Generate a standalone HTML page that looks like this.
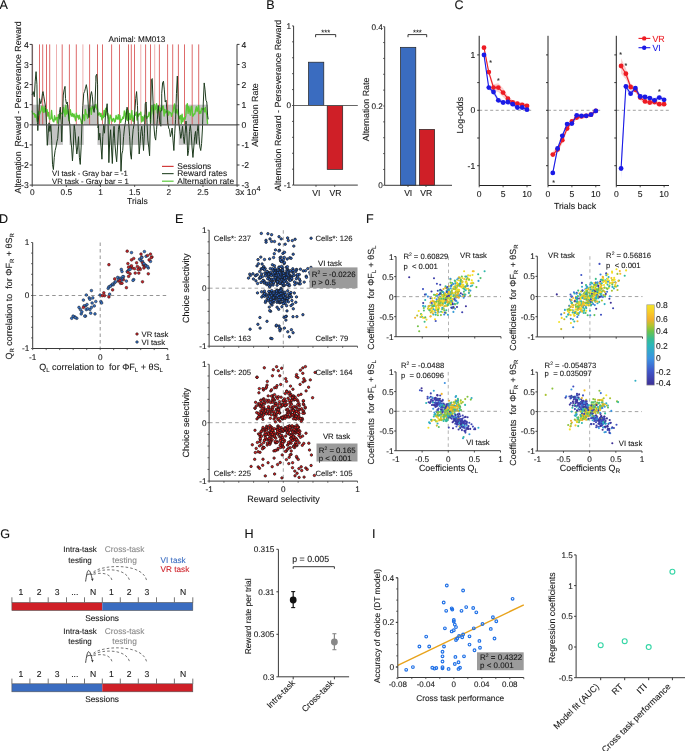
<!DOCTYPE html>
<html><head><meta charset="utf-8"><style>
html,body{margin:0;padding:0;background:#fff;}
svg{display:block;font-family:"Liberation Sans", sans-serif;will-change:transform;}
text{text-rendering:geometricPrecision;stroke:#000;stroke-width:0.2px;stroke-opacity:0.45;}
</style></head><body>
<svg width="685" height="751" viewBox="0 0 685 751">
<rect width="685" height="751" fill="#fff"/>
<text x="-0.6" y="9.0" font-size="12.6" fill="#111">A</text>
<text x="266.2" y="9.1" font-size="12.6" fill="#111">B</text>
<text x="454.4" y="9.2" font-size="12.6" fill="#111">C</text>
<text x="-1" y="223.4" font-size="12.6" fill="#111">D</text>
<text x="175.1" y="223.1" font-size="12.6" fill="#111">E</text>
<text x="366" y="222.9" font-size="12.6" fill="#111">F</text>
<text x="0.2" y="537.8" font-size="12.6" fill="#111">G</text>
<text x="244.5" y="537.8" font-size="12.6" fill="#111">H</text>
<text x="371.9" y="537.8" font-size="12.6" fill="#111">I</text>
<rect x="32.20" y="104.70" width="14.34" height="20.10" fill="#c4c4c4" stroke="none" stroke-width="0"/>
<rect x="62.94" y="104.70" width="6.49" height="20.10" fill="#c4c4c4" stroke="none" stroke-width="0"/>
<rect x="83.77" y="104.70" width="13.66" height="20.10" fill="#c4c4c4" stroke="none" stroke-width="0"/>
<rect x="151.04" y="104.70" width="27.73" height="20.10" fill="#c4c4c4" stroke="none" stroke-width="0"/>
<rect x="184.99" y="104.70" width="23.02" height="20.10" fill="#c4c4c4" stroke="none" stroke-width="0"/>
<rect x="46.54" y="124.80" width="16.39" height="20.10" fill="#c4c4c4" stroke="none" stroke-width="0"/>
<rect x="69.42" y="124.80" width="14.34" height="20.10" fill="#c4c4c4" stroke="none" stroke-width="0"/>
<rect x="97.43" y="124.80" width="52.25" height="20.10" fill="#c4c4c4" stroke="none" stroke-width="0"/>
<rect x="178.77" y="124.80" width="21.45" height="20.10" fill="#c4c4c4" stroke="none" stroke-width="0"/>
<line x1="32.60" y1="44.40" x2="32.60" y2="124.80" stroke="#d23c3c" stroke-width="0.9" stroke-opacity="0.45"/>
<line x1="39.50" y1="44.40" x2="39.50" y2="124.80" stroke="#d23c3c" stroke-width="0.9" stroke-opacity="0.85"/>
<line x1="42.70" y1="44.40" x2="42.70" y2="124.80" stroke="#d23c3c" stroke-width="0.9" stroke-opacity="0.85"/>
<line x1="46.50" y1="44.40" x2="46.50" y2="124.80" stroke="#d23c3c" stroke-width="0.9" stroke-opacity="0.85"/>
<line x1="49.70" y1="44.40" x2="49.70" y2="124.80" stroke="#d23c3c" stroke-width="0.9" stroke-opacity="0.85"/>
<line x1="56.50" y1="44.40" x2="56.50" y2="124.80" stroke="#d23c3c" stroke-width="0.9" stroke-opacity="0.45"/>
<line x1="62.20" y1="44.40" x2="62.20" y2="124.80" stroke="#d23c3c" stroke-width="0.9" stroke-opacity="0.85"/>
<line x1="69.40" y1="44.40" x2="69.40" y2="124.80" stroke="#d23c3c" stroke-width="0.9" stroke-opacity="0.85"/>
<line x1="76.30" y1="44.40" x2="76.30" y2="124.80" stroke="#d23c3c" stroke-width="0.9" stroke-opacity="0.85"/>
<line x1="82.90" y1="44.40" x2="82.90" y2="124.80" stroke="#d23c3c" stroke-width="0.9" stroke-opacity="0.45"/>
<line x1="89.60" y1="44.40" x2="89.60" y2="124.80" stroke="#d23c3c" stroke-width="0.9" stroke-opacity="0.85"/>
<line x1="97.50" y1="44.40" x2="97.50" y2="124.80" stroke="#d23c3c" stroke-width="0.9" stroke-opacity="0.85"/>
<line x1="102.50" y1="44.40" x2="102.50" y2="124.80" stroke="#d23c3c" stroke-width="0.9" stroke-opacity="0.85"/>
<line x1="111.60" y1="44.40" x2="111.60" y2="124.80" stroke="#d23c3c" stroke-width="0.9" stroke-opacity="0.85"/>
<line x1="119.50" y1="44.40" x2="119.50" y2="124.80" stroke="#d23c3c" stroke-width="0.9" stroke-opacity="0.85"/>
<line x1="128.50" y1="44.40" x2="128.50" y2="124.80" stroke="#d23c3c" stroke-width="0.9" stroke-opacity="0.85"/>
<line x1="131.30" y1="44.40" x2="131.30" y2="124.80" stroke="#d23c3c" stroke-width="0.9" stroke-opacity="0.85"/>
<line x1="134.50" y1="44.40" x2="134.50" y2="124.80" stroke="#d23c3c" stroke-width="0.9" stroke-opacity="0.85"/>
<line x1="140.80" y1="44.40" x2="140.80" y2="124.80" stroke="#d23c3c" stroke-width="0.9" stroke-opacity="0.45"/>
<line x1="145.60" y1="44.40" x2="145.60" y2="124.80" stroke="#d23c3c" stroke-width="0.9" stroke-opacity="0.85"/>
<line x1="150.50" y1="44.40" x2="150.50" y2="124.80" stroke="#d23c3c" stroke-width="0.9" stroke-opacity="0.85"/>
<line x1="154.70" y1="44.40" x2="154.70" y2="124.80" stroke="#d23c3c" stroke-width="0.9" stroke-opacity="0.45"/>
<line x1="159.40" y1="44.40" x2="159.40" y2="124.80" stroke="#d23c3c" stroke-width="0.9" stroke-opacity="0.85"/>
<line x1="167.60" y1="44.40" x2="167.60" y2="124.80" stroke="#d23c3c" stroke-width="0.9" stroke-opacity="0.85"/>
<line x1="172.70" y1="44.40" x2="172.70" y2="124.80" stroke="#d23c3c" stroke-width="0.9" stroke-opacity="0.85"/>
<line x1="178.40" y1="44.40" x2="178.40" y2="124.80" stroke="#d23c3c" stroke-width="0.9" stroke-opacity="0.85"/>
<line x1="184.50" y1="44.40" x2="184.50" y2="124.80" stroke="#d23c3c" stroke-width="0.9" stroke-opacity="0.85"/>
<line x1="192.20" y1="44.40" x2="192.20" y2="124.80" stroke="#d23c3c" stroke-width="0.9" stroke-opacity="0.85"/>
<line x1="198.70" y1="44.40" x2="198.70" y2="124.80" stroke="#d23c3c" stroke-width="0.9" stroke-opacity="0.85"/>
<path d="M32.08,110.66 L32.83,113.88 L33.58,113.78 L34.33,113.52 L35.08,117.26 L35.83,114.72 L36.58,117.71 L37.33,121.58 L38.08,113.43 L38.83,111.44 L39.58,114.16 L40.33,112.15 L41.08,110.61 L41.83,106.17 L42.58,109.09 L43.33,112.45 L44.08,106.70 L44.83,112.07 L45.58,108.58 L46.33,111.32 L47.08,109.60 L47.83,116.08 L48.58,112.53 L49.33,118.89 L50.08,119.20 L50.83,118.65 L51.58,110.54 L52.33,118.81 L53.08,121.01 L53.83,121.81 L54.58,115.76 L55.33,119.94 L56.08,118.06 L56.83,117.39 L57.58,123.18 L58.33,114.77 L59.08,116.40 L59.83,118.85 L60.58,112.52 L61.33,113.57 L62.08,113.66 L62.83,112.73 L63.58,107.41 L64.33,111.98 L65.08,116.48 L65.83,105.06 L66.58,114.11 L67.33,112.05 L68.08,109.91 L68.83,120.69 L69.58,116.74 L70.33,109.57 L71.08,114.41 L71.83,116.32 L72.58,113.41 L73.33,116.72 L74.08,114.25 L74.83,117.41 L75.58,120.72 L76.33,113.06 L77.08,117.06 L77.83,115.65 L78.58,119.02 L79.33,115.15 L80.08,118.59 L80.83,120.03 L81.58,123.81 L82.33,124.00 L83.08,114.62 L83.83,116.15 L84.58,120.50 L85.33,109.35 L86.08,114.03 L86.83,114.30 L87.58,118.32 L88.33,115.04 L89.08,110.05 L89.83,108.77 L90.58,108.09 L91.33,114.38 L92.08,106.59 L92.83,106.69 L93.58,108.80 L94.33,106.89 L95.08,107.16 L95.83,104.24 L96.58,108.99 L97.33,107.91 L98.08,115.19 L98.83,114.46 L99.58,112.83 L100.33,116.39 L101.08,113.50 L101.83,119.73 L102.58,115.68 L103.33,117.73 L104.08,110.42 L104.83,116.45 L105.58,108.71 L106.33,107.96 L107.08,115.10 L107.83,113.39 L108.58,118.00 L109.33,124.00 L110.08,115.04 L110.83,116.20 L111.58,119.73 L112.33,121.20 L113.08,118.65 L113.83,118.54 L114.58,121.99 L115.33,121.30 L116.08,115.33 L116.83,118.77 L117.58,119.01 L118.33,114.68 L119.08,119.49 L119.83,115.34 L120.58,122.48 L121.33,119.71 L122.08,119.50 L122.83,117.03 L123.58,118.45 L124.33,110.93 L125.08,113.85 L125.83,119.15 L126.58,109.41 L127.33,120.52 L128.08,110.48 L128.83,119.81 L129.58,113.53 L130.33,119.52 L131.08,116.87 L131.83,110.34 L132.58,120.74 L133.33,121.34 L134.08,115.61 L134.83,114.82 L135.58,115.25 L136.33,112.15 L137.08,120.15 L137.83,114.10 L138.58,116.16 L139.33,113.53 L140.08,114.35 L140.83,112.06 L141.58,121.88 L142.33,116.71 L143.08,121.15 L143.83,117.72 L144.58,115.22 L145.33,116.80 L146.08,116.10 L146.83,118.45 L147.58,116.74 L148.33,116.65 L149.08,112.18 L149.83,113.97 L150.58,122.47 L151.33,110.26 L152.08,105.43 L152.83,110.53 L153.58,114.97 L154.33,104.47 L155.08,109.58 L155.83,108.21 L156.58,103.74 L157.33,113.03 L158.08,109.96 L158.83,110.14 L159.58,107.05 L160.33,111.82 L161.08,108.23 L161.83,109.93 L162.58,106.44 L163.33,106.04 L164.08,116.04 L164.83,109.41 L165.58,112.82 L166.33,111.96 L167.08,110.75 L167.83,110.69 L168.58,115.20 L169.33,111.84 L170.08,112.60 L170.83,112.80 L171.58,116.25 L172.33,113.43 L173.08,111.36 L173.83,106.83 L174.58,103.85 L175.33,112.90 L176.08,113.15 L176.83,109.13 L177.58,112.41 L178.33,115.01 L179.08,116.89 L179.83,118.92 L180.58,115.37 L181.33,123.88 L182.08,114.14 L182.83,121.78 L183.58,118.32 L184.33,117.70 L185.08,119.45 L185.83,115.89 L186.58,105.59 L187.33,103.71 L188.08,113.42 L188.83,106.64 L189.58,110.79 L190.33,115.15 L191.08,106.84 L191.83,106.19 L192.58,116.32 L193.33,115.63 L194.08,113.77 L194.83,114.10 L195.58,109.94 L196.33,106.71 L197.08,111.59 L197.83,108.34 L198.58,105.60 L199.33,113.58 L200.08,111.35 L200.83,113.31 L201.58,108.20 L202.33,109.64 L203.08,108.53 L203.83,108.52 L204.58,111.88 L205.33,107.41 L206.08,111.83 L206.83,115.14 L207.58,124.00" fill="none" stroke="#5ac836" stroke-width="1.35" stroke-linejoin="round"/>
<path d="M32.08,95.06 L33.12,91.59 L34.33,96.79 L35.20,81.20 L36.07,71.66 L36.93,84.66 L37.45,122.79 L37.80,130.59 L38.67,115.86 L39.53,98.53 L40.75,103.73 L41.61,100.26 L42.48,93.33 L43.00,91.59 L43.86,96.79 L44.73,101.99 L45.60,107.19 L46.46,122.79 L47.33,145.32 L48.20,133.19 L49.06,122.79 L49.93,131.46 L50.80,124.52 L51.66,140.12 L52.53,164.38 L53.40,169.58 L54.26,157.45 L55.13,150.52 L56.00,147.05 L56.86,141.85 L57.73,138.39 L58.60,126.26 L59.46,112.39 L60.33,107.19 L61.20,124.52 L61.72,141.85 L62.58,115.86 L63.28,95.06 L64.14,89.86 L65.01,86.40 L65.53,98.53 L66.40,103.73 L67.26,101.99 L68.13,110.66 L68.99,119.32 L69.86,124.52 L70.73,140.12 L71.59,147.05 L72.46,160.92 L73.33,147.05 L74.19,124.52 L75.06,131.46 L75.93,143.59 L76.79,153.99 L77.66,147.05 L78.53,136.66 L79.39,157.45 L80.26,164.38 L81.13,147.05 L81.99,122.79 L82.86,105.46 L83.73,93.33 L84.59,91.59 L85.46,88.13 L86.33,84.66 L87.19,89.86 L88.06,101.99 L88.93,117.59 L89.79,107.19 L90.66,95.06 L91.53,91.59 L92.39,96.79 L93.26,108.93 L94.12,112.39 L94.99,103.73 L95.86,81.20 L95.87,76.00 L96.72,74.26 L96.73,74.26 L97.59,84.66 L97.60,101.99 L98.12,127.99 L98.46,124.52 L98.81,140.12 L99.85,133.19 L101.07,147.05 L101.93,159.19 L102.80,136.66 L103.67,124.52 L104.53,133.19 L105.40,115.86 L106.27,110.66 L107.13,103.73 L108.00,119.32 L108.86,162.65 L109.73,140.12 L110.60,129.72 L111.46,147.05 L112.33,163.52 L113.20,138.39 L114.06,126.26 L114.93,143.59 L115.80,153.99 L116.66,161.79 L117.53,147.05 L118.40,129.72 L119.26,124.52 L120.13,133.19 L121.00,171.32 L121.86,153.99 L122.73,150.52 L123.60,136.66 L124.46,127.99 L125.33,122.79 L126.20,115.86 L127.06,107.19 L127.93,110.66 L128.80,124.52 L129.66,136.66 L130.53,153.99 L131.40,159.19 L132.26,140.12 L133.13,129.72 L133.99,124.52 L134.86,110.66 L135.73,98.53 L136.59,91.59 L137.46,105.46 L138.33,131.46 L139.19,153.99 L140.06,143.59 L140.93,131.46 L141.79,126.26 L142.66,136.66 L143.53,150.52 L144.39,133.19 L145.26,103.73 L146.13,101.99 L146.99,122.79 L147.86,140.12 L148.73,147.05 L149.59,155.72 L150.46,119.32 L151.33,79.46 L152.19,78.60 L153.06,101.99 L153.93,126.26 L154.79,136.66 L155.66,140.12 L156.53,129.72 L157.39,119.32 L158.26,105.46 L159.12,115.86 L159.99,122.79 L160.00,122.79 L160.86,126.26 L160.87,110.66 L161.72,110.66 L161.73,93.33 L162.60,82.93 L163.47,81.20 L164.33,89.86 L165.20,101.99 L166.07,100.26 L166.93,110.66 L167.80,122.79 L168.67,127.99 L169.53,129.72 L170.40,136.66 L171.27,133.19 L172.13,127.99 L173.00,140.12 L173.86,150.52 L174.73,133.19 L175.60,119.32 L176.46,93.33 L177.33,76.00 L178.20,101.99 L179.06,124.52 L179.93,131.46 L180.80,138.39 L181.66,133.19 L182.53,126.26 L183.40,136.66 L184.26,143.59 L185.13,133.19 L186.00,121.06 L186.86,133.19 L187.73,155.72 L188.60,150.52 L189.46,131.46 L190.33,124.52 L191.20,133.19 L192.06,147.05 L192.93,157.45 L193.80,147.05 L194.66,136.66 L195.53,131.46 L196.40,143.59 L197.26,131.46 L198.13,124.52 L198.99,136.66 L199.86,147.05 L200.73,150.52 L201.59,143.59 L202.46,127.99 L203.33,101.99 L204.19,82.93 L205.06,89.86 L205.93,100.26 L206.79,101.99 L207.66,115.86 L208.18,119.32" fill="none" stroke="#1e3b1e" stroke-width="1.0" stroke-linejoin="round"/>
<line x1="32.20" y1="124.80" x2="237.00" y2="124.80" stroke="#555" stroke-width="1.2"/>
<line x1="32.20" y1="44.40" x2="32.20" y2="185.10" stroke="#3a3a3a" stroke-width="1"/>
<line x1="237.00" y1="44.40" x2="237.00" y2="185.10" stroke="#3a3a3a" stroke-width="1"/>
<line x1="32.20" y1="185.10" x2="237.00" y2="185.10" stroke="#3a3a3a" stroke-width="1"/>
<line x1="29.70" y1="185.10" x2="32.20" y2="185.10" stroke="#3a3a3a" stroke-width="1"/>
<line x1="237.00" y1="185.10" x2="239.50" y2="185.10" stroke="#3a3a3a" stroke-width="1"/>
<text x="28.70" y="188.20" font-size="8.6" text-anchor="end" fill="#1a1a1a">-3</text>
<text x="241.50" y="188.20" font-size="8.6" text-anchor="start" fill="#1a1a1a">-3</text>
<line x1="29.70" y1="165.00" x2="32.20" y2="165.00" stroke="#3a3a3a" stroke-width="1"/>
<line x1="237.00" y1="165.00" x2="239.50" y2="165.00" stroke="#3a3a3a" stroke-width="1"/>
<text x="28.70" y="168.10" font-size="8.6" text-anchor="end" fill="#1a1a1a">-2</text>
<text x="241.50" y="168.10" font-size="8.6" text-anchor="start" fill="#1a1a1a">-2</text>
<line x1="29.70" y1="144.90" x2="32.20" y2="144.90" stroke="#3a3a3a" stroke-width="1"/>
<line x1="237.00" y1="144.90" x2="239.50" y2="144.90" stroke="#3a3a3a" stroke-width="1"/>
<text x="28.70" y="148.00" font-size="8.6" text-anchor="end" fill="#1a1a1a">-1</text>
<text x="241.50" y="148.00" font-size="8.6" text-anchor="start" fill="#1a1a1a">-1</text>
<line x1="29.70" y1="124.80" x2="32.20" y2="124.80" stroke="#3a3a3a" stroke-width="1"/>
<line x1="237.00" y1="124.80" x2="239.50" y2="124.80" stroke="#3a3a3a" stroke-width="1"/>
<text x="28.70" y="127.90" font-size="8.6" text-anchor="end" fill="#1a1a1a">0</text>
<text x="241.50" y="127.90" font-size="8.6" text-anchor="start" fill="#1a1a1a">0</text>
<line x1="29.70" y1="104.70" x2="32.20" y2="104.70" stroke="#3a3a3a" stroke-width="1"/>
<line x1="237.00" y1="104.70" x2="239.50" y2="104.70" stroke="#3a3a3a" stroke-width="1"/>
<text x="28.70" y="107.80" font-size="8.6" text-anchor="end" fill="#1a1a1a">1</text>
<text x="241.50" y="107.80" font-size="8.6" text-anchor="start" fill="#1a1a1a">1</text>
<line x1="29.70" y1="84.60" x2="32.20" y2="84.60" stroke="#3a3a3a" stroke-width="1"/>
<line x1="237.00" y1="84.60" x2="239.50" y2="84.60" stroke="#3a3a3a" stroke-width="1"/>
<text x="28.70" y="87.70" font-size="8.6" text-anchor="end" fill="#1a1a1a">2</text>
<text x="241.50" y="87.70" font-size="8.6" text-anchor="start" fill="#1a1a1a">2</text>
<line x1="29.70" y1="64.50" x2="32.20" y2="64.50" stroke="#3a3a3a" stroke-width="1"/>
<line x1="237.00" y1="64.50" x2="239.50" y2="64.50" stroke="#3a3a3a" stroke-width="1"/>
<text x="28.70" y="67.60" font-size="8.6" text-anchor="end" fill="#1a1a1a">3</text>
<text x="241.50" y="67.60" font-size="8.6" text-anchor="start" fill="#1a1a1a">3</text>
<line x1="29.70" y1="44.40" x2="32.20" y2="44.40" stroke="#3a3a3a" stroke-width="1"/>
<line x1="237.00" y1="44.40" x2="239.50" y2="44.40" stroke="#3a3a3a" stroke-width="1"/>
<text x="28.70" y="47.50" font-size="8.6" text-anchor="end" fill="#1a1a1a">4</text>
<text x="241.50" y="47.50" font-size="8.6" text-anchor="start" fill="#1a1a1a">4</text>
<line x1="32.20" y1="185.10" x2="32.20" y2="186.80" stroke="#3a3a3a" stroke-width="1"/>
<text x="32.20" y="194.89" font-size="8.3" text-anchor="middle" fill="#1a1a1a">0</text>
<line x1="66.35" y1="185.10" x2="66.35" y2="186.80" stroke="#3a3a3a" stroke-width="1"/>
<text x="66.35" y="194.89" font-size="8.3" text-anchor="middle" fill="#1a1a1a">0.5</text>
<line x1="100.50" y1="185.10" x2="100.50" y2="186.80" stroke="#3a3a3a" stroke-width="1"/>
<text x="100.50" y="194.89" font-size="8.3" text-anchor="middle" fill="#1a1a1a">1</text>
<line x1="134.65" y1="185.10" x2="134.65" y2="186.80" stroke="#3a3a3a" stroke-width="1"/>
<text x="134.65" y="194.89" font-size="8.3" text-anchor="middle" fill="#1a1a1a">1.5</text>
<line x1="168.80" y1="185.10" x2="168.80" y2="186.80" stroke="#3a3a3a" stroke-width="1"/>
<text x="168.80" y="194.89" font-size="8.3" text-anchor="middle" fill="#1a1a1a">2</text>
<line x1="202.95" y1="185.10" x2="202.95" y2="186.80" stroke="#3a3a3a" stroke-width="1"/>
<text x="202.95" y="194.89" font-size="8.3" text-anchor="middle" fill="#1a1a1a">2.5</text>
<line x1="237.10" y1="185.10" x2="237.10" y2="186.80" stroke="#3a3a3a" stroke-width="1"/>
<text x="235.20" y="195.00" font-size="8.6" text-anchor="start" fill="#1a1a1a">3x 10</text>
<text x="256.60" y="191.09" font-size="7.2" text-anchor="start" fill="#1a1a1a">4</text>
<text x="137.40" y="203.80" font-size="8.6" text-anchor="middle" fill="#1a1a1a">Trials</text>
<text x="137.00" y="42.25" font-size="8.2" text-anchor="middle" fill="#1a1a1a">Animal: MM013</text>
<text x="17.60" y="110.57" font-size="8.8" text-anchor="middle" fill="#1a1a1a" transform="rotate(-90 17.60 107.40)">Alternation&#160; Reward - Perseverance Reward</text>
<text x="255.20" y="118.20" font-size="8.9" text-anchor="middle" fill="#1a1a1a" transform="rotate(-90 255.20 115.00)">Alternation Rate</text>
<text x="52.00" y="176.37" font-size="7.7" text-anchor="start" fill="#1a1a1a">VI task - Gray bar = -1</text>
<text x="52.00" y="184.47" font-size="7.7" text-anchor="start" fill="#1a1a1a">VR task - Gray bar = 1</text>
<line x1="162.00" y1="166.40" x2="173.60" y2="166.40" stroke="#d23c3c" stroke-width="1.2"/>
<text x="177.30" y="169.12" font-size="8.4" text-anchor="start" fill="#1a1a1a">Sessions</text>
<line x1="162.00" y1="173.60" x2="173.60" y2="173.60" stroke="#3a563a" stroke-width="1.2"/>
<text x="177.30" y="176.32" font-size="8.4" text-anchor="start" fill="#1a1a1a">Reward rates</text>
<line x1="162.00" y1="181.20" x2="173.60" y2="181.20" stroke="#5cc83c" stroke-width="1.2"/>
<text x="177.30" y="183.92" font-size="8.4" text-anchor="start" fill="#1a1a1a">Alternation rate</text>
<rect x="308.50" y="62.20" width="15.30" height="43.30" fill="#3a6cc0" stroke="#222" stroke-width="0.7"/>
<rect x="327.20" y="105.50" width="15.50" height="63.90" fill="#cf1f27" stroke="#222" stroke-width="0.7"/>
<line x1="293.60" y1="105.50" x2="357.80" y2="105.50" stroke="#555" stroke-width="0.9"/>
<line x1="293.60" y1="25.90" x2="293.60" y2="185.10" stroke="#3a3a3a" stroke-width="1"/>
<line x1="293.60" y1="185.10" x2="357.80" y2="185.10" stroke="#3a3a3a" stroke-width="1"/>
<line x1="292.00" y1="185.10" x2="293.60" y2="185.10" stroke="#3a3a3a" stroke-width="0.8"/>
<line x1="292.00" y1="169.18" x2="293.60" y2="169.18" stroke="#3a3a3a" stroke-width="0.8"/>
<line x1="292.00" y1="153.26" x2="293.60" y2="153.26" stroke="#3a3a3a" stroke-width="0.8"/>
<line x1="292.00" y1="137.34" x2="293.60" y2="137.34" stroke="#3a3a3a" stroke-width="0.8"/>
<line x1="292.00" y1="121.42" x2="293.60" y2="121.42" stroke="#3a3a3a" stroke-width="0.8"/>
<line x1="292.00" y1="105.50" x2="293.60" y2="105.50" stroke="#3a3a3a" stroke-width="0.8"/>
<line x1="292.00" y1="89.58" x2="293.60" y2="89.58" stroke="#3a3a3a" stroke-width="0.8"/>
<line x1="292.00" y1="73.66" x2="293.60" y2="73.66" stroke="#3a3a3a" stroke-width="0.8"/>
<line x1="292.00" y1="57.74" x2="293.60" y2="57.74" stroke="#3a3a3a" stroke-width="0.8"/>
<line x1="292.00" y1="41.82" x2="293.60" y2="41.82" stroke="#3a3a3a" stroke-width="0.8"/>
<line x1="292.00" y1="25.90" x2="293.60" y2="25.90" stroke="#3a3a3a" stroke-width="0.8"/>
<text x="291.00" y="28.85" font-size="8.2" text-anchor="end" fill="#1a1a1a">1</text>
<text x="291.00" y="108.45" font-size="8.2" text-anchor="end" fill="#1a1a1a">0</text>
<text x="291.00" y="188.05" font-size="8.2" text-anchor="end" fill="#1a1a1a">-1</text>
<line x1="315.60" y1="37.20" x2="315.60" y2="34.60" stroke="#222" stroke-width="0.9"/>
<line x1="315.60" y1="34.60" x2="335.70" y2="34.60" stroke="#222" stroke-width="0.9"/>
<line x1="335.70" y1="34.60" x2="335.70" y2="37.20" stroke="#222" stroke-width="0.9"/>
<text x="325.70" y="35.34" font-size="7.6" text-anchor="middle" fill="#1a1a1a">***</text>
<line x1="316.00" y1="185.10" x2="316.00" y2="186.70" stroke="#3a3a3a" stroke-width="1"/>
<line x1="334.70" y1="185.10" x2="334.70" y2="186.70" stroke="#3a3a3a" stroke-width="1"/>
<text x="316.40" y="195.80" font-size="8.6" text-anchor="middle" fill="#1a1a1a">VI</text>
<text x="335.50" y="195.80" font-size="8.6" text-anchor="middle" fill="#1a1a1a">VR</text>
<text x="277.60" y="108.50" font-size="8.9" text-anchor="middle" fill="#1a1a1a" transform="rotate(-90 277.60 105.30)">Alternation Reward - Perseverance Reward</text>
<rect x="400.50" y="47.32" width="15.30" height="137.98" fill="#3a6cc0" stroke="#222" stroke-width="0.7"/>
<rect x="419.40" y="129.39" width="15.20" height="55.91" fill="#cf1f27" stroke="#222" stroke-width="0.7"/>
<line x1="384.70" y1="26.70" x2="384.70" y2="185.30" stroke="#3a3a3a" stroke-width="1"/>
<line x1="384.70" y1="185.30" x2="452.00" y2="185.30" stroke="#3a3a3a" stroke-width="1"/>
<line x1="383.10" y1="185.30" x2="384.70" y2="185.30" stroke="#3a3a3a" stroke-width="0.8"/>
<line x1="383.10" y1="169.44" x2="384.70" y2="169.44" stroke="#3a3a3a" stroke-width="0.8"/>
<line x1="383.10" y1="153.58" x2="384.70" y2="153.58" stroke="#3a3a3a" stroke-width="0.8"/>
<line x1="383.10" y1="137.72" x2="384.70" y2="137.72" stroke="#3a3a3a" stroke-width="0.8"/>
<line x1="383.10" y1="121.86" x2="384.70" y2="121.86" stroke="#3a3a3a" stroke-width="0.8"/>
<line x1="383.10" y1="106.00" x2="384.70" y2="106.00" stroke="#3a3a3a" stroke-width="0.8"/>
<line x1="383.10" y1="90.14" x2="384.70" y2="90.14" stroke="#3a3a3a" stroke-width="0.8"/>
<line x1="383.10" y1="74.28" x2="384.70" y2="74.28" stroke="#3a3a3a" stroke-width="0.8"/>
<line x1="383.10" y1="58.42" x2="384.70" y2="58.42" stroke="#3a3a3a" stroke-width="0.8"/>
<line x1="383.10" y1="42.56" x2="384.70" y2="42.56" stroke="#3a3a3a" stroke-width="0.8"/>
<line x1="383.10" y1="26.70" x2="384.70" y2="26.70" stroke="#3a3a3a" stroke-width="0.8"/>
<text x="382.80" y="29.65" font-size="8.2" text-anchor="end" fill="#1a1a1a">0.4</text>
<text x="382.80" y="108.95" font-size="8.2" text-anchor="end" fill="#1a1a1a">0.2</text>
<text x="382.80" y="188.25" font-size="8.2" text-anchor="end" fill="#1a1a1a">0</text>
<line x1="408.00" y1="37.20" x2="408.00" y2="34.60" stroke="#222" stroke-width="0.9"/>
<line x1="408.00" y1="34.60" x2="426.70" y2="34.60" stroke="#222" stroke-width="0.9"/>
<line x1="426.70" y1="34.60" x2="426.70" y2="37.20" stroke="#222" stroke-width="0.9"/>
<text x="417.40" y="35.34" font-size="7.6" text-anchor="middle" fill="#1a1a1a">***</text>
<line x1="408.00" y1="185.30" x2="408.00" y2="186.90" stroke="#3a3a3a" stroke-width="1"/>
<line x1="426.00" y1="185.30" x2="426.00" y2="186.90" stroke="#3a3a3a" stroke-width="1"/>
<text x="408.20" y="195.80" font-size="8.6" text-anchor="middle" fill="#1a1a1a">VI</text>
<text x="426.30" y="195.80" font-size="8.6" text-anchor="middle" fill="#1a1a1a">VR</text>
<text x="366.20" y="112.60" font-size="8.9" text-anchor="middle" fill="#1a1a1a" transform="rotate(-90 366.20 109.40)">Alternation Rate</text>
<line x1="479.20" y1="110.30" x2="531.20" y2="110.30" stroke="#999" stroke-width="0.9" stroke-dasharray="3,2.5"/>
<path d="M483.98,44.93 L488.76,69.30 L493.54,84.26 L498.32,83.15 L503.10,88.14 L507.88,95.90 L512.66,100.33 L517.44,101.44 L522.22,102.54 L527.00,103.65 L527.00,108.08 L522.22,106.98 L517.44,105.87 L512.66,104.76 L507.88,101.44 L503.10,97.00 L498.32,92.02 L493.54,90.91 L488.76,74.84 L483.98,50.47Z" fill="#f4a0a0" fill-opacity="0.5"/>
<path d="M483.98,52.68 L488.76,85.37 L493.54,89.80 L498.32,98.11 L503.10,100.33 L507.88,99.77 L512.66,101.99 L517.44,105.31 L522.22,105.31 L527.00,107.53 L527.00,111.96 L522.22,109.75 L517.44,109.75 L512.66,106.42 L507.88,104.21 L503.10,104.76 L498.32,102.54 L493.54,94.23 L488.76,89.80 L483.98,57.12Z" fill="#a8a8f4" fill-opacity="0.5"/>
<path d="M483.98,47.70 L488.76,72.07 L493.54,87.59 L498.32,87.59 L503.10,92.57 L507.88,98.67 L512.66,102.54 L517.44,103.65 L522.22,104.76 L527.00,105.87" fill="none" stroke="#ee1c24" stroke-width="1.1" stroke-linejoin="round"/>
<circle cx="484.0" cy="47.7" r="2.4" fill="#ee1c24" stroke="none" stroke-width="0"/>
<circle cx="488.8" cy="72.1" r="2.4" fill="#ee1c24" stroke="none" stroke-width="0"/>
<circle cx="493.5" cy="87.6" r="2.4" fill="#ee1c24" stroke="none" stroke-width="0"/>
<circle cx="498.3" cy="87.6" r="2.4" fill="#ee1c24" stroke="none" stroke-width="0"/>
<circle cx="503.1" cy="92.6" r="2.4" fill="#ee1c24" stroke="none" stroke-width="0"/>
<circle cx="507.9" cy="98.7" r="2.4" fill="#ee1c24" stroke="none" stroke-width="0"/>
<circle cx="512.7" cy="102.5" r="2.4" fill="#ee1c24" stroke="none" stroke-width="0"/>
<circle cx="517.4" cy="103.7" r="2.4" fill="#ee1c24" stroke="none" stroke-width="0"/>
<circle cx="522.2" cy="104.8" r="2.4" fill="#ee1c24" stroke="none" stroke-width="0"/>
<circle cx="527.0" cy="105.9" r="2.4" fill="#ee1c24" stroke="none" stroke-width="0"/>
<path d="M483.98,54.90 L488.76,87.59 L493.54,92.02 L498.32,100.33 L503.10,102.54 L507.88,101.99 L512.66,104.21 L517.44,107.53 L522.22,107.53 L527.00,109.75" fill="none" stroke="#1a1ae6" stroke-width="1.1" stroke-linejoin="round"/>
<circle cx="484.0" cy="54.9" r="2.4" fill="#1a1ae6" stroke="none" stroke-width="0"/>
<circle cx="488.8" cy="87.6" r="2.4" fill="#1a1ae6" stroke="none" stroke-width="0"/>
<circle cx="493.5" cy="92.0" r="2.4" fill="#1a1ae6" stroke="none" stroke-width="0"/>
<circle cx="498.3" cy="100.3" r="2.4" fill="#1a1ae6" stroke="none" stroke-width="0"/>
<circle cx="503.1" cy="102.5" r="2.4" fill="#1a1ae6" stroke="none" stroke-width="0"/>
<circle cx="507.9" cy="102.0" r="2.4" fill="#1a1ae6" stroke="none" stroke-width="0"/>
<circle cx="512.7" cy="104.2" r="2.4" fill="#1a1ae6" stroke="none" stroke-width="0"/>
<circle cx="517.4" cy="107.5" r="2.4" fill="#1a1ae6" stroke="none" stroke-width="0"/>
<circle cx="522.2" cy="107.5" r="2.4" fill="#1a1ae6" stroke="none" stroke-width="0"/>
<circle cx="527.0" cy="109.7" r="2.4" fill="#1a1ae6" stroke="none" stroke-width="0"/>
<text x="490.67" y="65.37" font-size="7" text-anchor="middle" fill="#222">*</text>
<text x="498.32" y="82.54" font-size="7" text-anchor="middle" fill="#222">*</text>
<line x1="479.20" y1="35.80" x2="479.20" y2="185.50" stroke="#222" stroke-width="1"/>
<line x1="479.20" y1="185.50" x2="531.20" y2="185.50" stroke="#222" stroke-width="1"/>
<line x1="477.20" y1="54.90" x2="479.20" y2="54.90" stroke="#222" stroke-width="0.9"/>
<line x1="477.20" y1="82.60" x2="479.20" y2="82.60" stroke="#222" stroke-width="0.9"/>
<line x1="477.20" y1="110.30" x2="479.20" y2="110.30" stroke="#222" stroke-width="0.9"/>
<line x1="477.20" y1="138.00" x2="479.20" y2="138.00" stroke="#222" stroke-width="0.9"/>
<line x1="477.20" y1="165.70" x2="479.20" y2="165.70" stroke="#222" stroke-width="0.9"/>
<line x1="479.20" y1="185.50" x2="479.20" y2="187.30" stroke="#222" stroke-width="0.8"/>
<text x="479.20" y="197.40" font-size="8.6" text-anchor="middle" fill="#1a1a1a">0</text>
<line x1="503.10" y1="185.50" x2="503.10" y2="187.30" stroke="#222" stroke-width="0.8"/>
<text x="503.10" y="197.40" font-size="8.6" text-anchor="middle" fill="#1a1a1a">5</text>
<line x1="527.00" y1="185.50" x2="527.00" y2="187.30" stroke="#222" stroke-width="0.8"/>
<text x="527.00" y="197.40" font-size="8.6" text-anchor="middle" fill="#1a1a1a">10</text>
<text x="475.20" y="58.00" font-size="8.6" text-anchor="end" fill="#1a1a1a">1</text>
<text x="475.20" y="113.40" font-size="8.6" text-anchor="end" fill="#1a1a1a">0</text>
<text x="475.20" y="168.80" font-size="8.6" text-anchor="end" fill="#1a1a1a">-1</text>
<line x1="548.00" y1="110.30" x2="600.20" y2="110.30" stroke="#999" stroke-width="0.9" stroke-dasharray="3,2.5"/>
<path d="M552.78,151.85 L557.56,146.31 L562.34,136.89 L567.12,125.81 L571.90,119.16 L576.68,115.29 L581.46,114.18 L586.24,113.62 L591.02,112.52 L595.80,108.64 L595.80,113.07 L591.02,116.95 L586.24,118.06 L581.46,118.61 L576.68,119.72 L571.90,123.60 L567.12,131.35 L562.34,143.54 L557.56,152.96 L552.78,157.39Z" fill="#f4a0a0" fill-opacity="0.5"/>
<path d="M552.78,170.13 L557.56,146.31 L562.34,133.57 L567.12,121.93 L571.90,121.38 L576.68,113.62 L581.46,114.18 L586.24,114.18 L591.02,113.07 L595.80,109.19 L595.80,112.52 L591.02,116.39 L586.24,117.50 L581.46,117.50 L576.68,116.95 L571.90,125.81 L567.12,126.37 L562.34,138.00 L557.56,150.74 L552.78,175.67Z" fill="#a8a8f4" fill-opacity="0.5"/>
<path d="M552.78,154.62 L557.56,149.63 L562.34,140.22 L567.12,128.58 L571.90,121.38 L576.68,117.50 L581.46,116.39 L586.24,115.84 L591.02,114.73 L595.80,110.85" fill="none" stroke="#ee1c24" stroke-width="1.1" stroke-linejoin="round"/>
<circle cx="552.8" cy="154.6" r="2.4" fill="#ee1c24" stroke="none" stroke-width="0"/>
<circle cx="557.6" cy="149.6" r="2.4" fill="#ee1c24" stroke="none" stroke-width="0"/>
<circle cx="562.3" cy="140.2" r="2.4" fill="#ee1c24" stroke="none" stroke-width="0"/>
<circle cx="567.1" cy="128.6" r="2.4" fill="#ee1c24" stroke="none" stroke-width="0"/>
<circle cx="571.9" cy="121.4" r="2.4" fill="#ee1c24" stroke="none" stroke-width="0"/>
<circle cx="576.7" cy="117.5" r="2.4" fill="#ee1c24" stroke="none" stroke-width="0"/>
<circle cx="581.5" cy="116.4" r="2.4" fill="#ee1c24" stroke="none" stroke-width="0"/>
<circle cx="586.2" cy="115.8" r="2.4" fill="#ee1c24" stroke="none" stroke-width="0"/>
<circle cx="591.0" cy="114.7" r="2.4" fill="#ee1c24" stroke="none" stroke-width="0"/>
<circle cx="595.8" cy="110.9" r="2.4" fill="#ee1c24" stroke="none" stroke-width="0"/>
<path d="M552.78,172.90 L557.56,148.53 L562.34,135.78 L567.12,124.15 L571.90,123.60 L576.68,115.29 L581.46,115.84 L586.24,115.84 L591.02,114.73 L595.80,110.85" fill="none" stroke="#1a1ae6" stroke-width="1.1" stroke-linejoin="round"/>
<circle cx="552.8" cy="172.9" r="2.4" fill="#1a1ae6" stroke="none" stroke-width="0"/>
<circle cx="557.6" cy="148.5" r="2.4" fill="#1a1ae6" stroke="none" stroke-width="0"/>
<circle cx="562.3" cy="135.8" r="2.4" fill="#1a1ae6" stroke="none" stroke-width="0"/>
<circle cx="567.1" cy="124.1" r="2.4" fill="#1a1ae6" stroke="none" stroke-width="0"/>
<circle cx="571.9" cy="123.6" r="2.4" fill="#1a1ae6" stroke="none" stroke-width="0"/>
<circle cx="576.7" cy="115.3" r="2.4" fill="#1a1ae6" stroke="none" stroke-width="0"/>
<circle cx="581.5" cy="115.8" r="2.4" fill="#1a1ae6" stroke="none" stroke-width="0"/>
<circle cx="586.2" cy="115.8" r="2.4" fill="#1a1ae6" stroke="none" stroke-width="0"/>
<circle cx="591.0" cy="114.7" r="2.4" fill="#1a1ae6" stroke="none" stroke-width="0"/>
<circle cx="595.8" cy="110.9" r="2.4" fill="#1a1ae6" stroke="none" stroke-width="0"/>
<text x="553.74" y="185.03" font-size="7" text-anchor="middle" fill="#222">*</text>
<line x1="548.00" y1="35.80" x2="548.00" y2="185.50" stroke="#222" stroke-width="1"/>
<line x1="548.00" y1="185.50" x2="600.20" y2="185.50" stroke="#222" stroke-width="1"/>
<line x1="546.00" y1="54.90" x2="548.00" y2="54.90" stroke="#222" stroke-width="0.9"/>
<line x1="546.00" y1="82.60" x2="548.00" y2="82.60" stroke="#222" stroke-width="0.9"/>
<line x1="546.00" y1="110.30" x2="548.00" y2="110.30" stroke="#222" stroke-width="0.9"/>
<line x1="546.00" y1="138.00" x2="548.00" y2="138.00" stroke="#222" stroke-width="0.9"/>
<line x1="546.00" y1="165.70" x2="548.00" y2="165.70" stroke="#222" stroke-width="0.9"/>
<line x1="548.00" y1="185.50" x2="548.00" y2="187.30" stroke="#222" stroke-width="0.8"/>
<text x="548.00" y="197.40" font-size="8.6" text-anchor="middle" fill="#1a1a1a">0</text>
<line x1="571.90" y1="185.50" x2="571.90" y2="187.30" stroke="#222" stroke-width="0.8"/>
<text x="571.90" y="197.40" font-size="8.6" text-anchor="middle" fill="#1a1a1a">5</text>
<line x1="595.80" y1="185.50" x2="595.80" y2="187.30" stroke="#222" stroke-width="0.8"/>
<text x="595.80" y="197.40" font-size="8.6" text-anchor="middle" fill="#1a1a1a">10</text>
<line x1="616.30" y1="110.30" x2="669.00" y2="110.30" stroke="#999" stroke-width="0.9" stroke-dasharray="3,2.5"/>
<path d="M621.08,58.22 L625.86,68.20 L630.64,83.71 L635.42,87.03 L640.20,94.79 L644.98,99.22 L649.76,100.33 L654.54,99.77 L659.32,101.99 L664.10,101.99 L664.10,106.42 L659.32,106.42 L654.54,104.21 L649.76,104.76 L644.98,103.65 L640.20,100.33 L635.42,92.57 L630.64,90.36 L625.86,79.28 L621.08,73.74Z" fill="#f4a0a0" fill-opacity="0.5"/>
<path d="M621.08,157.39 L625.86,83.71 L630.64,90.91 L635.42,85.92 L640.20,94.23 L644.98,94.79 L649.76,95.90 L654.54,98.11 L659.32,95.34 L664.10,97.56 L664.10,101.99 L659.32,99.77 L654.54,102.54 L649.76,100.33 L644.98,99.22 L640.20,98.67 L635.42,90.36 L630.64,96.45 L625.86,89.25 L621.08,179.55Z" fill="#a8a8f4" fill-opacity="0.5"/>
<path d="M621.08,65.98 L625.86,73.74 L630.64,87.03 L635.42,89.80 L640.20,97.56 L644.98,101.44 L649.76,102.54 L654.54,101.99 L659.32,104.21 L664.10,104.21" fill="none" stroke="#ee1c24" stroke-width="1.1" stroke-linejoin="round"/>
<circle cx="621.1" cy="66.0" r="2.4" fill="#ee1c24" stroke="none" stroke-width="0"/>
<circle cx="625.9" cy="73.7" r="2.4" fill="#ee1c24" stroke="none" stroke-width="0"/>
<circle cx="630.6" cy="87.0" r="2.4" fill="#ee1c24" stroke="none" stroke-width="0"/>
<circle cx="635.4" cy="89.8" r="2.4" fill="#ee1c24" stroke="none" stroke-width="0"/>
<circle cx="640.2" cy="97.6" r="2.4" fill="#ee1c24" stroke="none" stroke-width="0"/>
<circle cx="645.0" cy="101.4" r="2.4" fill="#ee1c24" stroke="none" stroke-width="0"/>
<circle cx="649.8" cy="102.5" r="2.4" fill="#ee1c24" stroke="none" stroke-width="0"/>
<circle cx="654.5" cy="102.0" r="2.4" fill="#ee1c24" stroke="none" stroke-width="0"/>
<circle cx="659.3" cy="104.2" r="2.4" fill="#ee1c24" stroke="none" stroke-width="0"/>
<circle cx="664.1" cy="104.2" r="2.4" fill="#ee1c24" stroke="none" stroke-width="0"/>
<path d="M621.08,168.47 L625.86,86.48 L630.64,93.68 L635.42,88.14 L640.20,96.45 L644.98,97.00 L649.76,98.11 L654.54,100.33 L659.32,97.56 L664.10,99.77" fill="none" stroke="#1a1ae6" stroke-width="1.1" stroke-linejoin="round"/>
<circle cx="621.1" cy="168.5" r="2.4" fill="#1a1ae6" stroke="none" stroke-width="0"/>
<circle cx="625.9" cy="86.5" r="2.4" fill="#1a1ae6" stroke="none" stroke-width="0"/>
<circle cx="630.6" cy="93.7" r="2.4" fill="#1a1ae6" stroke="none" stroke-width="0"/>
<circle cx="635.4" cy="88.1" r="2.4" fill="#1a1ae6" stroke="none" stroke-width="0"/>
<circle cx="640.2" cy="96.5" r="2.4" fill="#1a1ae6" stroke="none" stroke-width="0"/>
<circle cx="645.0" cy="97.0" r="2.4" fill="#1a1ae6" stroke="none" stroke-width="0"/>
<circle cx="649.8" cy="98.1" r="2.4" fill="#1a1ae6" stroke="none" stroke-width="0"/>
<circle cx="654.5" cy="100.3" r="2.4" fill="#1a1ae6" stroke="none" stroke-width="0"/>
<circle cx="659.3" cy="97.6" r="2.4" fill="#1a1ae6" stroke="none" stroke-width="0"/>
<circle cx="664.1" cy="99.8" r="2.4" fill="#1a1ae6" stroke="none" stroke-width="0"/>
<text x="620.60" y="56.50" font-size="7" text-anchor="middle" fill="#222">*</text>
<text x="625.86" y="68.14" font-size="7" text-anchor="middle" fill="#222">*</text>
<text x="659.32" y="93.62" font-size="7" text-anchor="middle" fill="#222">*</text>
<line x1="616.30" y1="35.80" x2="616.30" y2="185.50" stroke="#222" stroke-width="1"/>
<line x1="616.30" y1="185.50" x2="669.00" y2="185.50" stroke="#222" stroke-width="1"/>
<line x1="614.30" y1="54.90" x2="616.30" y2="54.90" stroke="#222" stroke-width="0.9"/>
<line x1="614.30" y1="82.60" x2="616.30" y2="82.60" stroke="#222" stroke-width="0.9"/>
<line x1="614.30" y1="110.30" x2="616.30" y2="110.30" stroke="#222" stroke-width="0.9"/>
<line x1="614.30" y1="138.00" x2="616.30" y2="138.00" stroke="#222" stroke-width="0.9"/>
<line x1="614.30" y1="165.70" x2="616.30" y2="165.70" stroke="#222" stroke-width="0.9"/>
<line x1="616.30" y1="185.50" x2="616.30" y2="187.30" stroke="#222" stroke-width="0.8"/>
<text x="616.30" y="197.40" font-size="8.6" text-anchor="middle" fill="#1a1a1a">0</text>
<line x1="640.20" y1="185.50" x2="640.20" y2="187.30" stroke="#222" stroke-width="0.8"/>
<text x="640.20" y="197.40" font-size="8.6" text-anchor="middle" fill="#1a1a1a">5</text>
<line x1="664.10" y1="185.50" x2="664.10" y2="187.30" stroke="#222" stroke-width="0.8"/>
<text x="664.10" y="197.40" font-size="8.6" text-anchor="middle" fill="#1a1a1a">10</text>
<text x="460.20" y="118.37" font-size="8.8" text-anchor="middle" fill="#1a1a1a" transform="rotate(-90 460.20 115.20)">Log-odds</text>
<text x="575.00" y="208.97" font-size="8.8" text-anchor="middle" fill="#1a1a1a">Trials back</text>
<line x1="638.50" y1="38.40" x2="650.30" y2="38.40" stroke="#ee1c24" stroke-width="1.1"/>
<circle cx="644.2" cy="38.4" r="2.2" fill="#ee1c24" stroke="none" stroke-width="0"/>
<text x="652.40" y="41.60" font-size="8.9" text-anchor="start" fill="#ee1c24" style="stroke:#ee1c24">VR</text>
<line x1="638.50" y1="47.70" x2="650.30" y2="47.70" stroke="#1a1ae6" stroke-width="1.1"/>
<circle cx="644.2" cy="47.7" r="2.2" fill="#1a1ae6" stroke="none" stroke-width="0"/>
<text x="652.40" y="50.90" font-size="8.9" text-anchor="start" fill="#1a1ae6" style="stroke:#1a1ae6">VI</text>
<line x1="32.70" y1="295.50" x2="167.70" y2="295.50" stroke="#888" stroke-width="0.9" stroke-dasharray="3.5,3"/>
<line x1="100.20" y1="242.50" x2="100.20" y2="348.50" stroke="#888" stroke-width="0.9" stroke-dasharray="3.5,3"/>
<g stroke="#1a1a1a" stroke-width="0.5">
<circle cx="92.1" cy="303.0" r="1.35" fill="#3572c8"/>
<circle cx="121.3" cy="269.4" r="1.35" fill="#3572c8"/>
<circle cx="141.8" cy="257.0" r="1.35" fill="#cc2026"/>
<circle cx="123.5" cy="276.7" r="1.35" fill="#3572c8"/>
<circle cx="132.3" cy="268.0" r="1.35" fill="#cc2026"/>
<circle cx="136.6" cy="262.8" r="1.35" fill="#cc2026"/>
<circle cx="130.8" cy="266.5" r="1.35" fill="#cc2026"/>
<circle cx="134.5" cy="268.7" r="1.35" fill="#cc2026"/>
<circle cx="148.3" cy="273.8" r="1.35" fill="#cc2026"/>
<circle cx="100.9" cy="301.5" r="1.35" fill="#3572c8"/>
<circle cx="146.1" cy="256.3" r="1.35" fill="#3572c8"/>
<circle cx="85.5" cy="316.1" r="1.35" fill="#3572c8"/>
<circle cx="108.9" cy="264.7" r="1.35" fill="#cc2026"/>
<circle cx="84.8" cy="316.1" r="1.35" fill="#3572c8"/>
<circle cx="142.5" cy="281.8" r="1.35" fill="#cc2026"/>
<circle cx="113.3" cy="284.7" r="1.35" fill="#3572c8"/>
<circle cx="80.4" cy="309.6" r="1.35" fill="#3572c8"/>
<circle cx="89.2" cy="297.9" r="1.35" fill="#3572c8"/>
<circle cx="103.8" cy="292.8" r="1.35" fill="#cc2026"/>
<circle cx="133.7" cy="279.6" r="1.35" fill="#3572c8"/>
<circle cx="148.3" cy="268.0" r="1.35" fill="#3572c8"/>
<circle cx="108.2" cy="288.4" r="1.35" fill="#3572c8"/>
<circle cx="139.6" cy="259.2" r="1.35" fill="#3572c8"/>
<circle cx="89.9" cy="309.6" r="1.35" fill="#3572c8"/>
<circle cx="91.4" cy="307.4" r="1.35" fill="#3572c8"/>
<circle cx="83.4" cy="300.1" r="1.35" fill="#3572c8"/>
<circle cx="91.4" cy="290.6" r="1.35" fill="#3572c8"/>
<circle cx="141.0" cy="254.1" r="1.35" fill="#cc2026"/>
<circle cx="141.0" cy="260.7" r="1.35" fill="#3572c8"/>
<circle cx="81.2" cy="313.9" r="1.35" fill="#3572c8"/>
<circle cx="112.6" cy="284.0" r="1.35" fill="#3572c8"/>
<circle cx="76.8" cy="318.3" r="1.35" fill="#3572c8"/>
<circle cx="85.5" cy="305.9" r="1.35" fill="#3572c8"/>
<circle cx="127.2" cy="271.6" r="1.35" fill="#3572c8"/>
<circle cx="137.4" cy="266.5" r="1.35" fill="#cc2026"/>
<circle cx="128.6" cy="270.1" r="1.35" fill="#3572c8"/>
<circle cx="123.5" cy="279.6" r="1.35" fill="#cc2026"/>
<circle cx="114.7" cy="282.6" r="1.35" fill="#3572c8"/>
<circle cx="71.7" cy="318.3" r="1.35" fill="#3572c8"/>
<circle cx="87.0" cy="304.5" r="1.35" fill="#3572c8"/>
<circle cx="120.6" cy="283.3" r="1.35" fill="#cc2026"/>
<circle cx="143.2" cy="265.0" r="1.35" fill="#cc2026"/>
<circle cx="74.6" cy="316.9" r="1.35" fill="#3572c8"/>
<circle cx="112.6" cy="289.9" r="1.35" fill="#cc2026"/>
<circle cx="140.3" cy="269.4" r="1.35" fill="#cc2026"/>
<circle cx="114.7" cy="278.9" r="1.35" fill="#cc2026"/>
<circle cx="142.5" cy="261.4" r="1.35" fill="#3572c8"/>
<circle cx="122.8" cy="276.7" r="1.35" fill="#3572c8"/>
<circle cx="139.6" cy="268.0" r="1.35" fill="#cc2026"/>
<circle cx="145.4" cy="265.0" r="1.35" fill="#3572c8"/>
<circle cx="122.0" cy="278.9" r="1.35" fill="#3572c8"/>
<circle cx="117.7" cy="277.4" r="1.35" fill="#3572c8"/>
<circle cx="95.8" cy="301.5" r="1.35" fill="#3572c8"/>
<circle cx="128.6" cy="267.2" r="1.35" fill="#cc2026"/>
<circle cx="150.5" cy="254.1" r="1.35" fill="#cc2026"/>
<circle cx="108.9" cy="286.9" r="1.35" fill="#3572c8"/>
<circle cx="144.7" cy="266.5" r="1.35" fill="#cc2026"/>
<circle cx="94.3" cy="305.9" r="1.35" fill="#3572c8"/>
<circle cx="90.7" cy="313.2" r="1.35" fill="#3572c8"/>
<circle cx="146.1" cy="265.8" r="1.35" fill="#3572c8"/>
<circle cx="147.6" cy="266.5" r="1.35" fill="#3572c8"/>
<circle cx="147.6" cy="255.5" r="1.35" fill="#cc2026"/>
<circle cx="138.8" cy="273.1" r="1.35" fill="#cc2026"/>
<circle cx="130.1" cy="273.8" r="1.35" fill="#cc2026"/>
<circle cx="130.1" cy="269.4" r="1.35" fill="#3572c8"/>
<circle cx="84.1" cy="305.9" r="1.35" fill="#3572c8"/>
<circle cx="75.3" cy="317.6" r="1.35" fill="#3572c8"/>
<circle cx="92.8" cy="297.9" r="1.35" fill="#3572c8"/>
<circle cx="79.0" cy="307.4" r="1.35" fill="#3572c8"/>
<circle cx="86.3" cy="295.0" r="1.35" fill="#3572c8"/>
<circle cx="127.2" cy="251.2" r="1.35" fill="#cc2026"/>
<circle cx="109.6" cy="294.2" r="1.35" fill="#3572c8"/>
<circle cx="89.9" cy="299.3" r="1.35" fill="#3572c8"/>
<circle cx="100.1" cy="295.0" r="1.35" fill="#3572c8"/>
<circle cx="122.0" cy="271.6" r="1.35" fill="#3572c8"/>
<circle cx="127.9" cy="272.3" r="1.35" fill="#cc2026"/>
<circle cx="143.9" cy="268.0" r="1.35" fill="#cc2026"/>
<circle cx="131.5" cy="259.9" r="1.35" fill="#cc2026"/>
<circle cx="142.5" cy="262.8" r="1.35" fill="#cc2026"/>
<circle cx="127.9" cy="263.6" r="1.35" fill="#cc2026"/>
<circle cx="138.1" cy="269.4" r="1.35" fill="#cc2026"/>
<circle cx="118.4" cy="281.1" r="1.35" fill="#cc2026"/>
<circle cx="144.4" cy="251.6" r="1.35" fill="#3572c8"/>
<circle cx="135.2" cy="273.1" r="1.35" fill="#cc2026"/>
<circle cx="101.6" cy="303.0" r="1.35" fill="#3572c8"/>
<circle cx="73.1" cy="316.1" r="1.35" fill="#3572c8"/>
<circle cx="143.9" cy="263.6" r="1.35" fill="#3572c8"/>
<circle cx="115.5" cy="281.8" r="1.35" fill="#3572c8"/>
<circle cx="126.4" cy="287.7" r="1.35" fill="#cc2026"/>
<circle cx="122.0" cy="283.3" r="1.35" fill="#cc2026"/>
<circle cx="86.3" cy="309.6" r="1.35" fill="#3572c8"/>
<circle cx="131.5" cy="265.8" r="1.35" fill="#cc2026"/>
<circle cx="108.9" cy="296.9" r="1.35" fill="#cc2026"/>
<circle cx="152.0" cy="257.0" r="1.35" fill="#cc2026"/>
<circle cx="111.1" cy="285.5" r="1.35" fill="#3572c8"/>
<circle cx="133.7" cy="258.5" r="1.35" fill="#cc2026"/>
<circle cx="126.4" cy="281.1" r="1.35" fill="#3572c8"/>
<circle cx="151.2" cy="257.7" r="1.35" fill="#cc2026"/>
<circle cx="104.5" cy="295.7" r="1.35" fill="#cc2026"/>
<circle cx="102.3" cy="295.7" r="1.35" fill="#cc2026"/>
<circle cx="119.9" cy="278.2" r="1.35" fill="#3572c8"/>
<circle cx="131.5" cy="252.6" r="1.35" fill="#3572c8"/>
<circle cx="118.4" cy="279.6" r="1.35" fill="#3572c8"/>
<circle cx="95.0" cy="313.9" r="1.35" fill="#3572c8"/>
<circle cx="110.4" cy="286.2" r="1.35" fill="#3572c8"/>
<circle cx="133.0" cy="280.4" r="1.35" fill="#3572c8"/>
<circle cx="128.6" cy="276.4" r="1.35" fill="#cc2026"/>
<circle cx="141.8" cy="257.7" r="1.35" fill="#3572c8"/>
<circle cx="87.7" cy="308.8" r="1.35" fill="#3572c8"/>
<circle cx="150.5" cy="261.4" r="1.35" fill="#3572c8"/>
<circle cx="149.1" cy="259.9" r="1.35" fill="#cc2026"/>
<circle cx="121.3" cy="280.4" r="1.35" fill="#3572c8"/>
<circle cx="81.9" cy="311.8" r="1.35" fill="#3572c8"/>
<circle cx="119.9" cy="280.4" r="1.35" fill="#cc2026"/>
<circle cx="83.4" cy="307.4" r="1.35" fill="#cc2026"/>
</g>
<line x1="32.70" y1="242.50" x2="32.70" y2="348.50" stroke="#3a3a3a" stroke-width="1"/>
<line x1="32.70" y1="348.50" x2="167.70" y2="348.50" stroke="#3a3a3a" stroke-width="1"/>
<line x1="32.70" y1="348.50" x2="32.70" y2="350.10" stroke="#3a3a3a" stroke-width="0.8"/>
<line x1="31.10" y1="348.50" x2="32.70" y2="348.50" stroke="#3a3a3a" stroke-width="0.8"/>
<line x1="46.20" y1="348.50" x2="46.20" y2="350.10" stroke="#3a3a3a" stroke-width="0.8"/>
<line x1="31.10" y1="337.90" x2="32.70" y2="337.90" stroke="#3a3a3a" stroke-width="0.8"/>
<line x1="59.70" y1="348.50" x2="59.70" y2="350.10" stroke="#3a3a3a" stroke-width="0.8"/>
<line x1="31.10" y1="327.30" x2="32.70" y2="327.30" stroke="#3a3a3a" stroke-width="0.8"/>
<line x1="73.20" y1="348.50" x2="73.20" y2="350.10" stroke="#3a3a3a" stroke-width="0.8"/>
<line x1="31.10" y1="316.70" x2="32.70" y2="316.70" stroke="#3a3a3a" stroke-width="0.8"/>
<line x1="86.70" y1="348.50" x2="86.70" y2="350.10" stroke="#3a3a3a" stroke-width="0.8"/>
<line x1="31.10" y1="306.10" x2="32.70" y2="306.10" stroke="#3a3a3a" stroke-width="0.8"/>
<line x1="100.20" y1="348.50" x2="100.20" y2="350.10" stroke="#3a3a3a" stroke-width="0.8"/>
<line x1="31.10" y1="295.50" x2="32.70" y2="295.50" stroke="#3a3a3a" stroke-width="0.8"/>
<line x1="113.70" y1="348.50" x2="113.70" y2="350.10" stroke="#3a3a3a" stroke-width="0.8"/>
<line x1="31.10" y1="284.90" x2="32.70" y2="284.90" stroke="#3a3a3a" stroke-width="0.8"/>
<line x1="127.20" y1="348.50" x2="127.20" y2="350.10" stroke="#3a3a3a" stroke-width="0.8"/>
<line x1="31.10" y1="274.30" x2="32.70" y2="274.30" stroke="#3a3a3a" stroke-width="0.8"/>
<line x1="140.70" y1="348.50" x2="140.70" y2="350.10" stroke="#3a3a3a" stroke-width="0.8"/>
<line x1="31.10" y1="263.70" x2="32.70" y2="263.70" stroke="#3a3a3a" stroke-width="0.8"/>
<line x1="154.20" y1="348.50" x2="154.20" y2="350.10" stroke="#3a3a3a" stroke-width="0.8"/>
<line x1="31.10" y1="253.10" x2="32.70" y2="253.10" stroke="#3a3a3a" stroke-width="0.8"/>
<line x1="167.70" y1="348.50" x2="167.70" y2="350.10" stroke="#3a3a3a" stroke-width="0.8"/>
<line x1="31.10" y1="242.50" x2="32.70" y2="242.50" stroke="#3a3a3a" stroke-width="0.8"/>
<text x="29.30" y="245.45" font-size="8.2" text-anchor="end" fill="#1a1a1a">1</text>
<text x="29.30" y="298.45" font-size="8.2" text-anchor="end" fill="#1a1a1a">0</text>
<text x="29.30" y="351.45" font-size="8.2" text-anchor="end" fill="#1a1a1a">-1</text>
<text x="32.70" y="360.25" font-size="8.2" text-anchor="middle" fill="#1a1a1a">-1</text>
<text x="100.20" y="360.25" font-size="8.2" text-anchor="middle" fill="#1a1a1a">0</text>
<text x="167.70" y="360.25" font-size="8.2" text-anchor="middle" fill="#1a1a1a">1</text>
<circle cx="137.0" cy="334.0" r="1.3" fill="#cc2026" stroke="#1a1a1a" stroke-width="0.5"/>
<text x="141.50" y="336.77" font-size="7.7" text-anchor="start" fill="#1a1a1a">VR task</text>
<circle cx="137.0" cy="342.0" r="1.3" fill="#3572c8" stroke="#1a1a1a" stroke-width="0.5"/>
<text x="141.50" y="344.77" font-size="7.7" text-anchor="start" fill="#1a1a1a">VI task</text>
<text x="101.00" y="369.54" font-size="9" text-anchor="middle" fill="#1a1a1a">Q<tspan font-size="6" dy="2">L</tspan><tspan dy="-2"> correlation to&#160; for ΦF</tspan><tspan font-size="6" dy="2">L</tspan><tspan dy="-2"> + θS</tspan><tspan font-size="6" dy="2">L</tspan><tspan dy="-2"></tspan></text>
<text x="8.40" y="299.54" font-size="9" text-anchor="middle" fill="#1a1a1a" transform="rotate(-90 8.40 296.30)">Q<tspan font-size="6" dy="2">R</tspan><tspan dy="-2"> correlation to&#160; for ΦF</tspan><tspan font-size="6" dy="2">R</tspan><tspan dy="-2"> + θS</tspan><tspan font-size="6" dy="2">R</tspan><tspan dy="-2"></tspan></text>
<line x1="209.10" y1="288.20" x2="357.50" y2="288.20" stroke="#999" stroke-width="0.9" stroke-dasharray="3.5,3"/>
<line x1="283.30" y1="230.20" x2="283.30" y2="346.20" stroke="#999" stroke-width="0.9" stroke-dasharray="3.5,3"/>
<g fill="#2d66c8" stroke="#141414" stroke-width="0.7"><circle cx="296.7" cy="269.5" r="1.22"/><circle cx="275.8" cy="279.7" r="1.22"/><circle cx="278.9" cy="272.3" r="1.22"/><circle cx="289.0" cy="295.3" r="1.22"/><circle cx="276.4" cy="294.0" r="1.22"/><circle cx="283.5" cy="294.8" r="1.22"/><circle cx="282.5" cy="291.7" r="1.22"/><circle cx="284.6" cy="280.5" r="1.22"/><circle cx="269.3" cy="279.3" r="1.22"/><circle cx="266.3" cy="295.9" r="1.22"/><circle cx="276.6" cy="280.9" r="1.22"/><circle cx="289.8" cy="257.8" r="1.22"/><circle cx="285.1" cy="294.8" r="1.22"/><circle cx="284.0" cy="275.2" r="1.22"/><circle cx="263.4" cy="280.4" r="1.22"/><circle cx="264.5" cy="296.3" r="1.22"/><circle cx="270.3" cy="268.6" r="1.22"/><circle cx="282.0" cy="297.6" r="1.22"/><circle cx="267.5" cy="298.6" r="1.22"/><circle cx="257.3" cy="274.6" r="1.22"/><circle cx="289.4" cy="279.1" r="1.22"/><circle cx="283.9" cy="281.7" r="1.22"/><circle cx="276.6" cy="298.0" r="1.22"/><circle cx="285.4" cy="298.5" r="1.22"/><circle cx="287.6" cy="269.3" r="1.22"/><circle cx="259.7" cy="271.5" r="1.22"/><circle cx="278.4" cy="282.4" r="1.22"/><circle cx="267.0" cy="321.3" r="1.22"/><circle cx="259.4" cy="278.4" r="1.22"/><circle cx="282.7" cy="267.8" r="1.22"/><circle cx="264.2" cy="293.1" r="1.22"/><circle cx="289.1" cy="297.7" r="1.22"/><circle cx="284.4" cy="328.1" r="1.22"/><circle cx="270.3" cy="274.4" r="1.22"/><circle cx="280.8" cy="261.1" r="1.22"/><circle cx="273.5" cy="269.6" r="1.22"/><circle cx="261.4" cy="268.9" r="1.22"/><circle cx="306.2" cy="276.2" r="1.22"/><circle cx="261.3" cy="268.9" r="1.22"/><circle cx="271.3" cy="292.7" r="1.22"/><circle cx="269.1" cy="278.2" r="1.22"/><circle cx="282.0" cy="270.3" r="1.22"/><circle cx="291.2" cy="279.0" r="1.22"/><circle cx="258.0" cy="259.6" r="1.22"/><circle cx="273.0" cy="298.4" r="1.22"/><circle cx="287.2" cy="299.5" r="1.22"/><circle cx="276.5" cy="292.5" r="1.22"/><circle cx="273.4" cy="283.2" r="1.22"/><circle cx="276.7" cy="296.9" r="1.22"/><circle cx="263.1" cy="295.4" r="1.22"/><circle cx="293.3" cy="273.2" r="1.22"/><circle cx="272.0" cy="305.1" r="1.22"/><circle cx="291.0" cy="305.6" r="1.22"/><circle cx="284.4" cy="273.9" r="1.22"/><circle cx="281.4" cy="296.7" r="1.22"/><circle cx="260.6" cy="277.6" r="1.22"/><circle cx="278.3" cy="293.6" r="1.22"/><circle cx="283.4" cy="297.2" r="1.22"/><circle cx="282.9" cy="253.4" r="1.22"/><circle cx="273.7" cy="297.5" r="1.22"/><circle cx="288.3" cy="240.5" r="1.22"/><circle cx="271.7" cy="292.3" r="1.22"/><circle cx="273.2" cy="297.1" r="1.22"/><circle cx="269.4" cy="291.8" r="1.22"/><circle cx="280.1" cy="283.4" r="1.22"/><circle cx="264.5" cy="259.5" r="1.22"/><circle cx="280.9" cy="298.3" r="1.22"/><circle cx="285.2" cy="244.2" r="1.22"/><circle cx="282.9" cy="271.1" r="1.22"/><circle cx="279.9" cy="295.2" r="1.22"/><circle cx="267.7" cy="272.0" r="1.22"/><circle cx="265.8" cy="274.5" r="1.22"/><circle cx="291.7" cy="279.6" r="1.22"/><circle cx="274.0" cy="295.2" r="1.22"/><circle cx="250.4" cy="275.5" r="1.22"/><circle cx="270.8" cy="285.2" r="1.22"/><circle cx="270.6" cy="311.3" r="1.22"/><circle cx="279.3" cy="270.3" r="1.22"/><circle cx="255.5" cy="275.7" r="1.22"/><circle cx="274.2" cy="297.1" r="1.22"/><circle cx="268.7" cy="285.2" r="1.22"/><circle cx="279.5" cy="250.3" r="1.22"/><circle cx="290.2" cy="293.8" r="1.22"/><circle cx="284.3" cy="299.0" r="1.22"/><circle cx="274.5" cy="299.2" r="1.22"/><circle cx="289.7" cy="280.2" r="1.22"/><circle cx="286.7" cy="297.5" r="1.22"/><circle cx="299.1" cy="283.8" r="1.22"/><circle cx="277.2" cy="290.2" r="1.22"/><circle cx="264.9" cy="273.1" r="1.22"/><circle cx="259.9" cy="317.5" r="1.22"/><circle cx="287.6" cy="275.6" r="1.22"/><circle cx="285.5" cy="277.8" r="1.22"/><circle cx="278.5" cy="297.1" r="1.22"/><circle cx="270.0" cy="238.9" r="1.22"/><circle cx="283.8" cy="278.2" r="1.22"/><circle cx="273.5" cy="275.0" r="1.22"/><circle cx="283.1" cy="285.8" r="1.22"/><circle cx="281.5" cy="283.2" r="1.22"/><circle cx="279.1" cy="267.1" r="1.22"/><circle cx="278.7" cy="309.3" r="1.22"/><circle cx="268.2" cy="276.8" r="1.22"/><circle cx="290.2" cy="275.8" r="1.22"/><circle cx="282.3" cy="261.3" r="1.22"/><circle cx="250.1" cy="329.2" r="1.22"/><circle cx="287.4" cy="277.6" r="1.22"/><circle cx="284.3" cy="299.9" r="1.22"/><circle cx="281.4" cy="261.6" r="1.22"/><circle cx="286.3" cy="278.6" r="1.22"/><circle cx="282.0" cy="277.1" r="1.22"/><circle cx="272.5" cy="280.3" r="1.22"/><circle cx="305.4" cy="270.7" r="1.22"/><circle cx="276.9" cy="270.5" r="1.22"/><circle cx="284.3" cy="285.4" r="1.22"/><circle cx="286.3" cy="267.3" r="1.22"/><circle cx="296.9" cy="316.6" r="1.22"/><circle cx="281.6" cy="295.9" r="1.22"/><circle cx="278.0" cy="275.3" r="1.22"/><circle cx="285.2" cy="279.2" r="1.22"/><circle cx="285.4" cy="277.3" r="1.22"/><circle cx="279.4" cy="272.2" r="1.22"/><circle cx="273.3" cy="293.0" r="1.22"/><circle cx="278.3" cy="270.8" r="1.22"/><circle cx="275.5" cy="249.9" r="1.22"/><circle cx="282.8" cy="273.0" r="1.22"/><circle cx="273.0" cy="295.3" r="1.22"/><circle cx="249.8" cy="274.1" r="1.22"/><circle cx="280.6" cy="293.5" r="1.22"/><circle cx="299.3" cy="274.5" r="1.22"/><circle cx="284.3" cy="281.0" r="1.22"/><circle cx="277.0" cy="281.3" r="1.22"/><circle cx="279.3" cy="244.2" r="1.22"/><circle cx="273.4" cy="302.5" r="1.22"/><circle cx="286.8" cy="298.6" r="1.22"/><circle cx="274.3" cy="294.4" r="1.22"/><circle cx="281.7" cy="283.6" r="1.22"/><circle cx="281.1" cy="277.1" r="1.22"/><circle cx="289.4" cy="336.8" r="1.22"/><circle cx="290.9" cy="292.5" r="1.22"/><circle cx="279.1" cy="326.0" r="1.22"/><circle cx="281.0" cy="292.3" r="1.22"/><circle cx="266.1" cy="294.1" r="1.22"/><circle cx="264.6" cy="293.7" r="1.22"/><circle cx="292.8" cy="268.8" r="1.22"/><circle cx="273.6" cy="257.5" r="1.22"/><circle cx="275.7" cy="270.3" r="1.22"/><circle cx="282.9" cy="277.7" r="1.22"/><circle cx="260.1" cy="328.1" r="1.22"/><circle cx="309.7" cy="272.4" r="1.22"/><circle cx="277.1" cy="285.2" r="1.22"/><circle cx="300.1" cy="280.8" r="1.22"/><circle cx="288.7" cy="285.6" r="1.22"/><circle cx="296.7" cy="275.3" r="1.22"/><circle cx="289.5" cy="285.5" r="1.22"/><circle cx="257.9" cy="324.3" r="1.22"/><circle cx="284.1" cy="280.0" r="1.22"/><circle cx="295.1" cy="239.3" r="1.22"/><circle cx="267.9" cy="233.7" r="1.22"/><circle cx="275.5" cy="275.2" r="1.22"/><circle cx="269.8" cy="291.9" r="1.22"/><circle cx="283.3" cy="280.9" r="1.22"/><circle cx="283.2" cy="296.5" r="1.22"/><circle cx="275.2" cy="295.2" r="1.22"/><circle cx="279.2" cy="272.0" r="1.22"/><circle cx="265.4" cy="302.4" r="1.22"/><circle cx="293.0" cy="316.7" r="1.22"/><circle cx="269.7" cy="279.3" r="1.22"/><circle cx="293.8" cy="275.5" r="1.22"/><circle cx="287.2" cy="259.0" r="1.22"/><circle cx="268.5" cy="273.7" r="1.22"/><circle cx="286.9" cy="270.3" r="1.22"/><circle cx="273.2" cy="296.4" r="1.22"/><circle cx="272.9" cy="270.7" r="1.22"/><circle cx="293.1" cy="332.7" r="1.22"/><circle cx="293.8" cy="246.1" r="1.22"/><circle cx="296.3" cy="278.7" r="1.22"/><circle cx="279.5" cy="273.1" r="1.22"/><circle cx="281.6" cy="273.4" r="1.22"/><circle cx="281.0" cy="288.3" r="1.22"/><circle cx="277.3" cy="282.5" r="1.22"/><circle cx="289.9" cy="295.1" r="1.22"/><circle cx="279.5" cy="290.5" r="1.22"/><circle cx="267.2" cy="272.1" r="1.22"/><circle cx="287.2" cy="298.4" r="1.22"/><circle cx="283.2" cy="302.9" r="1.22"/><circle cx="294.3" cy="293.0" r="1.22"/><circle cx="281.0" cy="278.5" r="1.22"/><circle cx="300.3" cy="283.8" r="1.22"/><circle cx="283.9" cy="284.9" r="1.22"/><circle cx="304.2" cy="282.1" r="1.22"/><circle cx="280.3" cy="277.5" r="1.22"/><circle cx="279.1" cy="297.2" r="1.22"/><circle cx="295.8" cy="271.4" r="1.22"/><circle cx="265.7" cy="301.0" r="1.22"/><circle cx="278.5" cy="290.8" r="1.22"/><circle cx="263.5" cy="267.1" r="1.22"/><circle cx="278.1" cy="277.7" r="1.22"/><circle cx="266.0" cy="240.3" r="1.22"/><circle cx="286.3" cy="273.9" r="1.22"/><circle cx="279.1" cy="294.0" r="1.22"/><circle cx="279.9" cy="330.8" r="1.22"/><circle cx="284.2" cy="263.5" r="1.22"/><circle cx="279.6" cy="302.5" r="1.22"/><circle cx="257.6" cy="283.5" r="1.22"/><circle cx="310.4" cy="274.3" r="1.22"/><circle cx="275.7" cy="292.1" r="1.22"/><circle cx="293.2" cy="254.2" r="1.22"/><circle cx="271.7" cy="290.6" r="1.22"/><circle cx="269.6" cy="258.9" r="1.22"/><circle cx="289.8" cy="276.1" r="1.22"/><circle cx="268.3" cy="275.2" r="1.22"/><circle cx="275.3" cy="293.9" r="1.22"/><circle cx="263.8" cy="266.7" r="1.22"/><circle cx="265.2" cy="268.6" r="1.22"/><circle cx="276.0" cy="291.6" r="1.22"/><circle cx="272.2" cy="294.3" r="1.22"/><circle cx="280.3" cy="296.4" r="1.22"/><circle cx="281.2" cy="238.9" r="1.22"/><circle cx="274.9" cy="276.0" r="1.22"/><circle cx="284.9" cy="277.7" r="1.22"/><circle cx="279.7" cy="283.0" r="1.22"/><circle cx="270.7" cy="293.4" r="1.22"/><circle cx="278.0" cy="281.0" r="1.22"/><circle cx="273.0" cy="301.2" r="1.22"/><circle cx="272.4" cy="264.8" r="1.22"/><circle cx="288.4" cy="301.8" r="1.22"/><circle cx="261.7" cy="274.0" r="1.22"/><circle cx="291.8" cy="276.2" r="1.22"/><circle cx="287.7" cy="290.8" r="1.22"/><circle cx="281.8" cy="279.9" r="1.22"/><circle cx="303.3" cy="270.9" r="1.22"/><circle cx="280.6" cy="277.4" r="1.22"/><circle cx="273.1" cy="285.0" r="1.22"/><circle cx="267.7" cy="278.7" r="1.22"/><circle cx="270.4" cy="272.3" r="1.22"/><circle cx="271.1" cy="282.1" r="1.22"/><circle cx="284.5" cy="296.3" r="1.22"/><circle cx="275.5" cy="278.1" r="1.22"/><circle cx="261.3" cy="233.4" r="1.22"/><circle cx="272.4" cy="268.8" r="1.22"/><circle cx="277.7" cy="293.0" r="1.22"/><circle cx="281.9" cy="269.7" r="1.22"/><circle cx="296.8" cy="283.1" r="1.22"/><circle cx="281.1" cy="295.7" r="1.22"/><circle cx="270.2" cy="282.6" r="1.22"/><circle cx="264.4" cy="282.8" r="1.22"/><circle cx="283.5" cy="280.5" r="1.22"/><circle cx="310.9" cy="281.4" r="1.22"/><circle cx="286.6" cy="301.1" r="1.22"/><circle cx="261.0" cy="282.4" r="1.22"/><circle cx="275.1" cy="292.0" r="1.22"/><circle cx="294.8" cy="284.7" r="1.22"/><circle cx="262.1" cy="264.0" r="1.22"/><circle cx="284.4" cy="295.1" r="1.22"/><circle cx="261.8" cy="297.0" r="1.22"/><circle cx="262.9" cy="280.7" r="1.22"/><circle cx="281.6" cy="299.0" r="1.22"/><circle cx="267.7" cy="272.7" r="1.22"/><circle cx="294.5" cy="281.9" r="1.22"/><circle cx="285.9" cy="279.4" r="1.22"/><circle cx="286.3" cy="316.3" r="1.22"/><circle cx="285.9" cy="273.9" r="1.22"/><circle cx="280.6" cy="275.4" r="1.22"/><circle cx="265.5" cy="275.8" r="1.22"/><circle cx="287.8" cy="273.7" r="1.22"/><circle cx="296.5" cy="296.9" r="1.22"/><circle cx="302.9" cy="314.7" r="1.22"/><circle cx="285.1" cy="303.6" r="1.22"/><circle cx="280.1" cy="296.2" r="1.22"/><circle cx="285.7" cy="294.6" r="1.22"/><circle cx="271.6" cy="234.7" r="1.22"/><circle cx="284.1" cy="317.3" r="1.22"/><circle cx="291.4" cy="329.7" r="1.22"/><circle cx="279.0" cy="269.9" r="1.22"/><circle cx="281.3" cy="295.3" r="1.22"/><circle cx="279.0" cy="236.7" r="1.22"/><circle cx="271.4" cy="275.1" r="1.22"/><circle cx="287.4" cy="273.9" r="1.22"/><circle cx="282.7" cy="283.4" r="1.22"/><circle cx="277.0" cy="302.3" r="1.22"/><circle cx="279.7" cy="302.3" r="1.22"/><circle cx="253.4" cy="279.0" r="1.22"/><circle cx="286.6" cy="305.7" r="1.22"/><circle cx="311.0" cy="267.4" r="1.22"/><circle cx="284.4" cy="262.4" r="1.22"/><circle cx="273.8" cy="275.7" r="1.22"/><circle cx="285.7" cy="277.2" r="1.22"/><circle cx="280.1" cy="290.9" r="1.22"/><circle cx="267.0" cy="271.4" r="1.22"/><circle cx="280.2" cy="292.0" r="1.22"/><circle cx="277.1" cy="280.2" r="1.22"/><circle cx="283.8" cy="300.3" r="1.22"/><circle cx="270.8" cy="338.3" r="1.22"/><circle cx="266.1" cy="242.2" r="1.22"/><circle cx="282.5" cy="293.6" r="1.22"/><circle cx="289.4" cy="271.5" r="1.22"/><circle cx="288.8" cy="283.9" r="1.22"/><circle cx="284.9" cy="292.2" r="1.22"/><circle cx="280.4" cy="302.5" r="1.22"/><circle cx="291.1" cy="277.6" r="1.22"/><circle cx="286.4" cy="277.5" r="1.22"/><circle cx="307.8" cy="268.6" r="1.22"/><circle cx="271.9" cy="301.7" r="1.22"/><circle cx="282.7" cy="270.1" r="1.22"/><circle cx="287.6" cy="237.9" r="1.22"/><circle cx="274.5" cy="273.6" r="1.22"/><circle cx="285.9" cy="320.1" r="1.22"/><circle cx="257.5" cy="292.9" r="1.22"/><circle cx="272.9" cy="297.4" r="1.22"/><circle cx="264.7" cy="281.7" r="1.22"/><circle cx="280.6" cy="277.0" r="1.22"/><circle cx="278.9" cy="251.0" r="1.22"/><circle cx="277.1" cy="307.2" r="1.22"/><circle cx="280.1" cy="257.7" r="1.22"/><circle cx="255.9" cy="280.8" r="1.22"/><circle cx="291.1" cy="258.3" r="1.22"/><circle cx="263.5" cy="268.7" r="1.22"/><circle cx="275.5" cy="271.6" r="1.22"/><circle cx="283.0" cy="295.1" r="1.22"/><circle cx="266.6" cy="284.5" r="1.22"/><circle cx="297.6" cy="276.9" r="1.22"/><circle cx="288.7" cy="293.7" r="1.22"/><circle cx="268.7" cy="294.7" r="1.22"/><circle cx="278.0" cy="295.6" r="1.22"/><circle cx="281.8" cy="296.3" r="1.22"/><circle cx="270.9" cy="274.3" r="1.22"/><circle cx="252.9" cy="273.8" r="1.22"/><circle cx="291.3" cy="277.5" r="1.22"/><circle cx="282.3" cy="276.7" r="1.22"/><circle cx="257.0" cy="265.9" r="1.22"/><circle cx="274.8" cy="298.8" r="1.22"/><circle cx="286.7" cy="272.1" r="1.22"/><circle cx="283.3" cy="259.7" r="1.22"/><circle cx="284.3" cy="257.4" r="1.22"/><circle cx="279.5" cy="302.5" r="1.22"/><circle cx="272.1" cy="299.1" r="1.22"/><circle cx="291.9" cy="300.5" r="1.22"/><circle cx="275.4" cy="275.4" r="1.22"/><circle cx="262.4" cy="276.6" r="1.22"/><circle cx="275.6" cy="293.7" r="1.22"/><circle cx="288.4" cy="271.2" r="1.22"/><circle cx="269.7" cy="310.6" r="1.22"/><circle cx="275.2" cy="277.7" r="1.22"/><circle cx="279.6" cy="291.2" r="1.22"/><circle cx="271.3" cy="275.6" r="1.22"/><circle cx="277.3" cy="272.6" r="1.22"/><circle cx="271.6" cy="241.4" r="1.22"/><circle cx="280.9" cy="299.6" r="1.22"/><circle cx="263.0" cy="268.3" r="1.22"/><circle cx="284.7" cy="274.8" r="1.22"/><circle cx="275.0" cy="296.9" r="1.22"/><circle cx="280.3" cy="281.7" r="1.22"/><circle cx="280.0" cy="301.7" r="1.22"/><circle cx="295.8" cy="302.3" r="1.22"/><circle cx="292.3" cy="240.6" r="1.22"/><circle cx="281.8" cy="293.3" r="1.22"/><circle cx="285.7" cy="316.6" r="1.22"/><circle cx="276.3" cy="275.3" r="1.22"/><circle cx="281.4" cy="289.6" r="1.22"/><circle cx="273.8" cy="298.1" r="1.22"/><circle cx="278.2" cy="276.2" r="1.22"/><circle cx="269.2" cy="299.9" r="1.22"/><circle cx="273.9" cy="296.5" r="1.22"/><circle cx="282.2" cy="272.4" r="1.22"/><circle cx="278.6" cy="278.8" r="1.22"/><circle cx="277.2" cy="281.2" r="1.22"/><circle cx="270.9" cy="303.6" r="1.22"/><circle cx="271.8" cy="279.7" r="1.22"/><circle cx="281.4" cy="297.8" r="1.22"/><circle cx="284.1" cy="302.3" r="1.22"/><circle cx="289.2" cy="274.4" r="1.22"/><circle cx="274.8" cy="292.8" r="1.22"/><circle cx="277.6" cy="280.3" r="1.22"/><circle cx="266.4" cy="283.3" r="1.22"/><circle cx="269.3" cy="307.1" r="1.22"/><circle cx="272.5" cy="293.2" r="1.22"/><circle cx="248.5" cy="278.1" r="1.22"/><circle cx="260.5" cy="276.6" r="1.22"/><circle cx="280.6" cy="328.9" r="1.22"/><circle cx="285.0" cy="280.7" r="1.22"/><circle cx="274.0" cy="297.3" r="1.22"/><circle cx="268.2" cy="283.0" r="1.22"/><circle cx="276.1" cy="291.1" r="1.22"/><circle cx="292.7" cy="304.1" r="1.22"/><circle cx="280.4" cy="273.7" r="1.22"/><circle cx="279.9" cy="283.0" r="1.22"/><circle cx="287.2" cy="284.4" r="1.22"/><circle cx="282.8" cy="276.7" r="1.22"/><circle cx="268.7" cy="273.6" r="1.22"/><circle cx="287.0" cy="310.9" r="1.22"/><circle cx="287.8" cy="331.8" r="1.22"/><circle cx="279.0" cy="276.9" r="1.22"/><circle cx="297.6" cy="274.7" r="1.22"/><circle cx="271.6" cy="298.4" r="1.22"/><circle cx="276.2" cy="295.1" r="1.22"/><circle cx="261.6" cy="291.8" r="1.22"/><circle cx="281.0" cy="257.1" r="1.22"/><circle cx="282.4" cy="299.6" r="1.22"/><circle cx="277.4" cy="294.1" r="1.22"/><circle cx="260.5" cy="277.3" r="1.22"/><circle cx="306.5" cy="277.3" r="1.22"/><circle cx="274.4" cy="265.8" r="1.22"/><circle cx="277.3" cy="281.2" r="1.22"/><circle cx="277.0" cy="300.8" r="1.22"/><circle cx="279.1" cy="267.3" r="1.22"/><circle cx="277.1" cy="281.8" r="1.22"/><circle cx="278.1" cy="269.9" r="1.22"/><circle cx="256.1" cy="275.2" r="1.22"/><circle cx="292.0" cy="271.4" r="1.22"/><circle cx="293.1" cy="270.5" r="1.22"/><circle cx="277.5" cy="281.8" r="1.22"/><circle cx="279.4" cy="328.4" r="1.22"/><circle cx="288.4" cy="276.1" r="1.22"/><circle cx="269.7" cy="286.9" r="1.22"/><circle cx="278.0" cy="279.1" r="1.22"/><circle cx="276.2" cy="293.3" r="1.22"/><circle cx="284.5" cy="252.3" r="1.22"/><circle cx="287.7" cy="272.2" r="1.22"/><circle cx="271.3" cy="295.3" r="1.22"/><circle cx="296.0" cy="269.9" r="1.22"/><circle cx="278.3" cy="275.0" r="1.22"/><circle cx="274.3" cy="253.7" r="1.22"/><circle cx="274.5" cy="241.5" r="1.22"/><circle cx="258.4" cy="263.8" r="1.22"/><circle cx="287.4" cy="266.7" r="1.22"/><circle cx="268.2" cy="300.6" r="1.22"/><circle cx="264.1" cy="282.9" r="1.22"/><circle cx="291.8" cy="278.3" r="1.22"/><circle cx="300.4" cy="269.2" r="1.22"/><circle cx="280.4" cy="259.8" r="1.22"/><circle cx="269.1" cy="295.6" r="1.22"/><circle cx="272.0" cy="338.7" r="1.22"/><circle cx="275.2" cy="295.1" r="1.22"/><circle cx="275.5" cy="273.1" r="1.22"/><circle cx="283.7" cy="275.9" r="1.22"/><circle cx="273.7" cy="282.6" r="1.22"/><circle cx="273.9" cy="300.5" r="1.22"/><circle cx="268.4" cy="298.7" r="1.22"/><circle cx="280.8" cy="293.5" r="1.22"/><circle cx="284.9" cy="297.8" r="1.22"/><circle cx="260.8" cy="257.1" r="1.22"/><circle cx="275.0" cy="273.0" r="1.22"/><circle cx="275.1" cy="268.6" r="1.22"/><circle cx="276.2" cy="326.0" r="1.22"/><circle cx="281.9" cy="306.7" r="1.22"/><circle cx="283.2" cy="303.6" r="1.22"/><circle cx="278.8" cy="294.5" r="1.22"/><circle cx="286.8" cy="282.1" r="1.22"/><circle cx="270.7" cy="299.4" r="1.22"/><circle cx="282.8" cy="272.9" r="1.22"/><circle cx="270.4" cy="302.3" r="1.22"/><circle cx="279.6" cy="272.4" r="1.22"/><circle cx="291.5" cy="296.9" r="1.22"/><circle cx="284.2" cy="281.8" r="1.22"/><circle cx="279.1" cy="297.5" r="1.22"/><circle cx="280.9" cy="290.8" r="1.22"/><circle cx="290.3" cy="270.7" r="1.22"/><circle cx="264.4" cy="269.8" r="1.22"/><circle cx="293.3" cy="308.8" r="1.22"/><circle cx="268.8" cy="291.4" r="1.22"/><circle cx="288.2" cy="274.5" r="1.22"/><circle cx="283.7" cy="273.1" r="1.22"/><circle cx="290.0" cy="295.6" r="1.22"/><circle cx="279.1" cy="300.6" r="1.22"/><circle cx="273.8" cy="293.4" r="1.22"/><circle cx="273.4" cy="297.8" r="1.22"/><circle cx="280.0" cy="299.3" r="1.22"/><circle cx="281.5" cy="266.4" r="1.22"/><circle cx="283.3" cy="296.0" r="1.22"/><circle cx="274.0" cy="291.9" r="1.22"/><circle cx="272.0" cy="279.1" r="1.22"/><circle cx="277.9" cy="270.0" r="1.22"/><circle cx="290.4" cy="280.2" r="1.22"/><circle cx="311.1" cy="238.2" r="1.22"/><circle cx="279.1" cy="299.7" r="1.22"/><circle cx="268.8" cy="274.1" r="1.22"/><circle cx="276.4" cy="325.2" r="1.22"/><circle cx="264.4" cy="291.1" r="1.22"/><circle cx="269.5" cy="296.8" r="1.22"/><circle cx="276.6" cy="291.0" r="1.22"/><circle cx="281.0" cy="297.3" r="1.22"/><circle cx="283.9" cy="275.6" r="1.22"/><circle cx="299.4" cy="279.1" r="1.22"/><circle cx="284.6" cy="278.1" r="1.22"/><circle cx="287.9" cy="275.3" r="1.22"/><circle cx="277.3" cy="295.7" r="1.22"/><circle cx="274.6" cy="272.7" r="1.22"/><circle cx="273.0" cy="273.9" r="1.22"/><circle cx="273.8" cy="279.2" r="1.22"/><circle cx="287.3" cy="274.1" r="1.22"/></g>
<rect x="309.50" y="267.40" width="48.00" height="20.80" fill="#9b9b9b" stroke="none" stroke-width="0"/>
<text x="311.80" y="276.71" font-size="7.8" text-anchor="start" fill="#1a1a1a">R<tspan font-size="5" dy="-3">2</tspan><tspan dy="3"> = -0.0226</tspan></text>
<text x="311.80" y="284.81" font-size="7.8" text-anchor="start" fill="#1a1a1a">p &gt; 0.5</text>
<text x="318.00" y="265.81" font-size="7.8" text-anchor="start" fill="#1a1a1a">VI task</text>
<line x1="209.10" y1="230.20" x2="209.10" y2="346.20" stroke="#3a3a3a" stroke-width="1"/>
<line x1="209.10" y1="346.20" x2="357.50" y2="346.20" stroke="#3a3a3a" stroke-width="1"/>
<line x1="209.10" y1="346.20" x2="209.10" y2="347.80" stroke="#3a3a3a" stroke-width="0.8"/>
<line x1="207.50" y1="346.20" x2="209.10" y2="346.20" stroke="#3a3a3a" stroke-width="0.8"/>
<line x1="223.94" y1="346.20" x2="223.94" y2="347.80" stroke="#3a3a3a" stroke-width="0.8"/>
<line x1="207.50" y1="334.60" x2="209.10" y2="334.60" stroke="#3a3a3a" stroke-width="0.8"/>
<line x1="238.78" y1="346.20" x2="238.78" y2="347.80" stroke="#3a3a3a" stroke-width="0.8"/>
<line x1="207.50" y1="323.00" x2="209.10" y2="323.00" stroke="#3a3a3a" stroke-width="0.8"/>
<line x1="253.62" y1="346.20" x2="253.62" y2="347.80" stroke="#3a3a3a" stroke-width="0.8"/>
<line x1="207.50" y1="311.40" x2="209.10" y2="311.40" stroke="#3a3a3a" stroke-width="0.8"/>
<line x1="268.46" y1="346.20" x2="268.46" y2="347.80" stroke="#3a3a3a" stroke-width="0.8"/>
<line x1="207.50" y1="299.80" x2="209.10" y2="299.80" stroke="#3a3a3a" stroke-width="0.8"/>
<line x1="283.30" y1="346.20" x2="283.30" y2="347.80" stroke="#3a3a3a" stroke-width="0.8"/>
<line x1="207.50" y1="288.20" x2="209.10" y2="288.20" stroke="#3a3a3a" stroke-width="0.8"/>
<line x1="298.14" y1="346.20" x2="298.14" y2="347.80" stroke="#3a3a3a" stroke-width="0.8"/>
<line x1="207.50" y1="276.60" x2="209.10" y2="276.60" stroke="#3a3a3a" stroke-width="0.8"/>
<line x1="312.98" y1="346.20" x2="312.98" y2="347.80" stroke="#3a3a3a" stroke-width="0.8"/>
<line x1="207.50" y1="265.00" x2="209.10" y2="265.00" stroke="#3a3a3a" stroke-width="0.8"/>
<line x1="327.82" y1="346.20" x2="327.82" y2="347.80" stroke="#3a3a3a" stroke-width="0.8"/>
<line x1="207.50" y1="253.40" x2="209.10" y2="253.40" stroke="#3a3a3a" stroke-width="0.8"/>
<line x1="342.66" y1="346.20" x2="342.66" y2="347.80" stroke="#3a3a3a" stroke-width="0.8"/>
<line x1="207.50" y1="241.80" x2="209.10" y2="241.80" stroke="#3a3a3a" stroke-width="0.8"/>
<line x1="357.50" y1="346.20" x2="357.50" y2="347.80" stroke="#3a3a3a" stroke-width="0.8"/>
<line x1="207.50" y1="230.20" x2="209.10" y2="230.20" stroke="#3a3a3a" stroke-width="0.8"/>
<text x="206.50" y="233.15" font-size="8.2" text-anchor="end" fill="#1a1a1a">1</text>
<text x="206.50" y="291.15" font-size="8.2" text-anchor="end" fill="#1a1a1a">0</text>
<text x="206.50" y="349.15" font-size="8.2" text-anchor="end" fill="#1a1a1a">-1</text>
<text x="213.80" y="240.97" font-size="7.7" text-anchor="start" fill="#1a1a1a">Cells*: 237</text>
<text x="315.40" y="240.97" font-size="7.7" text-anchor="start" fill="#1a1a1a">Cells*: 126</text>
<text x="213.80" y="341.37" font-size="7.7" text-anchor="start" fill="#1a1a1a">Cells*: 163</text>
<text x="315.40" y="341.37" font-size="7.7" text-anchor="start" fill="#1a1a1a">Cells*: 79</text>
<text x="185.60" y="291.44" font-size="9" text-anchor="middle" fill="#1a1a1a" transform="rotate(-90 185.60 288.20)">Choice selectivity</text>
<line x1="209.10" y1="422.70" x2="357.50" y2="422.70" stroke="#999" stroke-width="0.9" stroke-dasharray="3.5,3"/>
<line x1="283.30" y1="364.30" x2="283.30" y2="481.10" stroke="#999" stroke-width="0.9" stroke-dasharray="3.5,3"/>
<g fill="#e01c1e" stroke="#141414" stroke-width="0.7"><circle cx="303.8" cy="404.7" r="1.22"/><circle cx="255.3" cy="452.5" r="1.22"/><circle cx="281.2" cy="442.7" r="1.22"/><circle cx="268.7" cy="414.0" r="1.22"/><circle cx="304.1" cy="477.1" r="1.22"/><circle cx="287.1" cy="433.1" r="1.22"/><circle cx="260.2" cy="435.2" r="1.22"/><circle cx="275.5" cy="442.7" r="1.22"/><circle cx="298.1" cy="431.0" r="1.22"/><circle cx="283.4" cy="431.1" r="1.22"/><circle cx="266.7" cy="400.2" r="1.22"/><circle cx="295.4" cy="444.0" r="1.22"/><circle cx="299.4" cy="405.7" r="1.22"/><circle cx="282.2" cy="437.6" r="1.22"/><circle cx="296.6" cy="374.6" r="1.22"/><circle cx="314.4" cy="475.4" r="1.22"/><circle cx="260.2" cy="436.4" r="1.22"/><circle cx="291.5" cy="404.2" r="1.22"/><circle cx="296.0" cy="407.0" r="1.22"/><circle cx="282.2" cy="430.5" r="1.22"/><circle cx="280.2" cy="462.5" r="1.22"/><circle cx="271.4" cy="433.1" r="1.22"/><circle cx="261.3" cy="413.3" r="1.22"/><circle cx="290.2" cy="406.5" r="1.22"/><circle cx="281.7" cy="446.1" r="1.22"/><circle cx="271.1" cy="441.0" r="1.22"/><circle cx="268.5" cy="412.5" r="1.22"/><circle cx="298.6" cy="415.7" r="1.22"/><circle cx="293.5" cy="396.6" r="1.22"/><circle cx="260.3" cy="439.5" r="1.22"/><circle cx="263.8" cy="408.3" r="1.22"/><circle cx="296.4" cy="415.8" r="1.22"/><circle cx="277.4" cy="441.6" r="1.22"/><circle cx="282.2" cy="445.7" r="1.22"/><circle cx="257.0" cy="418.9" r="1.22"/><circle cx="278.3" cy="408.3" r="1.22"/><circle cx="256.9" cy="377.2" r="1.22"/><circle cx="274.9" cy="403.8" r="1.22"/><circle cx="261.9" cy="413.5" r="1.22"/><circle cx="286.5" cy="381.4" r="1.22"/><circle cx="277.7" cy="449.8" r="1.22"/><circle cx="269.7" cy="411.8" r="1.22"/><circle cx="309.5" cy="450.0" r="1.22"/><circle cx="277.3" cy="432.9" r="1.22"/><circle cx="278.3" cy="370.7" r="1.22"/><circle cx="305.8" cy="468.0" r="1.22"/><circle cx="300.4" cy="370.2" r="1.22"/><circle cx="265.0" cy="439.9" r="1.22"/><circle cx="268.9" cy="407.6" r="1.22"/><circle cx="312.6" cy="397.7" r="1.22"/><circle cx="292.6" cy="397.0" r="1.22"/><circle cx="295.6" cy="433.2" r="1.22"/><circle cx="276.1" cy="415.5" r="1.22"/><circle cx="290.6" cy="413.1" r="1.22"/><circle cx="291.4" cy="435.0" r="1.22"/><circle cx="284.6" cy="440.4" r="1.22"/><circle cx="276.6" cy="366.7" r="1.22"/><circle cx="294.5" cy="426.8" r="1.22"/><circle cx="298.3" cy="427.1" r="1.22"/><circle cx="296.3" cy="376.6" r="1.22"/><circle cx="270.1" cy="431.5" r="1.22"/><circle cx="289.9" cy="403.2" r="1.22"/><circle cx="305.0" cy="380.8" r="1.22"/><circle cx="263.5" cy="412.9" r="1.22"/><circle cx="260.8" cy="410.9" r="1.22"/><circle cx="274.6" cy="387.7" r="1.22"/><circle cx="278.4" cy="396.7" r="1.22"/><circle cx="308.6" cy="387.2" r="1.22"/><circle cx="281.5" cy="439.8" r="1.22"/><circle cx="274.6" cy="474.0" r="1.22"/><circle cx="289.2" cy="457.3" r="1.22"/><circle cx="271.6" cy="409.7" r="1.22"/><circle cx="297.6" cy="429.5" r="1.22"/><circle cx="272.4" cy="375.8" r="1.22"/><circle cx="297.2" cy="430.3" r="1.22"/><circle cx="297.9" cy="427.4" r="1.22"/><circle cx="265.5" cy="428.5" r="1.22"/><circle cx="265.6" cy="413.0" r="1.22"/><circle cx="274.6" cy="434.2" r="1.22"/><circle cx="256.2" cy="448.4" r="1.22"/><circle cx="255.1" cy="408.3" r="1.22"/><circle cx="269.0" cy="433.2" r="1.22"/><circle cx="286.7" cy="391.0" r="1.22"/><circle cx="276.4" cy="397.0" r="1.22"/><circle cx="262.5" cy="429.4" r="1.22"/><circle cx="276.8" cy="429.1" r="1.22"/><circle cx="287.3" cy="416.3" r="1.22"/><circle cx="297.9" cy="401.2" r="1.22"/><circle cx="260.0" cy="452.3" r="1.22"/><circle cx="269.3" cy="442.9" r="1.22"/><circle cx="272.2" cy="400.4" r="1.22"/><circle cx="255.0" cy="408.0" r="1.22"/><circle cx="288.8" cy="433.8" r="1.22"/><circle cx="262.7" cy="465.3" r="1.22"/><circle cx="295.3" cy="417.5" r="1.22"/><circle cx="291.0" cy="401.8" r="1.22"/><circle cx="281.2" cy="417.3" r="1.22"/><circle cx="265.3" cy="475.9" r="1.22"/><circle cx="277.7" cy="434.1" r="1.22"/><circle cx="268.1" cy="462.7" r="1.22"/><circle cx="280.7" cy="407.1" r="1.22"/><circle cx="283.0" cy="401.1" r="1.22"/><circle cx="268.7" cy="434.6" r="1.22"/><circle cx="263.6" cy="447.7" r="1.22"/><circle cx="276.4" cy="413.6" r="1.22"/><circle cx="293.6" cy="446.1" r="1.22"/><circle cx="270.3" cy="418.3" r="1.22"/><circle cx="303.8" cy="443.4" r="1.22"/><circle cx="263.3" cy="399.0" r="1.22"/><circle cx="266.4" cy="413.8" r="1.22"/><circle cx="272.2" cy="435.3" r="1.22"/><circle cx="294.9" cy="432.2" r="1.22"/><circle cx="264.2" cy="401.8" r="1.22"/><circle cx="257.4" cy="442.4" r="1.22"/><circle cx="276.2" cy="442.6" r="1.22"/><circle cx="294.6" cy="412.8" r="1.22"/><circle cx="281.7" cy="368.2" r="1.22"/><circle cx="298.7" cy="417.6" r="1.22"/><circle cx="294.6" cy="417.9" r="1.22"/><circle cx="294.6" cy="447.5" r="1.22"/><circle cx="291.3" cy="435.5" r="1.22"/><circle cx="291.2" cy="426.9" r="1.22"/><circle cx="268.5" cy="406.6" r="1.22"/><circle cx="290.3" cy="447.6" r="1.22"/><circle cx="256.4" cy="405.9" r="1.22"/><circle cx="294.7" cy="416.0" r="1.22"/><circle cx="258.5" cy="433.9" r="1.22"/><circle cx="311.4" cy="455.0" r="1.22"/><circle cx="299.6" cy="409.3" r="1.22"/><circle cx="260.3" cy="415.6" r="1.22"/><circle cx="267.3" cy="381.4" r="1.22"/><circle cx="281.8" cy="404.1" r="1.22"/><circle cx="301.7" cy="470.5" r="1.22"/><circle cx="302.4" cy="419.5" r="1.22"/><circle cx="292.6" cy="462.7" r="1.22"/><circle cx="264.0" cy="399.0" r="1.22"/><circle cx="275.0" cy="437.2" r="1.22"/><circle cx="301.2" cy="466.8" r="1.22"/><circle cx="270.8" cy="437.1" r="1.22"/><circle cx="293.8" cy="437.6" r="1.22"/><circle cx="298.7" cy="419.1" r="1.22"/><circle cx="298.3" cy="459.4" r="1.22"/><circle cx="303.8" cy="378.7" r="1.22"/><circle cx="259.9" cy="441.5" r="1.22"/><circle cx="285.5" cy="429.6" r="1.22"/><circle cx="286.6" cy="429.6" r="1.22"/><circle cx="291.1" cy="443.2" r="1.22"/><circle cx="272.2" cy="466.7" r="1.22"/><circle cx="267.0" cy="385.1" r="1.22"/><circle cx="278.0" cy="408.5" r="1.22"/><circle cx="274.5" cy="428.7" r="1.22"/><circle cx="274.5" cy="400.3" r="1.22"/><circle cx="261.0" cy="400.2" r="1.22"/><circle cx="296.9" cy="425.1" r="1.22"/><circle cx="295.4" cy="430.4" r="1.22"/><circle cx="285.1" cy="427.8" r="1.22"/><circle cx="277.9" cy="426.1" r="1.22"/><circle cx="296.5" cy="411.1" r="1.22"/><circle cx="290.0" cy="441.7" r="1.22"/><circle cx="270.6" cy="402.5" r="1.22"/><circle cx="294.9" cy="417.1" r="1.22"/><circle cx="274.6" cy="414.2" r="1.22"/><circle cx="283.7" cy="416.2" r="1.22"/><circle cx="285.2" cy="393.6" r="1.22"/><circle cx="295.8" cy="416.5" r="1.22"/><circle cx="282.2" cy="454.9" r="1.22"/><circle cx="286.8" cy="404.5" r="1.22"/><circle cx="299.0" cy="409.9" r="1.22"/><circle cx="293.5" cy="426.9" r="1.22"/><circle cx="272.5" cy="408.8" r="1.22"/><circle cx="276.0" cy="403.1" r="1.22"/><circle cx="298.6" cy="432.8" r="1.22"/><circle cx="269.5" cy="434.2" r="1.22"/><circle cx="299.1" cy="403.8" r="1.22"/><circle cx="294.3" cy="418.6" r="1.22"/><circle cx="302.2" cy="418.4" r="1.22"/><circle cx="258.1" cy="451.8" r="1.22"/><circle cx="293.3" cy="415.2" r="1.22"/><circle cx="307.2" cy="469.4" r="1.22"/><circle cx="291.4" cy="430.3" r="1.22"/><circle cx="264.6" cy="430.5" r="1.22"/><circle cx="269.4" cy="413.3" r="1.22"/><circle cx="259.8" cy="434.4" r="1.22"/><circle cx="298.9" cy="416.9" r="1.22"/><circle cx="259.9" cy="416.7" r="1.22"/><circle cx="261.6" cy="436.2" r="1.22"/><circle cx="281.9" cy="405.9" r="1.22"/><circle cx="272.4" cy="402.2" r="1.22"/><circle cx="265.4" cy="410.0" r="1.22"/><circle cx="295.0" cy="430.2" r="1.22"/><circle cx="272.8" cy="395.6" r="1.22"/><circle cx="267.4" cy="428.2" r="1.22"/><circle cx="296.3" cy="438.7" r="1.22"/><circle cx="279.5" cy="401.6" r="1.22"/><circle cx="272.5" cy="406.8" r="1.22"/><circle cx="291.0" cy="394.5" r="1.22"/><circle cx="271.6" cy="431.9" r="1.22"/><circle cx="279.3" cy="436.5" r="1.22"/><circle cx="278.9" cy="410.0" r="1.22"/><circle cx="258.2" cy="466.9" r="1.22"/><circle cx="267.8" cy="432.8" r="1.22"/><circle cx="275.4" cy="450.4" r="1.22"/><circle cx="273.3" cy="369.7" r="1.22"/><circle cx="261.0" cy="432.2" r="1.22"/><circle cx="295.4" cy="444.2" r="1.22"/><circle cx="277.6" cy="398.5" r="1.22"/><circle cx="289.6" cy="392.1" r="1.22"/><circle cx="266.7" cy="426.3" r="1.22"/><circle cx="303.3" cy="401.2" r="1.22"/><circle cx="297.9" cy="377.6" r="1.22"/><circle cx="272.3" cy="411.9" r="1.22"/><circle cx="288.8" cy="430.4" r="1.22"/><circle cx="305.2" cy="408.0" r="1.22"/><circle cx="303.3" cy="404.0" r="1.22"/><circle cx="278.1" cy="411.1" r="1.22"/><circle cx="298.4" cy="395.3" r="1.22"/><circle cx="292.5" cy="467.7" r="1.22"/><circle cx="256.7" cy="412.6" r="1.22"/><circle cx="265.5" cy="411.4" r="1.22"/><circle cx="289.6" cy="417.0" r="1.22"/><circle cx="294.1" cy="400.0" r="1.22"/><circle cx="297.2" cy="427.8" r="1.22"/><circle cx="288.7" cy="411.1" r="1.22"/><circle cx="286.4" cy="409.8" r="1.22"/><circle cx="274.5" cy="394.6" r="1.22"/><circle cx="304.3" cy="413.2" r="1.22"/><circle cx="255.6" cy="402.3" r="1.22"/><circle cx="267.2" cy="445.0" r="1.22"/><circle cx="276.6" cy="409.8" r="1.22"/><circle cx="286.4" cy="459.6" r="1.22"/><circle cx="279.5" cy="403.8" r="1.22"/><circle cx="269.4" cy="435.2" r="1.22"/><circle cx="286.2" cy="429.5" r="1.22"/><circle cx="282.9" cy="418.9" r="1.22"/><circle cx="280.7" cy="436.3" r="1.22"/><circle cx="282.3" cy="431.5" r="1.22"/><circle cx="292.0" cy="408.6" r="1.22"/><circle cx="286.5" cy="430.9" r="1.22"/><circle cx="273.1" cy="436.2" r="1.22"/><circle cx="278.5" cy="431.1" r="1.22"/><circle cx="294.6" cy="406.6" r="1.22"/><circle cx="289.1" cy="426.0" r="1.22"/><circle cx="264.5" cy="434.7" r="1.22"/><circle cx="274.1" cy="458.1" r="1.22"/><circle cx="266.4" cy="439.1" r="1.22"/><circle cx="289.5" cy="434.1" r="1.22"/><circle cx="300.1" cy="384.4" r="1.22"/><circle cx="268.7" cy="400.3" r="1.22"/><circle cx="297.0" cy="408.0" r="1.22"/><circle cx="294.4" cy="413.5" r="1.22"/><circle cx="265.3" cy="435.8" r="1.22"/><circle cx="299.0" cy="413.4" r="1.22"/><circle cx="259.0" cy="414.4" r="1.22"/><circle cx="273.9" cy="399.8" r="1.22"/><circle cx="262.4" cy="410.4" r="1.22"/><circle cx="284.7" cy="398.9" r="1.22"/><circle cx="295.2" cy="427.5" r="1.22"/><circle cx="292.3" cy="427.0" r="1.22"/><circle cx="282.4" cy="418.7" r="1.22"/><circle cx="280.8" cy="428.4" r="1.22"/><circle cx="274.4" cy="436.0" r="1.22"/><circle cx="282.4" cy="417.3" r="1.22"/><circle cx="269.8" cy="444.3" r="1.22"/><circle cx="273.1" cy="398.0" r="1.22"/><circle cx="270.5" cy="442.7" r="1.22"/><circle cx="283.8" cy="429.8" r="1.22"/><circle cx="252.3" cy="444.8" r="1.22"/><circle cx="280.6" cy="439.4" r="1.22"/><circle cx="315.1" cy="372.4" r="1.22"/><circle cx="272.8" cy="430.5" r="1.22"/><circle cx="290.6" cy="437.9" r="1.22"/><circle cx="265.3" cy="429.7" r="1.22"/><circle cx="275.9" cy="403.7" r="1.22"/><circle cx="266.7" cy="429.9" r="1.22"/><circle cx="287.4" cy="413.0" r="1.22"/><circle cx="286.8" cy="391.6" r="1.22"/><circle cx="292.2" cy="396.9" r="1.22"/><circle cx="296.0" cy="416.1" r="1.22"/><circle cx="286.5" cy="430.0" r="1.22"/><circle cx="271.4" cy="396.1" r="1.22"/><circle cx="293.4" cy="418.8" r="1.22"/><circle cx="305.2" cy="407.1" r="1.22"/><circle cx="257.1" cy="377.3" r="1.22"/><circle cx="262.1" cy="404.4" r="1.22"/><circle cx="279.9" cy="421.2" r="1.22"/><circle cx="283.3" cy="430.9" r="1.22"/><circle cx="293.6" cy="410.2" r="1.22"/><circle cx="291.8" cy="414.1" r="1.22"/><circle cx="275.8" cy="438.2" r="1.22"/><circle cx="287.5" cy="445.1" r="1.22"/><circle cx="293.5" cy="435.8" r="1.22"/><circle cx="297.1" cy="399.8" r="1.22"/><circle cx="282.7" cy="437.7" r="1.22"/><circle cx="287.4" cy="426.7" r="1.22"/><circle cx="258.3" cy="417.2" r="1.22"/><circle cx="272.1" cy="427.7" r="1.22"/><circle cx="291.1" cy="454.4" r="1.22"/><circle cx="292.0" cy="434.1" r="1.22"/><circle cx="277.9" cy="419.5" r="1.22"/><circle cx="281.2" cy="427.5" r="1.22"/><circle cx="274.4" cy="415.0" r="1.22"/><circle cx="286.0" cy="401.2" r="1.22"/><circle cx="294.9" cy="437.4" r="1.22"/><circle cx="278.2" cy="426.1" r="1.22"/><circle cx="274.0" cy="419.0" r="1.22"/><circle cx="265.6" cy="409.1" r="1.22"/><circle cx="301.6" cy="408.7" r="1.22"/><circle cx="278.1" cy="448.4" r="1.22"/><circle cx="296.9" cy="457.7" r="1.22"/><circle cx="285.7" cy="378.7" r="1.22"/><circle cx="289.7" cy="426.0" r="1.22"/><circle cx="295.1" cy="445.0" r="1.22"/><circle cx="264.3" cy="411.9" r="1.22"/><circle cx="290.5" cy="386.1" r="1.22"/><circle cx="296.5" cy="456.5" r="1.22"/><circle cx="280.1" cy="432.6" r="1.22"/><circle cx="255.0" cy="430.3" r="1.22"/><circle cx="258.4" cy="403.7" r="1.22"/><circle cx="274.9" cy="416.8" r="1.22"/><circle cx="288.7" cy="393.6" r="1.22"/><circle cx="270.4" cy="428.8" r="1.22"/><circle cx="265.8" cy="388.3" r="1.22"/><circle cx="270.1" cy="442.0" r="1.22"/><circle cx="261.3" cy="404.1" r="1.22"/><circle cx="277.0" cy="442.4" r="1.22"/><circle cx="263.0" cy="430.0" r="1.22"/><circle cx="286.3" cy="451.1" r="1.22"/><circle cx="276.3" cy="387.6" r="1.22"/><circle cx="271.4" cy="414.9" r="1.22"/><circle cx="278.2" cy="427.7" r="1.22"/><circle cx="295.3" cy="397.4" r="1.22"/><circle cx="295.9" cy="415.8" r="1.22"/><circle cx="259.5" cy="468.3" r="1.22"/><circle cx="291.0" cy="435.4" r="1.22"/><circle cx="283.6" cy="404.9" r="1.22"/><circle cx="300.4" cy="437.3" r="1.22"/><circle cx="298.8" cy="429.9" r="1.22"/><circle cx="282.2" cy="417.8" r="1.22"/><circle cx="292.9" cy="407.6" r="1.22"/><circle cx="302.9" cy="413.3" r="1.22"/><circle cx="291.7" cy="414.5" r="1.22"/><circle cx="281.1" cy="397.2" r="1.22"/><circle cx="281.5" cy="429.4" r="1.22"/><circle cx="306.0" cy="433.2" r="1.22"/><circle cx="290.8" cy="410.9" r="1.22"/><circle cx="293.5" cy="439.4" r="1.22"/><circle cx="270.6" cy="426.5" r="1.22"/><circle cx="293.3" cy="407.0" r="1.22"/><circle cx="282.2" cy="429.8" r="1.22"/><circle cx="275.0" cy="405.4" r="1.22"/><circle cx="277.6" cy="464.5" r="1.22"/><circle cx="284.7" cy="402.6" r="1.22"/><circle cx="270.5" cy="438.9" r="1.22"/><circle cx="299.1" cy="477.4" r="1.22"/><circle cx="298.3" cy="427.2" r="1.22"/><circle cx="284.1" cy="441.8" r="1.22"/><circle cx="267.9" cy="434.4" r="1.22"/><circle cx="270.8" cy="390.9" r="1.22"/><circle cx="273.0" cy="398.9" r="1.22"/><circle cx="266.1" cy="434.5" r="1.22"/><circle cx="260.1" cy="438.6" r="1.22"/><circle cx="282.6" cy="446.6" r="1.22"/><circle cx="278.8" cy="418.5" r="1.22"/><circle cx="288.7" cy="430.8" r="1.22"/><circle cx="281.7" cy="418.0" r="1.22"/><circle cx="295.0" cy="475.8" r="1.22"/><circle cx="296.9" cy="445.6" r="1.22"/><circle cx="278.0" cy="412.5" r="1.22"/><circle cx="272.2" cy="439.7" r="1.22"/><circle cx="299.2" cy="442.8" r="1.22"/><circle cx="279.7" cy="412.8" r="1.22"/><circle cx="291.2" cy="451.0" r="1.22"/><circle cx="301.0" cy="394.3" r="1.22"/><circle cx="282.6" cy="405.0" r="1.22"/><circle cx="259.3" cy="388.6" r="1.22"/><circle cx="292.9" cy="389.2" r="1.22"/><circle cx="273.9" cy="450.9" r="1.22"/><circle cx="261.2" cy="431.3" r="1.22"/><circle cx="261.4" cy="444.5" r="1.22"/><circle cx="298.3" cy="412.3" r="1.22"/><circle cx="268.6" cy="439.1" r="1.22"/><circle cx="279.8" cy="375.8" r="1.22"/><circle cx="271.2" cy="434.3" r="1.22"/><circle cx="281.8" cy="435.5" r="1.22"/><circle cx="292.3" cy="398.7" r="1.22"/><circle cx="285.5" cy="451.4" r="1.22"/><circle cx="288.8" cy="413.1" r="1.22"/><circle cx="279.0" cy="430.6" r="1.22"/><circle cx="271.6" cy="431.2" r="1.22"/><circle cx="275.3" cy="450.7" r="1.22"/><circle cx="276.4" cy="409.1" r="1.22"/><circle cx="293.8" cy="432.6" r="1.22"/><circle cx="295.0" cy="399.5" r="1.22"/><circle cx="268.4" cy="439.9" r="1.22"/><circle cx="294.8" cy="471.1" r="1.22"/><circle cx="275.2" cy="441.4" r="1.22"/><circle cx="295.8" cy="411.3" r="1.22"/><circle cx="279.6" cy="413.0" r="1.22"/><circle cx="285.1" cy="418.3" r="1.22"/><circle cx="259.6" cy="405.3" r="1.22"/><circle cx="271.3" cy="432.7" r="1.22"/><circle cx="264.3" cy="440.3" r="1.22"/><circle cx="294.2" cy="429.4" r="1.22"/><circle cx="290.1" cy="454.9" r="1.22"/><circle cx="302.8" cy="367.9" r="1.22"/><circle cx="297.1" cy="473.3" r="1.22"/><circle cx="277.9" cy="429.5" r="1.22"/><circle cx="296.0" cy="411.2" r="1.22"/><circle cx="285.5" cy="415.7" r="1.22"/><circle cx="301.2" cy="421.2" r="1.22"/><circle cx="299.6" cy="433.7" r="1.22"/><circle cx="251.1" cy="466.4" r="1.22"/><circle cx="267.2" cy="427.6" r="1.22"/><circle cx="280.5" cy="435.6" r="1.22"/><circle cx="269.7" cy="425.6" r="1.22"/><circle cx="281.9" cy="477.9" r="1.22"/><circle cx="288.6" cy="443.9" r="1.22"/><circle cx="291.2" cy="429.8" r="1.22"/><circle cx="301.0" cy="418.7" r="1.22"/><circle cx="303.1" cy="381.9" r="1.22"/><circle cx="288.1" cy="428.9" r="1.22"/><circle cx="285.2" cy="405.9" r="1.22"/><circle cx="285.8" cy="429.0" r="1.22"/><circle cx="263.1" cy="447.2" r="1.22"/><circle cx="290.2" cy="395.7" r="1.22"/><circle cx="292.6" cy="426.8" r="1.22"/><circle cx="287.5" cy="449.3" r="1.22"/><circle cx="305.4" cy="366.6" r="1.22"/><circle cx="261.3" cy="412.9" r="1.22"/><circle cx="274.4" cy="413.9" r="1.22"/><circle cx="275.3" cy="421.8" r="1.22"/><circle cx="287.6" cy="414.7" r="1.22"/><circle cx="277.4" cy="429.5" r="1.22"/><circle cx="288.1" cy="398.2" r="1.22"/><circle cx="292.1" cy="425.8" r="1.22"/><circle cx="265.4" cy="437.7" r="1.22"/><circle cx="283.3" cy="400.3" r="1.22"/><circle cx="277.4" cy="409.9" r="1.22"/><circle cx="303.6" cy="411.1" r="1.22"/><circle cx="280.7" cy="384.5" r="1.22"/><circle cx="296.0" cy="419.2" r="1.22"/><circle cx="300.5" cy="418.6" r="1.22"/><circle cx="302.3" cy="445.3" r="1.22"/><circle cx="295.2" cy="418.4" r="1.22"/><circle cx="264.8" cy="403.4" r="1.22"/><circle cx="296.8" cy="444.6" r="1.22"/><circle cx="274.0" cy="432.6" r="1.22"/><circle cx="289.8" cy="427.6" r="1.22"/><circle cx="267.4" cy="442.9" r="1.22"/><circle cx="291.1" cy="415.9" r="1.22"/><circle cx="265.2" cy="432.4" r="1.22"/><circle cx="277.4" cy="434.0" r="1.22"/><circle cx="297.3" cy="431.9" r="1.22"/><circle cx="263.9" cy="402.3" r="1.22"/><circle cx="297.6" cy="440.6" r="1.22"/><circle cx="265.5" cy="410.8" r="1.22"/><circle cx="272.5" cy="434.3" r="1.22"/><circle cx="293.7" cy="396.1" r="1.22"/><circle cx="295.9" cy="442.5" r="1.22"/><circle cx="273.0" cy="407.2" r="1.22"/><circle cx="280.7" cy="447.5" r="1.22"/><circle cx="297.4" cy="427.3" r="1.22"/><circle cx="285.6" cy="416.4" r="1.22"/><circle cx="274.0" cy="411.7" r="1.22"/><circle cx="284.9" cy="428.1" r="1.22"/><circle cx="297.7" cy="404.6" r="1.22"/><circle cx="287.3" cy="416.7" r="1.22"/><circle cx="293.5" cy="410.0" r="1.22"/><circle cx="291.2" cy="438.5" r="1.22"/><circle cx="268.2" cy="395.9" r="1.22"/><circle cx="280.5" cy="440.7" r="1.22"/><circle cx="277.6" cy="405.7" r="1.22"/><circle cx="259.5" cy="445.9" r="1.22"/><circle cx="260.8" cy="400.4" r="1.22"/><circle cx="261.1" cy="407.1" r="1.22"/><circle cx="278.4" cy="409.6" r="1.22"/><circle cx="271.6" cy="389.8" r="1.22"/><circle cx="295.0" cy="439.8" r="1.22"/><circle cx="254.7" cy="459.3" r="1.22"/><circle cx="282.5" cy="446.2" r="1.22"/><circle cx="262.9" cy="419.3" r="1.22"/><circle cx="296.5" cy="411.4" r="1.22"/><circle cx="288.5" cy="442.4" r="1.22"/><circle cx="294.5" cy="413.2" r="1.22"/><circle cx="291.2" cy="400.4" r="1.22"/><circle cx="293.3" cy="436.9" r="1.22"/><circle cx="308.8" cy="443.2" r="1.22"/><circle cx="263.5" cy="390.0" r="1.22"/><circle cx="310.3" cy="379.9" r="1.22"/><circle cx="268.5" cy="428.1" r="1.22"/><circle cx="293.4" cy="396.2" r="1.22"/><circle cx="302.8" cy="373.3" r="1.22"/><circle cx="285.7" cy="436.0" r="1.22"/><circle cx="288.3" cy="417.0" r="1.22"/><circle cx="276.1" cy="417.2" r="1.22"/><circle cx="299.9" cy="431.3" r="1.22"/><circle cx="278.9" cy="432.5" r="1.22"/><circle cx="298.9" cy="435.4" r="1.22"/><circle cx="269.6" cy="439.8" r="1.22"/><circle cx="262.3" cy="416.9" r="1.22"/><circle cx="259.4" cy="403.9" r="1.22"/><circle cx="268.6" cy="434.0" r="1.22"/><circle cx="293.7" cy="447.1" r="1.22"/><circle cx="283.2" cy="439.4" r="1.22"/><circle cx="262.5" cy="448.8" r="1.22"/><circle cx="302.6" cy="436.1" r="1.22"/><circle cx="258.8" cy="416.7" r="1.22"/><circle cx="287.6" cy="410.4" r="1.22"/><circle cx="269.1" cy="438.3" r="1.22"/><circle cx="289.7" cy="430.0" r="1.22"/><circle cx="302.9" cy="410.8" r="1.22"/><circle cx="277.6" cy="412.3" r="1.22"/><circle cx="293.4" cy="410.6" r="1.22"/><circle cx="263.0" cy="459.2" r="1.22"/><circle cx="296.6" cy="439.4" r="1.22"/><circle cx="298.9" cy="468.6" r="1.22"/><circle cx="298.2" cy="432.4" r="1.22"/><circle cx="263.7" cy="442.6" r="1.22"/><circle cx="258.9" cy="392.8" r="1.22"/><circle cx="266.5" cy="387.1" r="1.22"/><circle cx="270.0" cy="409.7" r="1.22"/><circle cx="287.6" cy="432.8" r="1.22"/><circle cx="282.5" cy="417.7" r="1.22"/><circle cx="263.5" cy="415.1" r="1.22"/><circle cx="277.0" cy="385.6" r="1.22"/><circle cx="285.1" cy="428.9" r="1.22"/><circle cx="267.8" cy="402.0" r="1.22"/><circle cx="289.3" cy="400.5" r="1.22"/><circle cx="264.3" cy="367.8" r="1.22"/><circle cx="293.2" cy="397.5" r="1.22"/><circle cx="272.5" cy="430.3" r="1.22"/><circle cx="303.4" cy="400.6" r="1.22"/><circle cx="263.0" cy="427.4" r="1.22"/><circle cx="279.6" cy="428.2" r="1.22"/><circle cx="283.5" cy="447.2" r="1.22"/><circle cx="281.1" cy="443.3" r="1.22"/><circle cx="282.5" cy="443.7" r="1.22"/><circle cx="267.9" cy="409.4" r="1.22"/><circle cx="292.4" cy="414.7" r="1.22"/><circle cx="261.3" cy="403.5" r="1.22"/><circle cx="280.2" cy="445.3" r="1.22"/><circle cx="292.4" cy="397.6" r="1.22"/><circle cx="292.7" cy="432.0" r="1.22"/><circle cx="277.6" cy="429.6" r="1.22"/><circle cx="263.0" cy="388.6" r="1.22"/><circle cx="292.3" cy="440.0" r="1.22"/><circle cx="277.6" cy="431.3" r="1.22"/><circle cx="260.1" cy="406.1" r="1.22"/><circle cx="288.8" cy="463.6" r="1.22"/><circle cx="287.9" cy="409.1" r="1.22"/><circle cx="262.9" cy="408.8" r="1.22"/><circle cx="258.3" cy="413.3" r="1.22"/><circle cx="264.1" cy="447.6" r="1.22"/><circle cx="311.1" cy="465.5" r="1.22"/><circle cx="285.3" cy="405.3" r="1.22"/><circle cx="263.6" cy="406.5" r="1.22"/><circle cx="288.8" cy="448.1" r="1.22"/><circle cx="296.2" cy="416.3" r="1.22"/><circle cx="306.1" cy="390.9" r="1.22"/><circle cx="292.7" cy="440.5" r="1.22"/></g>
<rect x="316.50" y="443.50" width="41.00" height="18.00" fill="#9b9b9b" stroke="none" stroke-width="0"/>
<text x="318.80" y="452.81" font-size="7.8" text-anchor="start" fill="#1a1a1a">R<tspan font-size="5" dy="-3">2</tspan><tspan dy="3"> = 0.165</tspan></text>
<text x="318.80" y="460.91" font-size="7.8" text-anchor="start" fill="#1a1a1a">p &lt; 0.001</text>
<text x="322.90" y="439.41" font-size="7.8" text-anchor="start" fill="#1a1a1a">VR task</text>
<line x1="209.10" y1="364.30" x2="209.10" y2="481.10" stroke="#3a3a3a" stroke-width="1"/>
<line x1="209.10" y1="481.10" x2="357.50" y2="481.10" stroke="#3a3a3a" stroke-width="1"/>
<line x1="209.10" y1="481.10" x2="209.10" y2="482.70" stroke="#3a3a3a" stroke-width="0.8"/>
<line x1="207.50" y1="481.10" x2="209.10" y2="481.10" stroke="#3a3a3a" stroke-width="0.8"/>
<line x1="223.94" y1="481.10" x2="223.94" y2="482.70" stroke="#3a3a3a" stroke-width="0.8"/>
<line x1="207.50" y1="469.42" x2="209.10" y2="469.42" stroke="#3a3a3a" stroke-width="0.8"/>
<line x1="238.78" y1="481.10" x2="238.78" y2="482.70" stroke="#3a3a3a" stroke-width="0.8"/>
<line x1="207.50" y1="457.74" x2="209.10" y2="457.74" stroke="#3a3a3a" stroke-width="0.8"/>
<line x1="253.62" y1="481.10" x2="253.62" y2="482.70" stroke="#3a3a3a" stroke-width="0.8"/>
<line x1="207.50" y1="446.06" x2="209.10" y2="446.06" stroke="#3a3a3a" stroke-width="0.8"/>
<line x1="268.46" y1="481.10" x2="268.46" y2="482.70" stroke="#3a3a3a" stroke-width="0.8"/>
<line x1="207.50" y1="434.38" x2="209.10" y2="434.38" stroke="#3a3a3a" stroke-width="0.8"/>
<line x1="283.30" y1="481.10" x2="283.30" y2="482.70" stroke="#3a3a3a" stroke-width="0.8"/>
<line x1="207.50" y1="422.70" x2="209.10" y2="422.70" stroke="#3a3a3a" stroke-width="0.8"/>
<line x1="298.14" y1="481.10" x2="298.14" y2="482.70" stroke="#3a3a3a" stroke-width="0.8"/>
<line x1="207.50" y1="411.02" x2="209.10" y2="411.02" stroke="#3a3a3a" stroke-width="0.8"/>
<line x1="312.98" y1="481.10" x2="312.98" y2="482.70" stroke="#3a3a3a" stroke-width="0.8"/>
<line x1="207.50" y1="399.34" x2="209.10" y2="399.34" stroke="#3a3a3a" stroke-width="0.8"/>
<line x1="327.82" y1="481.10" x2="327.82" y2="482.70" stroke="#3a3a3a" stroke-width="0.8"/>
<line x1="207.50" y1="387.66" x2="209.10" y2="387.66" stroke="#3a3a3a" stroke-width="0.8"/>
<line x1="342.66" y1="481.10" x2="342.66" y2="482.70" stroke="#3a3a3a" stroke-width="0.8"/>
<line x1="207.50" y1="375.98" x2="209.10" y2="375.98" stroke="#3a3a3a" stroke-width="0.8"/>
<line x1="357.50" y1="481.10" x2="357.50" y2="482.70" stroke="#3a3a3a" stroke-width="0.8"/>
<line x1="207.50" y1="364.30" x2="209.10" y2="364.30" stroke="#3a3a3a" stroke-width="0.8"/>
<text x="206.50" y="367.25" font-size="8.2" text-anchor="end" fill="#1a1a1a">1</text>
<text x="206.50" y="425.65" font-size="8.2" text-anchor="end" fill="#1a1a1a">0</text>
<text x="206.50" y="484.05" font-size="8.2" text-anchor="end" fill="#1a1a1a">-1</text>
<text x="213.80" y="375.07" font-size="7.7" text-anchor="start" fill="#1a1a1a">Cells*: 205</text>
<text x="315.40" y="375.07" font-size="7.7" text-anchor="start" fill="#1a1a1a">Cells*: 164</text>
<text x="213.80" y="476.27" font-size="7.7" text-anchor="start" fill="#1a1a1a">Cells*: 225</text>
<text x="315.40" y="476.27" font-size="7.7" text-anchor="start" fill="#1a1a1a">Cells*: 105</text>
<text x="185.60" y="425.94" font-size="9" text-anchor="middle" fill="#1a1a1a" transform="rotate(-90 185.60 422.70)">Choice selectivity</text>
<text x="209.10" y="492.25" font-size="8.2" text-anchor="middle" fill="#1a1a1a">-1</text>
<text x="283.30" y="492.25" font-size="8.2" text-anchor="middle" fill="#1a1a1a">0</text>
<text x="357.50" y="492.25" font-size="8.2" text-anchor="middle" fill="#1a1a1a">1</text>
<text x="283.50" y="502.24" font-size="9" text-anchor="middle" fill="#1a1a1a">Reward selectivity</text>
<line x1="396.00" y1="296.65" x2="501.00" y2="296.65" stroke="#999" stroke-width="0.9" stroke-dasharray="3.5,3"/>
<line x1="448.50" y1="256.60" x2="448.50" y2="336.70" stroke="#aaa" stroke-width="0.9" stroke-dasharray="3.5,3"/>
<g stroke-width="2.1" stroke-linecap="round" fill="none">
<path d="M438.8 305.3h0" stroke="#6dc34b"/>
<path d="M426.3 327.3h0" stroke="#f6c329"/>
<path d="M420.5 317.0h0" stroke="#cfba2f"/>
<path d="M435.7 321.0h0" stroke="#3f50c1"/>
<path d="M450.9 301.5h0" stroke="#3e3faa"/>
<path d="M445.1 296.1h0" stroke="#2cb6b8"/>
<path d="M464.6 296.2h0" stroke="#3e47b4"/>
<path d="M417.2 315.6h0" stroke="#b6c22f"/>
<path d="M450.6 295.6h0" stroke="#f4b52c"/>
<path d="M468.9 292.4h0" stroke="#b2c32f"/>
<path d="M464.1 271.3h0" stroke="#f4db28"/>
<path d="M428.1 308.5h0" stroke="#cfba2f"/>
<path d="M443.5 289.1h0" stroke="#e3b42e"/>
<path d="M458.3 278.2h0" stroke="#3a95de"/>
<path d="M453.2 306.9h0" stroke="#3d74d5"/>
<path d="M448.0 292.1h0" stroke="#47be7c"/>
<path d="M438.2 311.1h0" stroke="#3abc8c"/>
<path d="M455.3 300.4h0" stroke="#3e42ae"/>
<path d="M431.5 291.5h0" stroke="#3d38a0"/>
<path d="M453.3 288.5h0" stroke="#c6bd2f"/>
<path d="M445.8 299.7h0" stroke="#f2e428"/>
<path d="M435.8 309.0h0" stroke="#f2e428"/>
<path d="M455.0 308.8h0" stroke="#3b93e0"/>
<path d="M459.2 291.1h0" stroke="#f7cd28"/>
<path d="M444.0 296.4h0" stroke="#d1ba2f"/>
<path d="M449.1 296.9h0" stroke="#369fd3"/>
<path d="M455.5 293.3h0" stroke="#76c347"/>
<path d="M458.6 285.3h0" stroke="#f2e428"/>
<path d="M465.2 287.5h0" stroke="#f6c22a"/>
<path d="M432.5 308.5h0" stroke="#f7cb28"/>
<path d="M417.9 326.3h0" stroke="#75c347"/>
<path d="M444.2 306.3h0" stroke="#d9b72e"/>
<path d="M441.1 311.7h0" stroke="#36bc92"/>
<path d="M461.8 276.5h0" stroke="#6bc24c"/>
<path d="M448.5 303.1h0" stroke="#4ebf72"/>
<path d="M442.4 291.7h0" stroke="#2fadc4"/>
<path d="M438.5 297.8h0" stroke="#3f58c9"/>
<path d="M445.7 287.3h0" stroke="#35a1d1"/>
<path d="M454.5 298.4h0" stroke="#3f49b8"/>
<path d="M441.3 301.1h0" stroke="#f2e428"/>
<path d="M444.1 299.5h0" stroke="#f5bb2b"/>
<path d="M433.3 306.4h0" stroke="#f5bb2b"/>
<path d="M452.2 283.0h0" stroke="#34bc94"/>
<path d="M461.5 282.5h0" stroke="#2cb4be"/>
<path d="M448.1 293.2h0" stroke="#31baa0"/>
<path d="M470.1 275.6h0" stroke="#f3dd28"/>
<path d="M462.2 287.1h0" stroke="#39bc8f"/>
<path d="M445.3 303.0h0" stroke="#31baa2"/>
<path d="M468.1 275.4h0" stroke="#f2e228"/>
<path d="M448.6 293.7h0" stroke="#bac02f"/>
<path d="M440.6 297.2h0" stroke="#2cb4bd"/>
<path d="M456.1 287.8h0" stroke="#f3dc28"/>
<path d="M448.7 288.6h0" stroke="#4bbe76"/>
<path d="M447.7 296.1h0" stroke="#c5bd2f"/>
<path d="M437.8 290.8h0" stroke="#3e43b0"/>
<path d="M446.8 305.6h0" stroke="#85c341"/>
<path d="M433.7 301.3h0" stroke="#c2be2f"/>
<path d="M438.6 312.3h0" stroke="#32a6cc"/>
<path d="M441.4 301.5h0" stroke="#c8bc2f"/>
<path d="M451.3 283.5h0" stroke="#f2e428"/>
<path d="M459.0 291.2h0" stroke="#c1be2f"/>
<path d="M435.0 319.2h0" stroke="#f6d328"/>
<path d="M457.4 295.7h0" stroke="#f4b62c"/>
<path d="M460.2 284.5h0" stroke="#f5d728"/>
<path d="M450.7 296.5h0" stroke="#f2e428"/>
<path d="M470.8 286.2h0" stroke="#2cb6b7"/>
<path d="M431.8 311.4h0" stroke="#dcb62e"/>
<path d="M432.4 304.7h0" stroke="#5dc15f"/>
<path d="M444.8 294.4h0" stroke="#6fc34a"/>
<path d="M422.2 317.0h0" stroke="#31baa1"/>
<path d="M432.4 310.7h0" stroke="#f3dc28"/>
<path d="M421.0 314.0h0" stroke="#52bf6d"/>
<path d="M438.6 305.7h0" stroke="#f4b32d"/>
<path d="M458.4 294.5h0" stroke="#2fadc5"/>
<path d="M461.9 287.3h0" stroke="#f6d028"/>
<path d="M459.0 284.3h0" stroke="#9ec337"/>
<path d="M444.8 295.8h0" stroke="#34a2d0"/>
<path d="M443.2 292.0h0" stroke="#33a4ce"/>
<path d="M438.9 300.7h0" stroke="#3899d9"/>
<path d="M437.6 312.9h0" stroke="#f6d128"/>
<path d="M448.1 303.0h0" stroke="#57c067"/>
<path d="M450.7 293.4h0" stroke="#ceba2f"/>
<path d="M445.5 305.5h0" stroke="#5ec15d"/>
<path d="M457.1 285.7h0" stroke="#f4b42c"/>
<path d="M449.0 294.0h0" stroke="#f5b72c"/>
<path d="M428.9 308.9h0" stroke="#f7c629"/>
<path d="M455.2 292.5h0" stroke="#f1b02e"/>
<path d="M433.4 314.4h0" stroke="#2db2bf"/>
<path d="M461.2 280.7h0" stroke="#33bb96"/>
<path d="M438.2 305.0h0" stroke="#f6bf2a"/>
<path d="M457.0 283.6h0" stroke="#f7ce28"/>
<path d="M441.6 290.9h0" stroke="#3d369e"/>
<path d="M435.1 305.7h0" stroke="#89c33f"/>
<path d="M421.6 314.9h0" stroke="#f3de28"/>
<path d="M451.4 300.6h0" stroke="#369fd4"/>
<path d="M452.0 292.8h0" stroke="#f4da28"/>
<path d="M450.3 300.2h0" stroke="#f6d328"/>
<path d="M436.9 283.7h0" stroke="#3f4ab9"/>
<path d="M484.6 271.2h0" stroke="#2fb8aa"/>
<path d="M448.6 292.1h0" stroke="#f2e428"/>
<path d="M440.2 284.7h0" stroke="#3e46b4"/>
<path d="M467.2 284.9h0" stroke="#f5b72c"/>
<path d="M457.1 287.8h0" stroke="#f5d528"/>
<path d="M467.0 284.5h0" stroke="#f5bc2b"/>
<path d="M440.5 293.2h0" stroke="#379bd7"/>
<path d="M445.5 297.8h0" stroke="#f2e428"/>
<path d="M450.0 301.6h0" stroke="#4bbe77"/>
<path d="M439.8 303.7h0" stroke="#f5bd2b"/>
<path d="M430.7 309.0h0" stroke="#f4d928"/>
<path d="M455.9 296.6h0" stroke="#66c253"/>
<path d="M451.6 293.4h0" stroke="#3e3faa"/>
<path d="M436.7 310.1h0" stroke="#f4b22d"/>
<path d="M447.7 301.5h0" stroke="#d6b82e"/>
<path d="M451.7 302.1h0" stroke="#2db7b3"/>
<path d="M442.0 298.7h0" stroke="#f7c529"/>
<path d="M454.6 295.6h0" stroke="#f7ca28"/>
<path d="M471.1 283.2h0" stroke="#f4b42d"/>
<path d="M476.4 287.1h0" stroke="#6ac24e"/>
<path d="M472.8 271.3h0" stroke="#f4b62c"/>
<path d="M452.4 301.1h0" stroke="#bac02f"/>
<path d="M459.0 297.1h0" stroke="#acc331"/>
<path d="M442.3 297.9h0" stroke="#f2e428"/>
<path d="M428.1 308.5h0" stroke="#93c33b"/>
<path d="M447.9 314.8h0" stroke="#34a2d0"/>
<path d="M468.9 279.0h0" stroke="#f2e428"/>
<path d="M438.5 302.9h0" stroke="#e0b52e"/>
<path d="M450.5 279.4h0" stroke="#b2c32f"/>
<path d="M434.7 298.1h0" stroke="#f2e428"/>
<path d="M448.4 304.7h0" stroke="#38bc8f"/>
<path d="M439.8 300.9h0" stroke="#f7c928"/>
<path d="M445.6 306.0h0" stroke="#f6bf2a"/>
<path d="M435.7 314.7h0" stroke="#32bb9b"/>
<path d="M453.2 296.2h0" stroke="#6ac24e"/>
<path d="M460.0 286.3h0" stroke="#f2e428"/>
<path d="M457.9 285.7h0" stroke="#94c33b"/>
<path d="M466.9 286.0h0" stroke="#aec330"/>
<path d="M444.8 301.2h0" stroke="#f2e428"/>
<path d="M444.9 295.9h0" stroke="#f2e428"/>
<path d="M451.3 300.1h0" stroke="#2fb8ab"/>
<path d="M462.7 286.2h0" stroke="#f6c429"/>
<path d="M460.8 279.6h0" stroke="#67c252"/>
<path d="M439.8 298.7h0" stroke="#39bc8f"/>
<path d="M455.2 304.5h0" stroke="#d6b82e"/>
<path d="M466.4 279.4h0" stroke="#70c34a"/>
<path d="M463.1 288.3h0" stroke="#32ba9d"/>
<path d="M451.9 284.8h0" stroke="#32ba9e"/>
<path d="M436.3 302.1h0" stroke="#f2e428"/>
<path d="M434.9 310.2h0" stroke="#3b92e1"/>
<path d="M447.0 296.8h0" stroke="#f6c12a"/>
<path d="M451.3 292.1h0" stroke="#aec330"/>
<path d="M450.7 292.3h0" stroke="#2cb3be"/>
<path d="M438.8 307.9h0" stroke="#f5b82c"/>
<path d="M440.6 305.8h0" stroke="#f2e428"/>
<path d="M455.9 291.9h0" stroke="#b4c22f"/>
<path d="M432.6 300.9h0" stroke="#f5b82c"/>
<path d="M450.3 296.5h0" stroke="#cebb2f"/>
<path d="M447.1 288.3h0" stroke="#d6b82e"/>
<path d="M440.9 298.5h0" stroke="#f2e428"/>
<path d="M453.7 294.9h0" stroke="#31a9c9"/>
<path d="M459.8 277.9h0" stroke="#c9bc2f"/>
<path d="M457.4 291.3h0" stroke="#f2e228"/>
<path d="M462.3 282.5h0" stroke="#f7ce28"/>
<path d="M438.8 304.7h0" stroke="#f2e428"/>
<path d="M462.2 312.3h0" stroke="#3e43af"/>
<path d="M444.6 302.6h0" stroke="#2db2bf"/>
<path d="M425.2 300.0h0" stroke="#2eb7b2"/>
<path d="M466.8 283.6h0" stroke="#5cc160"/>
<path d="M443.6 308.5h0" stroke="#55c069"/>
<path d="M459.1 289.9h0" stroke="#f5d728"/>
<path d="M446.1 287.9h0" stroke="#3f62cd"/>
<path d="M442.4 300.0h0" stroke="#f5d428"/>
<path d="M439.3 303.2h0" stroke="#f2e428"/>
<path d="M452.3 292.9h0" stroke="#f5d728"/>
<path d="M451.1 304.2h0" stroke="#45be7e"/>
<path d="M450.9 304.6h0" stroke="#91c33c"/>
<path d="M440.0 296.8h0" stroke="#3d7bd8"/>
<path d="M435.3 295.1h0" stroke="#9bc338"/>
<path d="M452.0 293.2h0" stroke="#f2e428"/>
<path d="M464.5 289.4h0" stroke="#32bb9b"/>
<path d="M450.5 282.5h0" stroke="#63c156"/>
<path d="M459.0 277.2h0" stroke="#d4b92e"/>
<path d="M448.9 286.3h0" stroke="#ceba2f"/>
<path d="M451.1 293.3h0" stroke="#f5d528"/>
<path d="M448.8 298.1h0" stroke="#9dc337"/>
<path d="M456.4 295.5h0" stroke="#58c065"/>
<path d="M450.2 294.6h0" stroke="#30b9a8"/>
<path d="M449.5 301.5h0" stroke="#f7ce28"/>
<path d="M422.9 317.7h0" stroke="#f2e428"/>
<path d="M436.2 306.4h0" stroke="#33bb96"/>
<path d="M457.0 307.0h0" stroke="#3d379e"/>
<path d="M451.0 286.2h0" stroke="#2eb0c1"/>
<path d="M446.3 310.2h0" stroke="#30b9a7"/>
<path d="M465.3 276.6h0" stroke="#68c250"/>
<path d="M442.4 303.1h0" stroke="#dab72e"/>
<path d="M466.5 288.8h0" stroke="#f2e028"/>
<path d="M451.9 290.4h0" stroke="#9fc336"/>
<path d="M457.8 292.2h0" stroke="#c5bd2f"/>
<path d="M447.8 296.7h0" stroke="#bac02f"/>
<path d="M460.3 280.7h0" stroke="#f5b92c"/>
<path d="M437.0 295.7h0" stroke="#2db2bf"/>
<path d="M461.0 284.4h0" stroke="#f7cf28"/>
<path d="M455.7 295.4h0" stroke="#84c341"/>
<path d="M449.4 295.6h0" stroke="#f2e428"/>
<path d="M458.5 294.2h0" stroke="#31baa1"/>
<path d="M444.9 298.8h0" stroke="#f2e428"/>
<path d="M437.2 300.2h0" stroke="#f4b42d"/>
<path d="M441.4 294.7h0" stroke="#30b9a4"/>
<path d="M423.1 305.9h0" stroke="#35a1d1"/>
<path d="M451.3 307.5h0" stroke="#369ed4"/>
<path d="M462.3 287.4h0" stroke="#f2e428"/>
<path d="M439.2 298.2h0" stroke="#f4d928"/>
<path d="M469.0 290.1h0" stroke="#84c341"/>
<path d="M452.5 303.3h0" stroke="#3e45b2"/>
<path d="M434.9 301.8h0" stroke="#95c33a"/>
<path d="M448.5 296.1h0" stroke="#f2e428"/>
<path d="M432.4 306.2h0" stroke="#cabc2f"/>
<path d="M468.9 293.0h0" stroke="#31aac7"/>
<path d="M447.7 299.1h0" stroke="#f2e428"/>
<path d="M445.0 295.8h0" stroke="#5cc160"/>
<path d="M442.2 309.3h0" stroke="#76c347"/>
<path d="M468.2 288.7h0" stroke="#f6c22a"/>
<path d="M462.6 281.6h0" stroke="#c6bd2f"/>
<path d="M449.2 295.4h0" stroke="#f6bf2a"/>
<path d="M449.4 295.7h0" stroke="#3f49b8"/>
<path d="M471.8 280.2h0" stroke="#f2e428"/>
<path d="M456.5 286.2h0" stroke="#3cbd8b"/>
<path d="M434.0 278.3h0" stroke="#3e3faa"/>
<path d="M441.2 301.6h0" stroke="#3ebd87"/>
<path d="M456.7 290.4h0" stroke="#f4b12d"/>
<path d="M457.2 279.5h0" stroke="#35a1d2"/>
<path d="M459.5 285.8h0" stroke="#4ebf73"/>
<path d="M447.4 305.1h0" stroke="#f3de28"/>
<path d="M447.7 297.2h0" stroke="#f6be2a"/>
<path d="M436.1 306.9h0" stroke="#f7c828"/>
<path d="M428.6 308.5h0" stroke="#f2e428"/>
<path d="M428.5 306.4h0" stroke="#bdbf2f"/>
<path d="M447.9 301.6h0" stroke="#f5d428"/>
<path d="M465.9 306.2h0" stroke="#3d349b"/>
<path d="M439.7 290.4h0" stroke="#2eb7b0"/>
<path d="M437.8 300.9h0" stroke="#f4db28"/>
<path d="M452.8 308.1h0" stroke="#3d3095"/>
<path d="M460.8 293.3h0" stroke="#3d379f"/>
<path d="M457.8 284.3h0" stroke="#f2e428"/>
<path d="M440.9 315.1h0" stroke="#86c340"/>
<path d="M452.5 299.2h0" stroke="#f2e428"/>
<path d="M434.0 294.8h0" stroke="#5fc15c"/>
<path d="M439.8 301.5h0" stroke="#3d3196"/>
<path d="M456.1 297.2h0" stroke="#deb62e"/>
<path d="M431.2 305.5h0" stroke="#32ba9c"/>
<path d="M456.3 300.9h0" stroke="#3b93e0"/>
<path d="M435.8 303.1h0" stroke="#f2e428"/>
<path d="M465.4 294.6h0" stroke="#30b9a8"/>
<path d="M445.4 294.6h0" stroke="#f4b02d"/>
<path d="M426.0 294.4h0" stroke="#369fd3"/>
<path d="M446.9 298.8h0" stroke="#34bc95"/>
<path d="M430.4 302.7h0" stroke="#cfba2f"/>
<path d="M436.5 301.6h0" stroke="#53bf6c"/>
<path d="M443.1 308.2h0" stroke="#e1b52e"/>
<path d="M441.1 300.5h0" stroke="#f2e428"/>
<path d="M470.4 290.6h0" stroke="#35a0d2"/>
<path d="M441.2 298.7h0" stroke="#47be7c"/>
<path d="M427.9 296.6h0" stroke="#3c8fe0"/>
<path d="M443.3 299.3h0" stroke="#b3c22f"/>
<path d="M424.1 317.8h0" stroke="#f7c529"/>
<path d="M460.4 286.5h0" stroke="#dcb62e"/>
<path d="M434.4 304.1h0" stroke="#b2c32f"/>
<path d="M457.5 296.6h0" stroke="#3a95de"/>
<path d="M452.1 292.9h0" stroke="#b5c22f"/>
<path d="M453.4 311.9h0" stroke="#379bd7"/>
<path d="M457.4 290.0h0" stroke="#f2e428"/>
<path d="M454.8 297.3h0" stroke="#a2c335"/>
<path d="M438.5 305.4h0" stroke="#cbbc2f"/>
<path d="M436.9 309.4h0" stroke="#f2e428"/>
<path d="M448.7 301.9h0" stroke="#d5b92e"/>
<path d="M438.6 303.8h0" stroke="#b0c32f"/>
<path d="M456.0 289.7h0" stroke="#f2e428"/>
<path d="M442.9 301.9h0" stroke="#f2e428"/>
<path d="M439.4 303.7h0" stroke="#91c33c"/>
<path d="M434.4 311.6h0" stroke="#f2e428"/>
<path d="M463.7 297.7h0" stroke="#3b94df"/>
<path d="M443.3 302.3h0" stroke="#f7cc28"/>
<path d="M464.4 287.5h0" stroke="#33bb9a"/>
<path d="M462.6 294.5h0" stroke="#3e45b2"/>
<path d="M454.2 299.2h0" stroke="#3f51c3"/>
<path d="M440.8 293.9h0" stroke="#7bc345"/>
<path d="M455.5 285.3h0" stroke="#f4b42c"/>
<path d="M450.0 303.3h0" stroke="#78c346"/>
<path d="M465.6 282.1h0" stroke="#f2e428"/>
<path d="M438.9 301.7h0" stroke="#79c346"/>
<path d="M429.6 310.2h0" stroke="#cbbb2f"/>
<path d="M447.6 298.2h0" stroke="#5ac062"/>
<path d="M464.2 286.9h0" stroke="#f5bc2b"/>
<path d="M444.5 299.8h0" stroke="#71c349"/>
<path d="M443.7 298.6h0" stroke="#33bb96"/>
<path d="M437.0 294.1h0" stroke="#f5bd2b"/>
<path d="M452.3 308.1h0" stroke="#3d81da"/>
<path d="M461.3 280.8h0" stroke="#e3b42e"/>
<path d="M432.8 313.3h0" stroke="#f4b12d"/>
<path d="M466.2 282.5h0" stroke="#f2e428"/>
<path d="M442.7 304.2h0" stroke="#7fc343"/>
<path d="M449.7 299.0h0" stroke="#b2c32f"/>
<path d="M442.6 312.2h0" stroke="#f5d728"/>
<path d="M442.6 303.5h0" stroke="#7bc345"/>
<path d="M439.1 308.6h0" stroke="#f2e428"/>
<path d="M458.4 284.6h0" stroke="#b1c32f"/>
<path d="M441.1 304.8h0" stroke="#f3dc28"/>
<path d="M456.0 286.2h0" stroke="#f7cc28"/>
<path d="M472.2 285.5h0" stroke="#2eb7b1"/>
<path d="M425.3 317.4h0" stroke="#5fc15b"/>
<path d="M454.7 286.8h0" stroke="#2eb7b2"/>
<path d="M463.9 291.7h0" stroke="#4bbe76"/>
<path d="M447.0 300.8h0" stroke="#f5b72c"/>
<path d="M459.2 295.3h0" stroke="#2eb7b0"/>
<path d="M432.5 305.5h0" stroke="#f6c12a"/>
<path d="M424.9 294.6h0" stroke="#3e47b5"/>
<path d="M442.3 307.9h0" stroke="#2eb0c1"/>
<path d="M449.0 295.8h0" stroke="#3c8bdf"/>
<path d="M439.0 294.7h0" stroke="#3f55c8"/>
<path d="M447.8 296.0h0" stroke="#f2e428"/>
<path d="M447.1 296.9h0" stroke="#f5d628"/>
<path d="M447.5 295.9h0" stroke="#f4da28"/>
<path d="M451.2 285.5h0" stroke="#3f63ce"/>
<path d="M451.4 292.6h0" stroke="#3bbc8b"/>
<path d="M446.0 298.6h0" stroke="#f2e428"/>
<path d="M450.4 278.8h0" stroke="#3a96dd"/>
<path d="M440.4 302.1h0" stroke="#f2e428"/>
<path d="M446.9 299.2h0" stroke="#f4d928"/>
<path d="M455.4 281.4h0" stroke="#a2c335"/>
<path d="M441.7 291.7h0" stroke="#4bbe76"/>
<path d="M430.9 301.6h0" stroke="#f5bd2b"/>
<path d="M464.2 279.1h0" stroke="#f5ba2b"/>
<path d="M448.5 295.8h0" stroke="#3d369e"/>
<path d="M446.1 302.0h0" stroke="#32ba9c"/>
<path d="M453.5 293.4h0" stroke="#f2e428"/>
<path d="M467.5 278.1h0" stroke="#b5c22f"/>
<path d="M432.3 307.5h0" stroke="#f2e428"/>
<path d="M451.5 307.8h0" stroke="#3d349b"/>
<path d="M466.5 276.5h0" stroke="#32a6cc"/>
<path d="M464.3 294.4h0" stroke="#c8bc2f"/>
<path d="M445.7 299.8h0" stroke="#3d3095"/>
<path d="M418.7 311.0h0" stroke="#f2e428"/>
<path d="M478.5 280.9h0" stroke="#379bd8"/>
<path d="M443.0 296.1h0" stroke="#f5d428"/>
<path d="M458.0 289.9h0" stroke="#f2e128"/>
<path d="M450.7 298.9h0" stroke="#f2e028"/>
<path d="M463.3 284.9h0" stroke="#f2e428"/>
<path d="M451.7 293.5h0" stroke="#acc331"/>
<path d="M445.8 312.9h0" stroke="#7cc345"/>
<path d="M435.8 305.1h0" stroke="#f5d728"/>
<path d="M455.7 288.1h0" stroke="#72c349"/>
<path d="M453.5 288.9h0" stroke="#b6c22f"/>
<path d="M452.8 304.2h0" stroke="#3d3299"/>
<path d="M440.1 305.1h0" stroke="#cebb2f"/>
<path d="M456.3 295.0h0" stroke="#e3b42e"/>
<path d="M440.2 293.4h0" stroke="#3d3ba5"/>
<path d="M468.4 279.8h0" stroke="#f2e428"/>
<path d="M456.3 297.5h0" stroke="#3a95de"/>
<path d="M443.8 294.8h0" stroke="#39bc8f"/>
<path d="M442.3 305.3h0" stroke="#f6c02a"/>
<path d="M443.9 293.3h0" stroke="#30abc7"/>
<path d="M458.4 280.2h0" stroke="#f2e428"/>
<path d="M467.7 285.8h0" stroke="#3d7fda"/>
<path d="M472.4 282.6h0" stroke="#f2e428"/>
<path d="M457.0 296.6h0" stroke="#32ba9e"/>
<path d="M457.8 297.1h0" stroke="#3e41ac"/>
<path d="M449.4 290.0h0" stroke="#40bd85"/>
<path d="M432.2 298.4h0" stroke="#f2e428"/>
<path d="M453.3 284.0h0" stroke="#3c8cdf"/>
<path d="M455.3 283.4h0" stroke="#30abc6"/>
<path d="M444.0 296.5h0" stroke="#96c33a"/>
<path d="M449.6 302.8h0" stroke="#93c33b"/>
<path d="M449.4 298.0h0" stroke="#f2e428"/>
<path d="M464.1 294.9h0" stroke="#32ba9d"/>
<path d="M444.4 300.6h0" stroke="#f6c12a"/>
<path d="M437.9 310.7h0" stroke="#c4bd2f"/>
<path d="M446.2 294.5h0" stroke="#f5d728"/>
<path d="M440.7 302.5h0" stroke="#f2e428"/>
<path d="M460.1 283.4h0" stroke="#32ba9c"/>
<path d="M446.9 296.6h0" stroke="#3d3298"/>
<path d="M448.3 294.0h0" stroke="#9ec337"/>
<path d="M446.7 290.5h0" stroke="#62c158"/>
<path d="M432.9 306.2h0" stroke="#4dbf73"/>
<path d="M447.7 290.3h0" stroke="#2eb8ae"/>
<path d="M470.2 295.6h0" stroke="#8dc33e"/>
<path d="M461.6 281.4h0" stroke="#f4d928"/>
<path d="M457.2 303.5h0" stroke="#4abe77"/>
<path d="M448.6 292.8h0" stroke="#f2e428"/>
<path d="M454.5 288.5h0" stroke="#2cb6b9"/>
<path d="M445.3 287.9h0" stroke="#f5bc2b"/>
<path d="M451.0 296.4h0" stroke="#f2e428"/>
<path d="M439.8 297.4h0" stroke="#f2e028"/>
<path d="M478.2 274.3h0" stroke="#33bb98"/>
<path d="M436.6 299.2h0" stroke="#3c8bdf"/>
<path d="M431.3 308.2h0" stroke="#c4bd2f"/>
<path d="M458.4 289.9h0" stroke="#f4d928"/>
<path d="M460.7 280.9h0" stroke="#63c157"/>
<path d="M457.1 296.9h0" stroke="#f4b32d"/>
<path d="M453.7 307.8h0" stroke="#b8c12f"/>
<path d="M444.0 295.0h0" stroke="#88c340"/>
<path d="M457.6 294.1h0" stroke="#e1b52e"/>
<path d="M465.7 290.2h0" stroke="#2db2bf"/>
<path d="M448.2 293.5h0" stroke="#c9bc2f"/>
<path d="M445.0 312.6h0" stroke="#3f54c7"/>
<path d="M473.3 283.3h0" stroke="#40bd85"/>
<path d="M473.7 271.2h0" stroke="#f7c529"/>
<path d="M445.6 286.2h0" stroke="#3dbd88"/>
<path d="M465.5 286.4h0" stroke="#33bb97"/>
<path d="M445.0 293.3h0" stroke="#d3b92e"/>
<path d="M429.3 305.9h0" stroke="#e1b52e"/>
<path d="M430.7 316.3h0" stroke="#f4b02d"/>
<path d="M463.4 296.3h0" stroke="#d0ba2f"/>
<path d="M438.1 309.3h0" stroke="#62c158"/>
<path d="M452.5 299.1h0" stroke="#f7c728"/>
<path d="M447.3 302.4h0" stroke="#f3b02e"/>
<path d="M430.6 298.2h0" stroke="#3f4ab9"/>
<path d="M433.9 306.0h0" stroke="#32ba9c"/>
<path d="M455.0 289.3h0" stroke="#a4c334"/>
<path d="M439.3 298.9h0" stroke="#96c33a"/>
<path d="M430.8 312.5h0" stroke="#b3c32f"/>
<path d="M480.5 278.1h0" stroke="#52bf6d"/>
<path d="M460.2 283.9h0" stroke="#33a4ce"/>
<path d="M466.6 282.6h0" stroke="#f2e428"/>
<path d="M440.4 289.7h0" stroke="#3e44b1"/>
<path d="M457.8 302.6h0" stroke="#2eb0c1"/>
<path d="M434.3 302.2h0" stroke="#d5b92e"/>
<path d="M424.6 321.8h0" stroke="#3ebd88"/>
<path d="M415.1 317.7h0" stroke="#f1b02e"/>
<path d="M454.8 303.9h0" stroke="#34bc95"/>
<path d="M447.0 292.2h0" stroke="#3997dc"/>
<path d="M448.9 291.8h0" stroke="#f4b42d"/>
<path d="M431.8 303.0h0" stroke="#3f49b8"/>
<path d="M447.4 287.1h0" stroke="#3f4ebe"/>
<path d="M446.7 291.8h0" stroke="#3e3faa"/>
<path d="M433.4 309.1h0" stroke="#2cb5bc"/>
<path d="M459.5 296.2h0" stroke="#f7c728"/>
<path d="M469.1 279.7h0" stroke="#82c342"/>
<path d="M442.4 300.9h0" stroke="#f2e428"/>
<path d="M454.4 288.3h0" stroke="#dcb62e"/>
<path d="M430.4 316.5h0" stroke="#f5b82c"/>
<path d="M423.0 289.1h0" stroke="#3f50c1"/>
<path d="M432.3 308.3h0" stroke="#f7c529"/>
<path d="M458.1 292.3h0" stroke="#a6c333"/>
<path d="M440.5 301.4h0" stroke="#ecb22e"/>
<path d="M419.2 331.2h0" stroke="#7dc344"/>
<path d="M425.2 306.4h0" stroke="#2cb5bc"/>
<path d="M430.0 310.4h0" stroke="#f6d128"/>
<path d="M445.5 298.2h0" stroke="#e5b42e"/>
<path d="M472.9 283.0h0" stroke="#f4da28"/>
<path d="M448.1 289.5h0" stroke="#3d79d7"/>
<path d="M440.4 302.8h0" stroke="#48be7b"/>
<path d="M472.5 275.0h0" stroke="#f2e428"/>
<path d="M436.8 307.7h0" stroke="#f2e428"/>
<path d="M454.8 280.6h0" stroke="#40bd85"/>
<path d="M437.9 315.2h0" stroke="#78c346"/>
<path d="M409.2 277.2h0" stroke="#3d3399"/>
<path d="M445.3 296.9h0" stroke="#f2e428"/>
<path d="M457.1 282.7h0" stroke="#f7ce28"/>
<path d="M445.9 298.0h0" stroke="#51bf6f"/>
<path d="M439.9 301.8h0" stroke="#c2be2f"/>
<path d="M452.0 292.3h0" stroke="#c7bc2f"/>
<path d="M453.6 286.8h0" stroke="#f2e428"/>
<path d="M453.5 307.2h0" stroke="#3d39a2"/>
<path d="M451.0 303.2h0" stroke="#f2e328"/>
<path d="M447.5 305.8h0" stroke="#f7ce28"/>
<path d="M451.4 296.7h0" stroke="#f2e428"/>
<path d="M458.2 293.6h0" stroke="#f4b22d"/>
<path d="M442.7 295.1h0" stroke="#adc331"/>
<path d="M444.2 314.5h0" stroke="#3c8ade"/>
<path d="M429.5 310.3h0" stroke="#44be7f"/>
<path d="M423.8 308.0h0" stroke="#6ec34a"/>
<path d="M426.5 319.6h0" stroke="#f4db28"/>
<path d="M447.7 305.1h0" stroke="#3fbd86"/>
<path d="M450.8 288.3h0" stroke="#379cd6"/>
<path d="M442.4 295.5h0" stroke="#f7c729"/>
<path d="M462.3 285.1h0" stroke="#f4da28"/>
<path d="M466.2 281.3h0" stroke="#f5bd2b"/>
<path d="M458.7 297.7h0" stroke="#e9b32e"/>
<path d="M444.3 310.4h0" stroke="#6ec34a"/>
<path d="M450.6 298.1h0" stroke="#4abe78"/>
<path d="M439.1 299.8h0" stroke="#bbc02f"/>
<path d="M460.1 295.9h0" stroke="#3997db"/>
<path d="M423.9 310.5h0" stroke="#52bf6d"/>
<path d="M462.4 278.1h0" stroke="#f2e228"/>
<path d="M435.5 312.5h0" stroke="#35a1d2"/>
<path d="M423.2 303.0h0" stroke="#3d39a2"/>
</g>
<line x1="396.00" y1="256.60" x2="396.00" y2="336.70" stroke="#3a3a3a" stroke-width="1"/>
<line x1="396.00" y1="336.70" x2="501.00" y2="336.70" stroke="#3a3a3a" stroke-width="1"/>
<line x1="394.20" y1="256.60" x2="396.00" y2="256.60" stroke="#3a3a3a" stroke-width="1"/>
<text x="393.60" y="259.55" font-size="8.2" text-anchor="end" fill="#1a1a1a">1</text>
<line x1="394.20" y1="276.62" x2="396.00" y2="276.62" stroke="#3a3a3a" stroke-width="1"/>
<text x="393.60" y="279.58" font-size="8.2" text-anchor="end" fill="#1a1a1a">0.5</text>
<line x1="394.20" y1="296.65" x2="396.00" y2="296.65" stroke="#3a3a3a" stroke-width="1"/>
<text x="393.60" y="299.60" font-size="8.2" text-anchor="end" fill="#1a1a1a">0</text>
<line x1="394.20" y1="316.67" x2="396.00" y2="316.67" stroke="#3a3a3a" stroke-width="1"/>
<text x="393.60" y="319.63" font-size="8.2" text-anchor="end" fill="#1a1a1a">-0.5</text>
<line x1="394.20" y1="336.70" x2="396.00" y2="336.70" stroke="#3a3a3a" stroke-width="1"/>
<text x="393.60" y="339.65" font-size="8.2" text-anchor="end" fill="#1a1a1a">-1</text>
<line x1="422.25" y1="336.70" x2="422.25" y2="338.50" stroke="#3a3a3a" stroke-width="0.9"/>
<line x1="448.50" y1="336.70" x2="448.50" y2="338.50" stroke="#3a3a3a" stroke-width="0.9"/>
<line x1="474.75" y1="336.70" x2="474.75" y2="338.50" stroke="#3a3a3a" stroke-width="0.9"/>
<line x1="501.00" y1="336.70" x2="501.00" y2="338.50" stroke="#3a3a3a" stroke-width="0.9"/>
<text x="403.40" y="258.57" font-size="7.7" text-anchor="start" fill="#1a1a1a">R<tspan font-size="5" dy="-3">2</tspan><tspan dy="3"> = 0.60829</tspan></text>
<text x="403.40" y="268.57" font-size="7.7" text-anchor="start" fill="#1a1a1a">p&#160; &lt; 0.001</text>
<text x="460.00" y="258.17" font-size="7.7" text-anchor="start" fill="#1a1a1a">VR task</text>
<text x="371.20" y="300.85" font-size="8.9" text-anchor="middle" fill="#1a1a1a" transform="rotate(-90 371.20 297.65)">Coefficients&#160; for ΦF<tspan font-size="6" dy="2">L</tspan><tspan dy="-2"> + θS</tspan><tspan font-size="6" dy="2">L</tspan></text>
<line x1="537.30" y1="296.55" x2="642.50" y2="296.55" stroke="#999" stroke-width="0.9" stroke-dasharray="3.5,3"/>
<line x1="589.90" y1="256.20" x2="589.90" y2="336.90" stroke="#aaa" stroke-width="0.9" stroke-dasharray="3.5,3"/>
<g stroke-width="2.1" stroke-linecap="round" fill="none">
<path d="M606.3 275.2h0" stroke="#2eb8ae"/>
<path d="M569.0 305.7h0" stroke="#eab22e"/>
<path d="M601.0 314.8h0" stroke="#3f4ebf"/>
<path d="M605.3 295.1h0" stroke="#e1b52e"/>
<path d="M598.7 287.8h0" stroke="#2eb0c1"/>
<path d="M600.3 293.1h0" stroke="#30acc5"/>
<path d="M594.8 298.9h0" stroke="#f4b02d"/>
<path d="M599.8 290.3h0" stroke="#f2e428"/>
<path d="M571.8 303.4h0" stroke="#80c343"/>
<path d="M611.9 290.7h0" stroke="#aac332"/>
<path d="M568.1 314.8h0" stroke="#32bb9b"/>
<path d="M616.0 286.8h0" stroke="#c4be2f"/>
<path d="M601.2 287.0h0" stroke="#f5bd2b"/>
<path d="M585.2 299.2h0" stroke="#f2e428"/>
<path d="M571.4 303.0h0" stroke="#379bd7"/>
<path d="M595.4 293.4h0" stroke="#bebf2f"/>
<path d="M598.9 293.0h0" stroke="#73c349"/>
<path d="M561.7 317.9h0" stroke="#f4d828"/>
<path d="M593.6 294.0h0" stroke="#c1be2f"/>
<path d="M579.0 313.0h0" stroke="#30acc5"/>
<path d="M584.4 298.2h0" stroke="#f5bd2b"/>
<path d="M574.5 293.4h0" stroke="#32ba9d"/>
<path d="M586.1 298.4h0" stroke="#3d78d6"/>
<path d="M586.3 308.1h0" stroke="#34bc94"/>
<path d="M574.3 321.5h0" stroke="#30b9a6"/>
<path d="M578.3 303.6h0" stroke="#e1b52e"/>
<path d="M576.4 312.4h0" stroke="#f7ce28"/>
<path d="M570.0 299.6h0" stroke="#2cb5bc"/>
<path d="M590.2 302.9h0" stroke="#65c254"/>
<path d="M578.7 303.4h0" stroke="#f4b42d"/>
<path d="M608.7 288.0h0" stroke="#f4d828"/>
<path d="M587.4 299.2h0" stroke="#f2e428"/>
<path d="M593.9 292.9h0" stroke="#f2e428"/>
<path d="M585.9 297.8h0" stroke="#f6d228"/>
<path d="M569.3 305.8h0" stroke="#3899da"/>
<path d="M598.4 296.5h0" stroke="#2db2bf"/>
<path d="M626.1 270.4h0" stroke="#f3dc28"/>
<path d="M585.3 294.9h0" stroke="#2db1c0"/>
<path d="M584.2 298.8h0" stroke="#f0b12e"/>
<path d="M577.8 301.8h0" stroke="#5dc15e"/>
<path d="M570.7 315.1h0" stroke="#f6d028"/>
<path d="M597.9 295.6h0" stroke="#63c157"/>
<path d="M596.7 293.0h0" stroke="#f2e428"/>
<path d="M580.6 308.9h0" stroke="#d9b72e"/>
<path d="M597.5 303.2h0" stroke="#32a8ca"/>
<path d="M612.5 286.9h0" stroke="#31a9c8"/>
<path d="M587.0 287.1h0" stroke="#39bc8f"/>
<path d="M583.3 301.9h0" stroke="#e0b52e"/>
<path d="M619.0 280.5h0" stroke="#5fc15c"/>
<path d="M595.7 282.6h0" stroke="#32bb9b"/>
<path d="M576.9 309.6h0" stroke="#f5d728"/>
<path d="M587.2 291.0h0" stroke="#2eb8ad"/>
<path d="M590.3 290.6h0" stroke="#f2e428"/>
<path d="M588.9 305.6h0" stroke="#f7cb28"/>
<path d="M564.3 313.0h0" stroke="#dab72e"/>
<path d="M576.7 292.9h0" stroke="#3e41ad"/>
<path d="M573.2 298.0h0" stroke="#f6be2a"/>
<path d="M570.8 318.8h0" stroke="#3e68d0"/>
<path d="M606.8 281.5h0" stroke="#f2e428"/>
<path d="M594.4 315.1h0" stroke="#5ec15e"/>
<path d="M589.9 293.7h0" stroke="#eab22e"/>
<path d="M595.4 301.4h0" stroke="#3d7fd9"/>
<path d="M601.4 293.0h0" stroke="#33bb96"/>
<path d="M591.8 296.3h0" stroke="#f5b72c"/>
<path d="M601.6 285.3h0" stroke="#dcb62e"/>
<path d="M617.6 285.7h0" stroke="#32ba9e"/>
<path d="M578.4 308.3h0" stroke="#3d369d"/>
<path d="M580.4 308.5h0" stroke="#f6d128"/>
<path d="M584.4 292.6h0" stroke="#b0c32f"/>
<path d="M590.3 315.3h0" stroke="#3c90e1"/>
<path d="M590.0 292.8h0" stroke="#a2c335"/>
<path d="M582.3 304.3h0" stroke="#3c88de"/>
<path d="M587.9 297.8h0" stroke="#f5d428"/>
<path d="M586.5 298.0h0" stroke="#f7ce28"/>
<path d="M594.1 284.8h0" stroke="#2fb8ac"/>
<path d="M582.0 286.8h0" stroke="#31a8ca"/>
<path d="M594.6 293.1h0" stroke="#6ec34a"/>
<path d="M576.4 297.7h0" stroke="#31aac8"/>
<path d="M593.0 289.3h0" stroke="#359fd3"/>
<path d="M589.6 295.5h0" stroke="#f5b82c"/>
<path d="M594.1 294.0h0" stroke="#ccbb2f"/>
<path d="M574.2 315.7h0" stroke="#f2e428"/>
<path d="M595.0 289.5h0" stroke="#f7c928"/>
<path d="M600.0 290.8h0" stroke="#2db7b5"/>
<path d="M580.8 304.2h0" stroke="#f2e428"/>
<path d="M584.4 309.1h0" stroke="#2fb8aa"/>
<path d="M591.1 305.0h0" stroke="#3d3095"/>
<path d="M576.0 296.7h0" stroke="#cbbc2f"/>
<path d="M579.3 293.2h0" stroke="#f6c12a"/>
<path d="M591.0 301.2h0" stroke="#f7cb28"/>
<path d="M585.6 305.7h0" stroke="#f2e428"/>
<path d="M608.7 281.3h0" stroke="#f6d028"/>
<path d="M588.0 299.6h0" stroke="#30acc6"/>
<path d="M595.2 289.8h0" stroke="#f2e428"/>
<path d="M602.4 288.5h0" stroke="#f4b02d"/>
<path d="M595.9 291.8h0" stroke="#95c33a"/>
<path d="M576.0 307.4h0" stroke="#f6d128"/>
<path d="M586.6 300.1h0" stroke="#ecb22e"/>
<path d="M600.3 281.5h0" stroke="#3d359d"/>
<path d="M582.5 305.7h0" stroke="#67c251"/>
<path d="M582.7 311.0h0" stroke="#32bb9c"/>
<path d="M583.7 313.0h0" stroke="#2cb6bb"/>
<path d="M582.5 290.6h0" stroke="#3d379f"/>
<path d="M599.3 283.0h0" stroke="#f4b42c"/>
<path d="M601.9 291.4h0" stroke="#7cc345"/>
<path d="M589.6 300.1h0" stroke="#98c339"/>
<path d="M573.0 319.5h0" stroke="#2cb5bc"/>
<path d="M611.9 282.8h0" stroke="#f4b12d"/>
<path d="M595.6 294.7h0" stroke="#2cb6b7"/>
<path d="M594.4 300.2h0" stroke="#33bb97"/>
<path d="M576.9 303.3h0" stroke="#e1b52e"/>
<path d="M585.8 296.5h0" stroke="#f2e328"/>
<path d="M588.9 305.0h0" stroke="#33a4ce"/>
<path d="M601.8 279.6h0" stroke="#98c339"/>
<path d="M594.6 291.5h0" stroke="#dfb62e"/>
<path d="M589.1 301.2h0" stroke="#3e41ad"/>
<path d="M569.8 310.5h0" stroke="#8bc33e"/>
<path d="M571.6 296.7h0" stroke="#3d3095"/>
<path d="M585.5 295.9h0" stroke="#79c346"/>
<path d="M573.0 312.2h0" stroke="#f2e428"/>
<path d="M570.4 307.2h0" stroke="#8fc33d"/>
<path d="M581.3 275.0h0" stroke="#3f54c7"/>
<path d="M579.4 298.5h0" stroke="#3e3ca6"/>
<path d="M584.3 304.9h0" stroke="#3f50c1"/>
<path d="M601.0 288.9h0" stroke="#5ec15d"/>
<path d="M584.5 299.0h0" stroke="#30abc7"/>
<path d="M584.7 302.8h0" stroke="#3c8cdf"/>
<path d="M575.4 299.6h0" stroke="#f3df28"/>
<path d="M574.9 313.2h0" stroke="#79c346"/>
<path d="M570.9 306.6h0" stroke="#e3b42e"/>
<path d="M598.3 285.5h0" stroke="#3f50c1"/>
<path d="M586.5 294.2h0" stroke="#f4b52c"/>
<path d="M588.2 289.4h0" stroke="#f7c629"/>
<path d="M571.9 302.7h0" stroke="#33bb97"/>
<path d="M589.9 293.5h0" stroke="#3fbd86"/>
<path d="M584.4 303.3h0" stroke="#f6c12a"/>
<path d="M584.0 304.8h0" stroke="#3d74d5"/>
<path d="M606.2 282.8h0" stroke="#f2e428"/>
<path d="M618.4 280.9h0" stroke="#f0b12e"/>
<path d="M579.4 307.6h0" stroke="#f4b02d"/>
<path d="M607.1 291.8h0" stroke="#3e70d3"/>
<path d="M620.3 273.7h0" stroke="#f5bb2b"/>
<path d="M564.3 319.3h0" stroke="#c1be2f"/>
<path d="M587.3 302.9h0" stroke="#e7b32e"/>
<path d="M586.5 305.6h0" stroke="#f3dd28"/>
<path d="M585.3 289.3h0" stroke="#3b93df"/>
<path d="M589.9 310.7h0" stroke="#30abc7"/>
<path d="M613.9 288.4h0" stroke="#2fb8ac"/>
<path d="M577.9 296.1h0" stroke="#4dbf73"/>
<path d="M597.5 282.4h0" stroke="#3c90e1"/>
<path d="M609.9 283.0h0" stroke="#cbbb2f"/>
<path d="M581.9 310.2h0" stroke="#2cb4bd"/>
<path d="M598.7 297.2h0" stroke="#f7cb28"/>
<path d="M593.1 290.6h0" stroke="#30b9a5"/>
<path d="M600.9 292.3h0" stroke="#f7c928"/>
<path d="M606.2 273.4h0" stroke="#3e42af"/>
<path d="M612.2 280.0h0" stroke="#8ac33f"/>
<path d="M596.3 296.2h0" stroke="#2cb6b8"/>
<path d="M596.3 291.6h0" stroke="#3e40ab"/>
<path d="M603.5 295.1h0" stroke="#adc330"/>
<path d="M570.1 310.0h0" stroke="#a3c335"/>
<path d="M580.3 311.7h0" stroke="#2fadc5"/>
<path d="M591.7 289.6h0" stroke="#f5bc2b"/>
<path d="M578.4 314.9h0" stroke="#3899d9"/>
<path d="M575.3 311.7h0" stroke="#33bb97"/>
<path d="M588.6 292.6h0" stroke="#cbbc2f"/>
<path d="M612.1 272.8h0" stroke="#f5d628"/>
<path d="M582.2 291.0h0" stroke="#30b9a8"/>
<path d="M570.8 301.0h0" stroke="#2fadc5"/>
<path d="M592.7 298.5h0" stroke="#cebb2f"/>
<path d="M588.0 304.4h0" stroke="#45be7f"/>
<path d="M580.7 298.1h0" stroke="#f6d328"/>
<path d="M607.5 284.6h0" stroke="#33bb9a"/>
<path d="M567.8 310.6h0" stroke="#9bc338"/>
<path d="M592.3 294.8h0" stroke="#3ebd87"/>
<path d="M592.1 292.4h0" stroke="#3e42ad"/>
<path d="M585.6 294.1h0" stroke="#f7c828"/>
<path d="M607.1 281.1h0" stroke="#f2e228"/>
<path d="M597.3 292.4h0" stroke="#d3b92e"/>
<path d="M582.4 290.6h0" stroke="#3f4dbe"/>
<path d="M584.1 310.7h0" stroke="#30b9a5"/>
<path d="M581.4 294.7h0" stroke="#31ba9f"/>
<path d="M613.2 282.5h0" stroke="#e8b32e"/>
<path d="M607.4 289.0h0" stroke="#80c343"/>
<path d="M592.5 290.7h0" stroke="#31ba9f"/>
<path d="M594.9 284.3h0" stroke="#d1ba2f"/>
<path d="M590.1 301.9h0" stroke="#f5d728"/>
<path d="M590.8 300.6h0" stroke="#d9b72e"/>
<path d="M592.6 293.1h0" stroke="#f2e428"/>
<path d="M581.0 304.5h0" stroke="#f2e428"/>
<path d="M581.3 296.1h0" stroke="#f4b42d"/>
<path d="M598.1 289.7h0" stroke="#3f4cbb"/>
<path d="M593.0 296.0h0" stroke="#f2e428"/>
<path d="M598.0 293.5h0" stroke="#abc331"/>
<path d="M609.4 298.7h0" stroke="#3d39a1"/>
<path d="M605.7 283.0h0" stroke="#f2e428"/>
<path d="M577.3 317.0h0" stroke="#3d78d7"/>
<path d="M602.7 276.9h0" stroke="#f1b02e"/>
<path d="M581.9 282.9h0" stroke="#3e40ab"/>
<path d="M597.6 290.6h0" stroke="#33bb96"/>
<path d="M586.0 285.1h0" stroke="#44be80"/>
<path d="M592.3 287.8h0" stroke="#f2e428"/>
<path d="M616.5 269.3h0" stroke="#f2e428"/>
<path d="M576.3 307.4h0" stroke="#f2e428"/>
<path d="M568.9 314.6h0" stroke="#f7c928"/>
<path d="M585.5 291.6h0" stroke="#3dbd89"/>
<path d="M601.5 295.4h0" stroke="#3a96dd"/>
<path d="M604.9 292.0h0" stroke="#bfbf2f"/>
<path d="M580.9 297.1h0" stroke="#f2e028"/>
<path d="M586.4 291.9h0" stroke="#57c067"/>
<path d="M586.5 292.4h0" stroke="#f6d228"/>
<path d="M598.4 298.3h0" stroke="#31a8c9"/>
<path d="M572.7 312.5h0" stroke="#33bb9a"/>
<path d="M588.8 297.1h0" stroke="#dbb72e"/>
<path d="M580.9 310.4h0" stroke="#f7c828"/>
<path d="M591.4 292.7h0" stroke="#f7c729"/>
<path d="M576.6 293.7h0" stroke="#3c90e1"/>
<path d="M601.9 300.5h0" stroke="#acc331"/>
<path d="M595.8 278.9h0" stroke="#3cbd8a"/>
<path d="M596.0 291.8h0" stroke="#cbbc2f"/>
<path d="M577.6 309.6h0" stroke="#f5b82c"/>
<path d="M581.4 308.2h0" stroke="#f2e428"/>
<path d="M603.2 280.2h0" stroke="#69c24f"/>
<path d="M585.5 312.9h0" stroke="#51bf6e"/>
<path d="M570.5 294.6h0" stroke="#3f5ecc"/>
<path d="M597.7 293.7h0" stroke="#f2e428"/>
<path d="M593.1 304.1h0" stroke="#3d7dd9"/>
<path d="M587.7 296.4h0" stroke="#f6d328"/>
<path d="M591.5 295.2h0" stroke="#f5b82c"/>
<path d="M583.2 302.2h0" stroke="#cabc2f"/>
<path d="M577.6 302.7h0" stroke="#30b9a4"/>
<path d="M581.1 291.6h0" stroke="#c0bf2f"/>
<path d="M590.9 301.9h0" stroke="#3f4dbd"/>
<path d="M604.4 287.7h0" stroke="#9ec337"/>
<path d="M595.0 287.5h0" stroke="#2eb8ae"/>
<path d="M595.9 286.4h0" stroke="#7cc345"/>
<path d="M582.0 295.2h0" stroke="#f2e428"/>
<path d="M605.3 280.4h0" stroke="#2cb5bc"/>
<path d="M579.9 303.3h0" stroke="#f4b62c"/>
<path d="M561.2 314.4h0" stroke="#3d77d6"/>
<path d="M581.0 305.2h0" stroke="#53bf6c"/>
<path d="M587.7 287.6h0" stroke="#30b9a8"/>
<path d="M590.0 296.6h0" stroke="#3bbc8b"/>
<path d="M585.4 298.7h0" stroke="#f2e028"/>
<path d="M600.8 279.8h0" stroke="#30aac7"/>
<path d="M585.0 294.8h0" stroke="#f2e428"/>
<path d="M603.1 290.5h0" stroke="#95c33b"/>
<path d="M573.2 327.3h0" stroke="#3c8ade"/>
<path d="M573.1 305.3h0" stroke="#f6be2a"/>
<path d="M597.6 292.3h0" stroke="#3e3ea9"/>
<path d="M580.0 301.5h0" stroke="#3d369d"/>
<path d="M578.1 306.9h0" stroke="#6bc24c"/>
<path d="M614.9 286.2h0" stroke="#a4c334"/>
<path d="M577.7 298.6h0" stroke="#3d39a2"/>
<path d="M600.5 284.4h0" stroke="#ddb62e"/>
<path d="M586.0 292.0h0" stroke="#f2e428"/>
<path d="M588.4 304.1h0" stroke="#3b92e1"/>
<path d="M595.1 286.1h0" stroke="#f5b92b"/>
<path d="M585.3 294.2h0" stroke="#2eafc2"/>
<path d="M590.8 292.7h0" stroke="#f2e428"/>
<path d="M612.3 284.4h0" stroke="#63c157"/>
<path d="M595.1 294.3h0" stroke="#f2e428"/>
<path d="M583.0 306.7h0" stroke="#5cc160"/>
<path d="M607.6 274.4h0" stroke="#f2e428"/>
<path d="M614.2 277.9h0" stroke="#f2e428"/>
<path d="M582.5 306.4h0" stroke="#f6c22a"/>
<path d="M583.0 296.8h0" stroke="#30b9a4"/>
<path d="M595.8 290.1h0" stroke="#f7ce28"/>
<path d="M578.2 290.6h0" stroke="#3cbd8a"/>
<path d="M585.8 307.0h0" stroke="#3899da"/>
<path d="M592.1 293.5h0" stroke="#2fb8ab"/>
<path d="M580.2 294.9h0" stroke="#33a6cc"/>
<path d="M596.2 308.7h0" stroke="#3d3095"/>
<path d="M617.5 290.0h0" stroke="#b7c12f"/>
<path d="M624.7 275.7h0" stroke="#33bb97"/>
<path d="M615.3 284.9h0" stroke="#f4da28"/>
<path d="M586.7 286.3h0" stroke="#3b92e1"/>
<path d="M574.3 301.5h0" stroke="#f4b62c"/>
<path d="M561.2 329.1h0" stroke="#c7bd2f"/>
<path d="M609.1 280.8h0" stroke="#f2e428"/>
<path d="M600.7 286.9h0" stroke="#f2e428"/>
<path d="M589.8 296.1h0" stroke="#abc331"/>
<path d="M569.1 312.5h0" stroke="#f6c429"/>
<path d="M596.9 288.9h0" stroke="#f6d228"/>
<path d="M575.9 297.9h0" stroke="#3d75d6"/>
<path d="M608.6 277.1h0" stroke="#30acc6"/>
<path d="M600.8 283.7h0" stroke="#c4bd2f"/>
<path d="M596.9 294.7h0" stroke="#3f5ccb"/>
<path d="M607.2 278.7h0" stroke="#4fbf72"/>
<path d="M587.7 315.3h0" stroke="#50bf70"/>
<path d="M583.2 307.8h0" stroke="#87c340"/>
<path d="M595.8 292.7h0" stroke="#5cc160"/>
<path d="M570.9 323.0h0" stroke="#f3dc28"/>
<path d="M577.5 321.3h0" stroke="#f5b82c"/>
<path d="M600.5 274.5h0" stroke="#3d7fd9"/>
<path d="M586.1 288.6h0" stroke="#3a96dd"/>
<path d="M592.2 296.9h0" stroke="#f6c329"/>
<path d="M583.2 296.5h0" stroke="#c6bd2f"/>
<path d="M604.6 304.1h0" stroke="#2cb4bd"/>
<path d="M587.2 292.7h0" stroke="#a5c334"/>
<path d="M601.8 283.3h0" stroke="#2cb6bb"/>
<path d="M572.8 310.2h0" stroke="#34a2d0"/>
<path d="M569.1 308.9h0" stroke="#b6c22f"/>
<path d="M576.7 303.0h0" stroke="#f7ce28"/>
<path d="M603.1 277.3h0" stroke="#f4b32d"/>
<path d="M567.5 309.6h0" stroke="#6bc24c"/>
<path d="M599.9 291.4h0" stroke="#f2e428"/>
<path d="M598.0 290.8h0" stroke="#9bc338"/>
<path d="M577.2 314.3h0" stroke="#369dd5"/>
<path d="M582.2 306.6h0" stroke="#f6be2a"/>
<path d="M592.1 283.4h0" stroke="#31a9c9"/>
<path d="M581.0 303.1h0" stroke="#30abc6"/>
<path d="M585.9 289.7h0" stroke="#f2e428"/>
<path d="M577.0 297.6h0" stroke="#2eb7af"/>
<path d="M590.3 297.7h0" stroke="#35bc93"/>
<path d="M594.5 298.3h0" stroke="#50bf6f"/>
<path d="M572.0 304.7h0" stroke="#f6d028"/>
<path d="M595.4 294.5h0" stroke="#bbc02f"/>
<path d="M590.4 304.2h0" stroke="#aac332"/>
<path d="M577.6 313.4h0" stroke="#f4b12d"/>
<path d="M592.6 293.2h0" stroke="#f2e428"/>
<path d="M588.5 288.6h0" stroke="#d0ba2f"/>
<path d="M576.3 301.7h0" stroke="#2eb0c2"/>
<path d="M574.5 315.6h0" stroke="#f7c928"/>
<path d="M606.6 288.3h0" stroke="#73c349"/>
<path d="M577.3 301.3h0" stroke="#30b9a6"/>
<path d="M586.5 294.2h0" stroke="#3e48b6"/>
<path d="M567.9 311.2h0" stroke="#f2e428"/>
<path d="M574.4 311.6h0" stroke="#f7c529"/>
<path d="M594.3 286.4h0" stroke="#30b9a4"/>
<path d="M592.0 294.0h0" stroke="#3e3fa9"/>
<path d="M579.4 303.9h0" stroke="#f4db28"/>
<path d="M597.3 283.9h0" stroke="#35bc94"/>
<path d="M587.3 294.5h0" stroke="#57c067"/>
<path d="M593.5 299.5h0" stroke="#f7cd28"/>
<path d="M604.2 291.3h0" stroke="#d2b92e"/>
<path d="M583.3 307.3h0" stroke="#32a8ca"/>
<path d="M594.5 293.9h0" stroke="#83c342"/>
<path d="M576.8 299.5h0" stroke="#30b9a5"/>
<path d="M576.0 306.8h0" stroke="#79c346"/>
<path d="M587.2 300.1h0" stroke="#f7cc28"/>
<path d="M590.9 305.4h0" stroke="#32ba9d"/>
<path d="M593.6 287.1h0" stroke="#6fc34a"/>
<path d="M615.2 282.3h0" stroke="#35bc93"/>
<path d="M594.7 290.0h0" stroke="#3d359c"/>
<path d="M607.8 278.9h0" stroke="#f2e428"/>
<path d="M573.7 314.2h0" stroke="#f2e428"/>
<path d="M605.8 293.9h0" stroke="#3e42ad"/>
<path d="M608.0 281.8h0" stroke="#379cd7"/>
<path d="M598.1 296.4h0" stroke="#f5b92b"/>
<path d="M589.7 296.8h0" stroke="#f2e428"/>
<path d="M592.2 302.4h0" stroke="#31baa0"/>
<path d="M613.7 279.9h0" stroke="#f7ce28"/>
<path d="M600.9 296.8h0" stroke="#3e3faa"/>
<path d="M614.7 279.8h0" stroke="#f2e428"/>
<path d="M579.3 302.1h0" stroke="#f2e428"/>
<path d="M585.7 303.0h0" stroke="#6ec34a"/>
<path d="M577.6 309.8h0" stroke="#3cbd8a"/>
<path d="M594.8 305.1h0" stroke="#3c8ee0"/>
<path d="M584.9 298.3h0" stroke="#d3b92e"/>
<path d="M595.6 282.7h0" stroke="#3f53c6"/>
<path d="M592.4 295.6h0" stroke="#f2e428"/>
<path d="M595.0 298.8h0" stroke="#a6c333"/>
<path d="M598.2 286.0h0" stroke="#3d3095"/>
<path d="M619.8 271.1h0" stroke="#f4b42d"/>
<path d="M593.8 296.5h0" stroke="#f5bc2b"/>
<path d="M597.8 297.0h0" stroke="#92c33c"/>
<path d="M582.8 303.5h0" stroke="#f2e428"/>
<path d="M587.0 304.9h0" stroke="#f5d528"/>
<path d="M586.0 302.6h0" stroke="#9cc337"/>
<path d="M594.3 283.0h0" stroke="#f7c928"/>
<path d="M571.3 300.3h0" stroke="#3f63ce"/>
<path d="M611.4 278.1h0" stroke="#f6be2a"/>
<path d="M613.1 308.2h0" stroke="#3e45b2"/>
<path d="M599.2 292.1h0" stroke="#f2e428"/>
<path d="M566.5 316.7h0" stroke="#2eb8ad"/>
<path d="M587.6 300.9h0" stroke="#cbbb2f"/>
<path d="M595.3 291.6h0" stroke="#3d349b"/>
<path d="M584.7 295.6h0" stroke="#f3dc28"/>
<path d="M603.2 281.9h0" stroke="#f6d328"/>
<path d="M575.7 304.9h0" stroke="#8fc33d"/>
<path d="M599.2 301.9h0" stroke="#33bb97"/>
<path d="M611.4 283.0h0" stroke="#f2e428"/>
<path d="M576.9 312.7h0" stroke="#f2e128"/>
<path d="M612.0 271.5h0" stroke="#f2e428"/>
<path d="M569.0 309.3h0" stroke="#91c33c"/>
<path d="M598.7 288.9h0" stroke="#6ac24d"/>
<path d="M592.5 300.7h0" stroke="#dcb72e"/>
<path d="M597.4 291.6h0" stroke="#31baa2"/>
<path d="M594.8 292.9h0" stroke="#8bc33f"/>
<path d="M599.5 263.9h0" stroke="#3f4ebe"/>
<path d="M599.4 296.9h0" stroke="#3d359b"/>
<path d="M578.0 310.2h0" stroke="#f3de28"/>
<path d="M609.5 285.3h0" stroke="#f3dc28"/>
<path d="M600.5 294.7h0" stroke="#4abe78"/>
<path d="M580.6 302.1h0" stroke="#30acc6"/>
<path d="M600.2 287.2h0" stroke="#f4b62c"/>
<path d="M584.3 304.4h0" stroke="#f3de28"/>
<path d="M594.5 288.7h0" stroke="#f3dd28"/>
<path d="M617.4 273.9h0" stroke="#99c339"/>
<path d="M609.8 296.3h0" stroke="#369dd5"/>
<path d="M578.7 306.7h0" stroke="#57c067"/>
<path d="M594.8 294.0h0" stroke="#f2e428"/>
<path d="M591.3 296.5h0" stroke="#30acc5"/>
<path d="M595.6 300.8h0" stroke="#63c157"/>
<path d="M564.9 309.9h0" stroke="#33a4ce"/>
<path d="M594.7 285.7h0" stroke="#f4b62c"/>
<path d="M603.2 278.8h0" stroke="#f2e128"/>
<path d="M589.2 304.8h0" stroke="#f6d228"/>
<path d="M583.6 293.7h0" stroke="#9dc337"/>
<path d="M578.4 305.3h0" stroke="#e0b52e"/>
<path d="M590.3 284.5h0" stroke="#379bd8"/>
<path d="M594.6 295.0h0" stroke="#deb62e"/>
<path d="M572.9 307.3h0" stroke="#f4b22d"/>
<path d="M594.6 286.9h0" stroke="#f2e428"/>
<path d="M587.6 296.5h0" stroke="#f7cd28"/>
<path d="M591.9 295.6h0" stroke="#68c250"/>
<path d="M580.0 305.3h0" stroke="#92c33c"/>
<path d="M579.8 303.8h0" stroke="#f2e428"/>
<path d="M604.6 287.5h0" stroke="#92c33b"/>
<path d="M574.7 312.8h0" stroke="#32a7ca"/>
<path d="M586.3 310.8h0" stroke="#f2e428"/>
<path d="M589.2 301.8h0" stroke="#2cb5bc"/>
<path d="M568.2 314.2h0" stroke="#2eb0c1"/>
<path d="M609.2 286.4h0" stroke="#32ba9f"/>
<path d="M591.1 282.6h0" stroke="#30b9a5"/>
<path d="M602.9 297.1h0" stroke="#3d7ad7"/>
<path d="M571.8 296.3h0" stroke="#3e66cf"/>
<path d="M586.4 292.7h0" stroke="#31baa1"/>
<path d="M595.8 293.3h0" stroke="#f2e428"/>
<path d="M590.6 289.3h0" stroke="#2db7b3"/>
<path d="M596.2 285.1h0" stroke="#b8c12f"/>
<path d="M602.4 280.2h0" stroke="#44be80"/>
<path d="M580.6 305.3h0" stroke="#b2c32f"/>
<path d="M573.5 305.2h0" stroke="#cfba2f"/>
<path d="M577.5 306.2h0" stroke="#72c349"/>
<path d="M590.2 287.2h0" stroke="#49be79"/>
<path d="M587.4 296.5h0" stroke="#2faec3"/>
<path d="M604.6 281.3h0" stroke="#f2e428"/>
<path d="M596.5 298.7h0" stroke="#30b9a8"/>
<path d="M588.8 302.2h0" stroke="#bac02f"/>
<path d="M573.9 292.2h0" stroke="#3d7cd8"/>
<path d="M594.7 284.8h0" stroke="#6ec34b"/>
<path d="M612.3 280.6h0" stroke="#f3dc28"/>
<path d="M559.1 322.0h0" stroke="#f2e428"/>
<path d="M597.3 301.6h0" stroke="#f5bc2b"/>
<path d="M582.2 311.8h0" stroke="#bfbf2f"/>
<path d="M588.1 296.6h0" stroke="#b4c22f"/>
<path d="M582.3 298.1h0" stroke="#2eb0c1"/>
<path d="M575.5 309.5h0" stroke="#f4db28"/>
<path d="M590.9 299.3h0" stroke="#3e3faa"/>
<path d="M596.0 297.9h0" stroke="#2cb6ba"/>
<path d="M571.7 310.1h0" stroke="#f2e428"/>
<path d="M615.8 282.8h0" stroke="#eab22e"/>
<path d="M571.4 299.9h0" stroke="#f4b32d"/>
<path d="M587.1 302.8h0" stroke="#74c348"/>
<path d="M604.7 280.8h0" stroke="#f7cd28"/>
<path d="M579.2 309.0h0" stroke="#f6c02a"/>
<path d="M583.7 295.9h0" stroke="#d3b92e"/>
<path d="M610.8 302.8h0" stroke="#3d3095"/>
<path d="M581.6 306.3h0" stroke="#e9b32e"/>
<path d="M591.5 296.6h0" stroke="#93c33b"/>
<path d="M586.4 299.4h0" stroke="#53bf6b"/>
<path d="M583.0 303.7h0" stroke="#f4b12d"/>
<path d="M583.2 304.5h0" stroke="#f6c329"/>
<path d="M589.2 297.7h0" stroke="#f6c329"/>
<path d="M595.8 289.4h0" stroke="#cebb2f"/>
<path d="M574.9 301.0h0" stroke="#3d3ba4"/>
<path d="M556.8 294.4h0" stroke="#3d3095"/>
<path d="M594.3 293.7h0" stroke="#cfba2f"/>
<path d="M581.8 310.7h0" stroke="#f6c429"/>
<path d="M578.1 313.9h0" stroke="#9cc338"/>
<path d="M580.3 302.2h0" stroke="#f3de28"/>
<path d="M605.1 296.5h0" stroke="#51bf6f"/>
<path d="M586.8 291.0h0" stroke="#8cc33e"/>
<path d="M590.0 295.9h0" stroke="#31ba9f"/>
<path d="M589.0 298.0h0" stroke="#f2e428"/>
<path d="M596.9 289.6h0" stroke="#63c157"/>
<path d="M591.7 286.5h0" stroke="#c5bd2f"/>
<path d="M595.5 301.8h0" stroke="#d1ba2f"/>
<path d="M579.9 294.0h0" stroke="#30b9a4"/>
<path d="M604.0 285.1h0" stroke="#f2e428"/>
<path d="M580.6 299.3h0" stroke="#f2e428"/>
<path d="M600.1 289.2h0" stroke="#f6bf2a"/>
<path d="M581.2 301.3h0" stroke="#30b9a4"/>
</g>
<line x1="537.30" y1="256.20" x2="537.30" y2="336.90" stroke="#3a3a3a" stroke-width="1"/>
<line x1="537.30" y1="336.90" x2="642.50" y2="336.90" stroke="#3a3a3a" stroke-width="1"/>
<line x1="535.50" y1="256.20" x2="537.30" y2="256.20" stroke="#3a3a3a" stroke-width="1"/>
<text x="534.90" y="259.15" font-size="8.2" text-anchor="end" fill="#1a1a1a">1</text>
<line x1="535.50" y1="276.37" x2="537.30" y2="276.37" stroke="#3a3a3a" stroke-width="1"/>
<text x="534.90" y="279.33" font-size="8.2" text-anchor="end" fill="#1a1a1a">0.5</text>
<line x1="535.50" y1="296.55" x2="537.30" y2="296.55" stroke="#3a3a3a" stroke-width="1"/>
<text x="534.90" y="299.50" font-size="8.2" text-anchor="end" fill="#1a1a1a">0</text>
<line x1="535.50" y1="316.72" x2="537.30" y2="316.72" stroke="#3a3a3a" stroke-width="1"/>
<text x="534.90" y="319.68" font-size="8.2" text-anchor="end" fill="#1a1a1a">-0.5</text>
<line x1="535.50" y1="336.90" x2="537.30" y2="336.90" stroke="#3a3a3a" stroke-width="1"/>
<text x="534.90" y="339.85" font-size="8.2" text-anchor="end" fill="#1a1a1a">-1</text>
<line x1="563.60" y1="336.90" x2="563.60" y2="338.70" stroke="#3a3a3a" stroke-width="0.9"/>
<line x1="589.90" y1="336.90" x2="589.90" y2="338.70" stroke="#3a3a3a" stroke-width="0.9"/>
<line x1="616.20" y1="336.90" x2="616.20" y2="338.70" stroke="#3a3a3a" stroke-width="0.9"/>
<line x1="642.50" y1="336.90" x2="642.50" y2="338.70" stroke="#3a3a3a" stroke-width="0.9"/>
<text x="548.00" y="258.17" font-size="7.7" text-anchor="start" fill="#1a1a1a">VR task</text>
<text x="606.10" y="258.17" font-size="7.7" text-anchor="start" fill="#1a1a1a">R<tspan font-size="5" dy="-3">2</tspan><tspan dy="3"> = 0.56816</tspan></text>
<text x="606.10" y="267.57" font-size="7.7" text-anchor="start" fill="#1a1a1a">p&#160; &lt; 0.001</text>
<text x="512.50" y="300.75" font-size="8.9" text-anchor="middle" fill="#1a1a1a" transform="rotate(-90 512.50 297.55)">Coefficients&#160; for ΦF<tspan font-size="6" dy="2">R</tspan><tspan dy="-2"> + θS</tspan><tspan font-size="6" dy="2">R</tspan></text>
<line x1="396.00" y1="411.30" x2="500.50" y2="411.30" stroke="#999" stroke-width="0.9" stroke-dasharray="3.5,3"/>
<line x1="448.25" y1="371.90" x2="448.25" y2="450.70" stroke="#aaa" stroke-width="0.9" stroke-dasharray="3.5,3"/>
<g stroke-width="2.1" stroke-linecap="round" fill="none">
<path d="M464.3 417.2h0" stroke="#3e42ae"/>
<path d="M429.1 422.4h0" stroke="#2eafc3"/>
<path d="M437.5 405.7h0" stroke="#3f4cbb"/>
<path d="M458.7 422.1h0" stroke="#3d39a1"/>
<path d="M457.0 406.3h0" stroke="#cdbb2f"/>
<path d="M450.8 406.8h0" stroke="#bcc02f"/>
<path d="M445.5 414.0h0" stroke="#f6c12a"/>
<path d="M431.9 405.0h0" stroke="#3e3faa"/>
<path d="M447.6 410.1h0" stroke="#33bb97"/>
<path d="M447.1 410.9h0" stroke="#a3c335"/>
<path d="M443.1 416.1h0" stroke="#f5bb2b"/>
<path d="M463.0 438.2h0" stroke="#35a0d2"/>
<path d="M451.7 415.2h0" stroke="#2faec4"/>
<path d="M461.8 419.1h0" stroke="#3f4fc0"/>
<path d="M443.7 418.8h0" stroke="#edb22e"/>
<path d="M453.0 428.3h0" stroke="#3d339a"/>
<path d="M452.4 408.1h0" stroke="#abc331"/>
<path d="M448.0 404.4h0" stroke="#2cb6ba"/>
<path d="M469.3 422.8h0" stroke="#3f4bba"/>
<path d="M443.0 405.2h0" stroke="#3f4ab8"/>
<path d="M439.4 415.0h0" stroke="#f5d428"/>
<path d="M464.1 421.5h0" stroke="#3f52c4"/>
<path d="M447.0 417.1h0" stroke="#4dbf73"/>
<path d="M460.6 401.8h0" stroke="#f3df28"/>
<path d="M436.2 421.4h0" stroke="#9cc338"/>
<path d="M439.4 401.5h0" stroke="#3e3da7"/>
<path d="M454.7 409.8h0" stroke="#b5c22f"/>
<path d="M465.3 421.3h0" stroke="#3e3ea8"/>
<path d="M457.0 410.0h0" stroke="#3898da"/>
<path d="M440.0 400.6h0" stroke="#3e3faa"/>
<path d="M436.9 416.2h0" stroke="#b0c32f"/>
<path d="M446.2 421.2h0" stroke="#3bbc8b"/>
<path d="M435.0 398.1h0" stroke="#3d38a0"/>
<path d="M453.9 406.5h0" stroke="#f2e428"/>
<path d="M441.0 403.8h0" stroke="#3e42ae"/>
<path d="M457.6 401.5h0" stroke="#f3de28"/>
<path d="M455.8 410.5h0" stroke="#8bc33f"/>
<path d="M445.4 412.3h0" stroke="#43bd81"/>
<path d="M471.6 398.0h0" stroke="#30abc6"/>
<path d="M454.7 419.9h0" stroke="#3e45b2"/>
<path d="M432.4 402.1h0" stroke="#3e3ea9"/>
<path d="M474.1 429.3h0" stroke="#3e41ad"/>
<path d="M464.6 423.1h0" stroke="#3e3ea8"/>
<path d="M462.1 423.6h0" stroke="#3c8cdf"/>
<path d="M445.9 414.1h0" stroke="#f7cc28"/>
<path d="M443.6 411.2h0" stroke="#31b9a3"/>
<path d="M444.5 411.4h0" stroke="#f2e428"/>
<path d="M446.6 410.4h0" stroke="#e7b32e"/>
<path d="M437.2 402.7h0" stroke="#31a9c9"/>
<path d="M434.7 405.0h0" stroke="#3e3ca6"/>
<path d="M449.5 410.7h0" stroke="#e7b32e"/>
<path d="M439.6 420.1h0" stroke="#f2b02e"/>
<path d="M463.8 422.2h0" stroke="#3e40ab"/>
<path d="M457.0 401.1h0" stroke="#b4c22f"/>
<path d="M428.6 402.2h0" stroke="#3e3fab"/>
<path d="M450.9 411.7h0" stroke="#2db3be"/>
<path d="M440.8 409.3h0" stroke="#3e42ae"/>
<path d="M433.0 402.4h0" stroke="#2cb4be"/>
<path d="M437.6 413.7h0" stroke="#f6d028"/>
<path d="M443.0 410.5h0" stroke="#3f5ccb"/>
<path d="M454.4 413.0h0" stroke="#94c33b"/>
<path d="M457.9 417.2h0" stroke="#3d3095"/>
<path d="M466.7 424.0h0" stroke="#3e3fa9"/>
<path d="M460.5 423.9h0" stroke="#3f4bba"/>
<path d="M448.3 403.9h0" stroke="#3e3ca6"/>
<path d="M435.9 399.8h0" stroke="#3d3197"/>
<path d="M470.8 399.6h0" stroke="#72c349"/>
<path d="M464.9 430.9h0" stroke="#3d369e"/>
<path d="M454.4 417.3h0" stroke="#3d3298"/>
<path d="M457.4 420.9h0" stroke="#3d369d"/>
<path d="M463.3 422.0h0" stroke="#3e47b4"/>
<path d="M427.6 396.8h0" stroke="#3f49b8"/>
<path d="M443.3 404.6h0" stroke="#b1c32f"/>
<path d="M458.7 405.9h0" stroke="#2db7b2"/>
<path d="M442.9 410.5h0" stroke="#44be7f"/>
<path d="M457.5 424.1h0" stroke="#3d379f"/>
<path d="M461.9 425.7h0" stroke="#3c84dc"/>
<path d="M450.7 413.0h0" stroke="#2db6b6"/>
<path d="M459.3 404.6h0" stroke="#f7c928"/>
<path d="M440.0 402.4h0" stroke="#3e43af"/>
<path d="M468.3 428.9h0" stroke="#3d3297"/>
<path d="M440.0 406.0h0" stroke="#3d3095"/>
<path d="M453.2 405.0h0" stroke="#f5bd2b"/>
<path d="M436.4 399.2h0" stroke="#3d3095"/>
<path d="M460.2 407.3h0" stroke="#56c068"/>
<path d="M462.6 418.6h0" stroke="#3e3ea8"/>
<path d="M448.7 414.1h0" stroke="#64c255"/>
<path d="M444.2 419.3h0" stroke="#6bc24c"/>
<path d="M441.5 419.2h0" stroke="#7dc344"/>
<path d="M474.9 428.2h0" stroke="#3f4bbb"/>
<path d="M448.4 418.3h0" stroke="#32a8ca"/>
<path d="M437.8 414.9h0" stroke="#84c341"/>
<path d="M452.3 415.7h0" stroke="#3d339a"/>
<path d="M471.5 424.3h0" stroke="#3e44b1"/>
<path d="M460.3 422.9h0" stroke="#3e3faa"/>
<path d="M448.2 417.9h0" stroke="#3e64ce"/>
<path d="M436.3 399.9h0" stroke="#3d359c"/>
<path d="M433.2 408.8h0" stroke="#3c8bdf"/>
<path d="M459.5 407.3h0" stroke="#f6d128"/>
<path d="M447.7 412.8h0" stroke="#3bbc8b"/>
<path d="M444.5 415.3h0" stroke="#a3c335"/>
<path d="M434.4 414.8h0" stroke="#32ba9d"/>
<path d="M461.7 421.8h0" stroke="#3e47b5"/>
<path d="M447.6 419.1h0" stroke="#b2c32f"/>
<path d="M435.7 403.4h0" stroke="#3e43b0"/>
<path d="M435.5 406.9h0" stroke="#3e44b1"/>
<path d="M430.0 402.9h0" stroke="#3e3ca6"/>
<path d="M442.5 416.4h0" stroke="#2cb6b9"/>
<path d="M457.2 424.2h0" stroke="#3d3095"/>
<path d="M447.5 407.6h0" stroke="#81c343"/>
<path d="M437.6 423.5h0" stroke="#31aac8"/>
<path d="M467.6 417.3h0" stroke="#3e3ca6"/>
<path d="M456.1 409.4h0" stroke="#e7b32e"/>
<path d="M444.6 409.1h0" stroke="#3d3095"/>
<path d="M428.4 427.7h0" stroke="#f2e428"/>
<path d="M441.0 407.0h0" stroke="#3d349b"/>
<path d="M433.8 390.8h0" stroke="#32a8ca"/>
<path d="M445.2 407.7h0" stroke="#3e40ab"/>
<path d="M436.0 403.6h0" stroke="#3d3095"/>
<path d="M448.0 415.5h0" stroke="#3e45b1"/>
<path d="M459.3 407.0h0" stroke="#f7c729"/>
<path d="M458.8 411.3h0" stroke="#f4b62c"/>
<path d="M456.8 404.0h0" stroke="#31a9c8"/>
<path d="M443.9 404.5h0" stroke="#3f4ab9"/>
<path d="M449.3 403.7h0" stroke="#58c065"/>
<path d="M449.1 400.8h0" stroke="#f4b02d"/>
<path d="M459.4 422.6h0" stroke="#3d3aa3"/>
<path d="M452.6 422.3h0" stroke="#3d3298"/>
<path d="M419.9 390.3h0" stroke="#3f55c8"/>
<path d="M438.4 411.5h0" stroke="#3bbc8b"/>
<path d="M450.9 411.9h0" stroke="#edb22e"/>
<path d="M457.5 419.4h0" stroke="#3f48b7"/>
<path d="M464.5 424.9h0" stroke="#3f4ebe"/>
<path d="M449.4 405.4h0" stroke="#3bbc8c"/>
<path d="M459.5 426.4h0" stroke="#eeb12e"/>
<path d="M472.9 426.6h0" stroke="#3f49b7"/>
<path d="M459.3 410.6h0" stroke="#2db6b6"/>
<path d="M437.2 395.1h0" stroke="#3e3fa9"/>
<path d="M442.1 403.5h0" stroke="#3e47b4"/>
<path d="M447.5 416.2h0" stroke="#3c87dd"/>
<path d="M441.1 414.1h0" stroke="#d1ba2f"/>
<path d="M460.3 425.6h0" stroke="#35a0d2"/>
<path d="M451.2 405.3h0" stroke="#30b9a6"/>
<path d="M470.2 428.9h0" stroke="#3d3095"/>
<path d="M460.3 416.3h0" stroke="#3f49b8"/>
<path d="M454.5 420.5h0" stroke="#3e3faa"/>
<path d="M455.3 423.8h0" stroke="#3e43b0"/>
<path d="M457.6 414.4h0" stroke="#3d3399"/>
<path d="M447.6 420.1h0" stroke="#2fadc4"/>
<path d="M454.6 413.5h0" stroke="#33a5cc"/>
<path d="M453.9 404.9h0" stroke="#94c33b"/>
<path d="M448.8 427.6h0" stroke="#3e47b5"/>
<path d="M434.7 402.7h0" stroke="#3f4cbc"/>
<path d="M453.5 421.2h0" stroke="#3d3196"/>
<path d="M466.7 425.5h0" stroke="#389ad9"/>
<path d="M436.6 404.8h0" stroke="#3d38a0"/>
<path d="M443.2 410.8h0" stroke="#34a2d1"/>
<path d="M462.8 402.1h0" stroke="#a9c332"/>
<path d="M452.9 411.1h0" stroke="#2cb4bd"/>
<path d="M430.6 401.6h0" stroke="#3d3ba4"/>
<path d="M440.9 406.5h0" stroke="#3f4ebf"/>
<path d="M451.9 414.5h0" stroke="#2eb0c1"/>
<path d="M437.6 416.3h0" stroke="#f6c229"/>
<path d="M458.7 405.7h0" stroke="#30b9a7"/>
<path d="M459.3 422.2h0" stroke="#32ba9f"/>
<path d="M447.1 410.5h0" stroke="#f6d328"/>
<path d="M439.2 420.3h0" stroke="#f4b42c"/>
<path d="M459.2 407.0h0" stroke="#e1b52e"/>
<path d="M437.7 416.7h0" stroke="#dbb72e"/>
<path d="M455.4 418.5h0" stroke="#3e41ac"/>
<path d="M447.9 407.2h0" stroke="#3f4fbf"/>
<path d="M434.6 399.1h0" stroke="#3d3095"/>
<path d="M436.6 416.8h0" stroke="#f6c22a"/>
<path d="M463.6 437.0h0" stroke="#32ba9c"/>
<path d="M442.3 405.0h0" stroke="#3e41ad"/>
<path d="M447.8 409.3h0" stroke="#3e3ea8"/>
<path d="M451.0 416.0h0" stroke="#2cb4bd"/>
<path d="M452.1 404.7h0" stroke="#edb12e"/>
<path d="M440.3 402.8h0" stroke="#3e47b5"/>
<path d="M452.7 411.6h0" stroke="#f4b12d"/>
<path d="M427.6 398.5h0" stroke="#3d3aa3"/>
<path d="M467.9 427.9h0" stroke="#3f59ca"/>
<path d="M442.3 411.4h0" stroke="#3e45b2"/>
<path d="M457.2 417.5h0" stroke="#3e40ab"/>
<path d="M446.7 418.5h0" stroke="#f7cf28"/>
<path d="M450.2 417.0h0" stroke="#3997dc"/>
<path d="M461.6 426.6h0" stroke="#3d369d"/>
<path d="M442.4 403.7h0" stroke="#3c8bdf"/>
<path d="M438.9 404.3h0" stroke="#3e42ae"/>
<path d="M457.8 424.4h0" stroke="#3e47b5"/>
<path d="M461.9 430.1h0" stroke="#3d3aa3"/>
<path d="M435.6 399.0h0" stroke="#3f4dbd"/>
<path d="M440.9 417.1h0" stroke="#aec330"/>
<path d="M442.8 415.6h0" stroke="#f2e428"/>
<path d="M460.5 424.1h0" stroke="#3f48b7"/>
<path d="M441.1 418.9h0" stroke="#f2e128"/>
<path d="M446.0 420.4h0" stroke="#3cbd8b"/>
<path d="M437.6 398.9h0" stroke="#3d369d"/>
<path d="M459.1 413.6h0" stroke="#3f4fc1"/>
<path d="M434.4 412.6h0" stroke="#3997db"/>
<path d="M447.3 406.8h0" stroke="#3e3ea9"/>
<path d="M447.6 410.4h0" stroke="#2cb6b7"/>
<path d="M435.2 399.8h0" stroke="#3e47b5"/>
<path d="M460.8 400.2h0" stroke="#8bc33f"/>
<path d="M437.7 414.2h0" stroke="#e7b32e"/>
<path d="M454.3 405.5h0" stroke="#f4b02d"/>
<path d="M440.2 395.5h0" stroke="#3e44b1"/>
<path d="M437.4 421.2h0" stroke="#f2e428"/>
<path d="M451.6 418.6h0" stroke="#3d39a2"/>
<path d="M450.5 414.0h0" stroke="#4dbf74"/>
<path d="M454.4 411.8h0" stroke="#a5c334"/>
<path d="M465.4 432.6h0" stroke="#3e44b0"/>
<path d="M454.6 418.3h0" stroke="#3d3095"/>
<path d="M465.6 416.9h0" stroke="#3d3095"/>
<path d="M460.2 423.1h0" stroke="#2cb6bb"/>
<path d="M439.9 404.0h0" stroke="#2cb6bb"/>
<path d="M433.8 416.5h0" stroke="#2cb3be"/>
<path d="M435.6 402.2h0" stroke="#3f4ab8"/>
<path d="M441.0 411.0h0" stroke="#32bb9b"/>
<path d="M437.7 400.2h0" stroke="#3e47b4"/>
<path d="M458.0 400.1h0" stroke="#8ac33f"/>
<path d="M454.7 407.8h0" stroke="#b5c22f"/>
<path d="M438.3 418.6h0" stroke="#f2e428"/>
<path d="M456.8 418.4h0" stroke="#3d339a"/>
<path d="M467.1 427.6h0" stroke="#3e42ae"/>
<path d="M457.9 400.6h0" stroke="#36bc92"/>
<path d="M461.4 420.4h0" stroke="#3e3da8"/>
<path d="M466.5 421.5h0" stroke="#3d3ba5"/>
<path d="M442.5 407.6h0" stroke="#3d38a0"/>
<path d="M457.4 421.1h0" stroke="#3e44b0"/>
<path d="M464.9 420.6h0" stroke="#3e43af"/>
<path d="M433.1 404.9h0" stroke="#3e42ae"/>
<path d="M454.4 410.5h0" stroke="#3c8de0"/>
<path d="M446.5 404.3h0" stroke="#3d39a1"/>
<path d="M444.7 415.2h0" stroke="#f6d328"/>
<path d="M462.5 424.6h0" stroke="#2cb5bc"/>
<path d="M445.9 413.3h0" stroke="#f2e428"/>
<path d="M456.6 420.6h0" stroke="#3d3095"/>
<path d="M453.1 406.1h0" stroke="#31baa1"/>
<path d="M454.7 405.9h0" stroke="#f7c728"/>
<path d="M455.1 403.0h0" stroke="#9cc338"/>
<path d="M441.8 420.1h0" stroke="#8bc33e"/>
<path d="M452.9 409.7h0" stroke="#3e41ac"/>
<path d="M440.5 419.4h0" stroke="#ddb62e"/>
<path d="M436.5 406.2h0" stroke="#3d3095"/>
<path d="M450.1 417.1h0" stroke="#51bf6e"/>
<path d="M457.6 408.2h0" stroke="#dab72e"/>
<path d="M439.7 401.9h0" stroke="#379bd8"/>
<path d="M438.6 415.8h0" stroke="#f5b72c"/>
<path d="M459.3 419.9h0" stroke="#3e48b6"/>
<path d="M450.5 403.4h0" stroke="#65c254"/>
<path d="M467.5 396.8h0" stroke="#80c343"/>
<path d="M441.7 409.7h0" stroke="#2fb8aa"/>
<path d="M455.0 417.3h0" stroke="#2fb8ac"/>
<path d="M462.5 422.9h0" stroke="#3f49b8"/>
<path d="M444.6 405.3h0" stroke="#3d359c"/>
<path d="M437.4 409.9h0" stroke="#3e45b2"/>
<path d="M457.0 405.3h0" stroke="#c8bc2f"/>
<path d="M436.8 425.6h0" stroke="#c5bd2f"/>
<path d="M448.1 411.5h0" stroke="#f3dc28"/>
<path d="M445.3 412.2h0" stroke="#3e43af"/>
<path d="M461.3 403.3h0" stroke="#93c33b"/>
<path d="M432.6 398.4h0" stroke="#3d3ca5"/>
<path d="M449.8 411.7h0" stroke="#3d3095"/>
<path d="M448.3 405.3h0" stroke="#3c83db"/>
<path d="M448.6 408.9h0" stroke="#32a7ca"/>
<path d="M437.9 409.9h0" stroke="#3f4dbd"/>
<path d="M438.6 408.6h0" stroke="#3e45b2"/>
<path d="M438.8 399.9h0" stroke="#3d3aa3"/>
<path d="M449.1 409.0h0" stroke="#f7c828"/>
<path d="M438.1 398.9h0" stroke="#2cb6bb"/>
<path d="M462.8 427.5h0" stroke="#3d76d6"/>
<path d="M448.4 409.1h0" stroke="#f7cd28"/>
<path d="M445.3 412.4h0" stroke="#b3c32f"/>
<path d="M435.7 397.7h0" stroke="#3d349b"/>
<path d="M464.5 427.7h0" stroke="#3d3095"/>
<path d="M439.9 398.8h0" stroke="#3d3096"/>
<path d="M455.4 409.3h0" stroke="#33bb97"/>
<path d="M441.4 414.4h0" stroke="#f2e428"/>
<path d="M430.8 396.7h0" stroke="#3e3ca6"/>
<path d="M438.0 399.1h0" stroke="#3e3ea9"/>
<path d="M439.0 415.6h0" stroke="#2cb5bc"/>
<path d="M450.5 410.2h0" stroke="#dcb72e"/>
<path d="M437.5 415.0h0" stroke="#67c251"/>
<path d="M441.0 419.8h0" stroke="#b7c12f"/>
<path d="M458.6 429.5h0" stroke="#3d369e"/>
<path d="M464.2 426.8h0" stroke="#3e40ab"/>
<path d="M447.1 420.4h0" stroke="#32ba9e"/>
<path d="M444.6 415.1h0" stroke="#3d3298"/>
<path d="M458.4 404.3h0" stroke="#f2e428"/>
<path d="M460.7 410.3h0" stroke="#2fb8ab"/>
<path d="M445.8 410.1h0" stroke="#3d3095"/>
<path d="M457.7 421.5h0" stroke="#3d3095"/>
<path d="M456.1 396.0h0" stroke="#2fb8ac"/>
<path d="M437.8 404.5h0" stroke="#3e40ab"/>
<path d="M441.8 405.3h0" stroke="#3f4cbc"/>
<path d="M453.4 406.1h0" stroke="#91c33c"/>
<path d="M454.1 404.3h0" stroke="#f6d028"/>
<path d="M452.6 416.2h0" stroke="#3f49b8"/>
<path d="M435.9 402.5h0" stroke="#3b92e1"/>
<path d="M440.1 412.0h0" stroke="#6ac24d"/>
<path d="M446.4 416.8h0" stroke="#b8c12f"/>
<path d="M450.9 408.5h0" stroke="#74c348"/>
<path d="M463.6 422.7h0" stroke="#3f4fc0"/>
<path d="M466.2 429.0h0" stroke="#3e43b0"/>
<path d="M455.7 414.7h0" stroke="#33bb99"/>
<path d="M447.6 410.5h0" stroke="#4dbf73"/>
<path d="M455.5 421.6h0" stroke="#3d78d6"/>
<path d="M445.6 420.3h0" stroke="#30b9a6"/>
<path d="M445.6 411.3h0" stroke="#33bb97"/>
<path d="M451.4 406.9h0" stroke="#f7ca28"/>
<path d="M460.0 427.9h0" stroke="#2fb8a9"/>
<path d="M449.7 408.3h0" stroke="#3d3ba5"/>
<path d="M456.5 400.7h0" stroke="#7ac345"/>
<path d="M438.8 427.0h0" stroke="#5bc061"/>
<path d="M459.5 414.3h0" stroke="#3d3aa2"/>
<path d="M464.7 426.4h0" stroke="#369ed4"/>
<path d="M440.3 406.4h0" stroke="#2cb6b9"/>
<path d="M441.5 401.3h0" stroke="#3d3297"/>
<path d="M421.6 388.2h0" stroke="#3d3095"/>
<path d="M460.9 410.0h0" stroke="#6ec34a"/>
<path d="M447.5 408.4h0" stroke="#3d3197"/>
<path d="M452.6 416.8h0" stroke="#2eb7b0"/>
<path d="M447.4 414.6h0" stroke="#b9c12f"/>
<path d="M455.6 400.4h0" stroke="#e2b52e"/>
<path d="M450.8 410.3h0" stroke="#3e3da7"/>
<path d="M442.1 414.8h0" stroke="#f2e428"/>
<path d="M445.9 410.4h0" stroke="#f6c02a"/>
<path d="M462.7 415.5h0" stroke="#3e42ae"/>
<path d="M461.0 423.4h0" stroke="#3e3ea8"/>
<path d="M432.5 397.6h0" stroke="#3a95de"/>
<path d="M435.3 414.8h0" stroke="#30abc7"/>
<path d="M444.7 416.7h0" stroke="#b8c12f"/>
<path d="M456.4 426.5h0" stroke="#3f55c8"/>
<path d="M450.0 406.4h0" stroke="#2fadc4"/>
<path d="M450.5 406.6h0" stroke="#f7cc28"/>
<path d="M432.9 400.5h0" stroke="#3e40ab"/>
<path d="M455.9 401.5h0" stroke="#35bc94"/>
<path d="M463.1 426.5h0" stroke="#3c84dc"/>
<path d="M464.4 430.7h0" stroke="#3d39a2"/>
<path d="M447.9 409.1h0" stroke="#82c342"/>
<path d="M448.9 409.8h0" stroke="#33bb97"/>
<path d="M478.4 427.7h0" stroke="#31a9c8"/>
<path d="M437.2 403.2h0" stroke="#3e41ad"/>
<path d="M451.5 415.7h0" stroke="#3e47b5"/>
<path d="M456.2 401.6h0" stroke="#2db7b2"/>
<path d="M463.3 422.2h0" stroke="#3d3095"/>
<path d="M447.1 410.5h0" stroke="#66c253"/>
<path d="M453.2 410.1h0" stroke="#afc330"/>
<path d="M461.9 421.2h0" stroke="#3e46b4"/>
<path d="M460.4 428.1h0" stroke="#3d3ba4"/>
<path d="M436.0 403.0h0" stroke="#3e46b3"/>
<path d="M426.2 403.0h0" stroke="#2cb6b8"/>
<path d="M442.7 399.9h0" stroke="#3f51c2"/>
<path d="M442.5 400.7h0" stroke="#3d38a1"/>
<path d="M466.9 422.2h0" stroke="#3e40ac"/>
<path d="M450.2 409.5h0" stroke="#f2e428"/>
<path d="M442.3 406.0h0" stroke="#3e3ea8"/>
<path d="M450.0 413.5h0" stroke="#9ec337"/>
<path d="M441.4 414.5h0" stroke="#33a5cd"/>
<path d="M444.8 408.2h0" stroke="#33bb96"/>
<path d="M445.0 414.7h0" stroke="#f2e428"/>
<path d="M443.5 406.3h0" stroke="#2fb8ab"/>
<path d="M446.0 416.3h0" stroke="#f5bd2b"/>
<path d="M453.7 419.1h0" stroke="#3d3aa3"/>
<path d="M437.4 403.9h0" stroke="#3d379f"/>
<path d="M458.0 423.2h0" stroke="#379cd7"/>
<path d="M447.2 414.6h0" stroke="#4abe78"/>
<path d="M431.1 399.9h0" stroke="#3e3da8"/>
<path d="M437.1 412.2h0" stroke="#3d3ba5"/>
<path d="M453.7 419.2h0" stroke="#3f4cbc"/>
<path d="M435.8 405.7h0" stroke="#3e44b1"/>
<path d="M457.9 398.9h0" stroke="#33bb99"/>
<path d="M456.9 417.5h0" stroke="#3c8cdf"/>
<path d="M441.0 404.0h0" stroke="#3e42ae"/>
<path d="M457.3 401.1h0" stroke="#3c90e1"/>
<path d="M463.2 427.0h0" stroke="#3d3aa3"/>
<path d="M451.5 408.7h0" stroke="#f5bc2b"/>
<path d="M449.2 415.1h0" stroke="#33a6cc"/>
<path d="M455.9 406.6h0" stroke="#87c340"/>
<path d="M457.0 423.5h0" stroke="#3f4cbc"/>
<path d="M458.5 404.3h0" stroke="#8ec33d"/>
<path d="M458.5 418.3h0" stroke="#c2be2f"/>
<path d="M448.1 413.8h0" stroke="#f4b52c"/>
<path d="M444.8 383.0h0" stroke="#3c90e1"/>
<path d="M458.3 416.1h0" stroke="#3e43af"/>
<path d="M431.6 420.9h0" stroke="#f5bd2b"/>
<path d="M434.5 405.5h0" stroke="#3d3095"/>
<path d="M454.4 409.2h0" stroke="#85c341"/>
<path d="M465.1 404.9h0" stroke="#2fb8ab"/>
<path d="M436.0 416.0h0" stroke="#b2c32f"/>
<path d="M441.4 413.4h0" stroke="#8fc33d"/>
<path d="M452.7 406.9h0" stroke="#f6d228"/>
<path d="M452.4 408.2h0" stroke="#d6b82e"/>
<path d="M456.9 420.4h0" stroke="#2fb8ac"/>
<path d="M465.6 430.8h0" stroke="#3e3da7"/>
<path d="M464.2 427.8h0" stroke="#3f4ebe"/>
<path d="M435.2 414.0h0" stroke="#2cb6b9"/>
<path d="M421.8 390.7h0" stroke="#3e3da6"/>
<path d="M458.4 419.6h0" stroke="#3d379f"/>
<path d="M455.6 416.0h0" stroke="#3d80da"/>
<path d="M462.1 420.6h0" stroke="#3e3da8"/>
<path d="M454.8 405.8h0" stroke="#379bd8"/>
<path d="M454.3 409.0h0" stroke="#31baa1"/>
<path d="M455.2 407.6h0" stroke="#f4d928"/>
<path d="M454.7 407.5h0" stroke="#f7cc28"/>
<path d="M456.0 421.8h0" stroke="#3d3197"/>
<path d="M429.5 397.7h0" stroke="#3c88de"/>
<path d="M468.5 426.1h0" stroke="#3d3ba5"/>
<path d="M445.6 415.2h0" stroke="#f5b92b"/>
<path d="M458.8 417.1h0" stroke="#3e44b1"/>
<path d="M463.8 423.1h0" stroke="#3d3297"/>
<path d="M453.1 416.8h0" stroke="#3f50c1"/>
<path d="M438.3 402.4h0" stroke="#3e47b5"/>
<path d="M439.3 405.2h0" stroke="#3d7ad8"/>
<path d="M454.4 402.2h0" stroke="#b1c32f"/>
<path d="M452.2 411.6h0" stroke="#b1c32f"/>
<path d="M449.9 415.0h0" stroke="#a1c336"/>
<path d="M475.2 429.2h0" stroke="#3d3aa2"/>
<path d="M460.3 422.1h0" stroke="#3d7ed9"/>
<path d="M456.7 422.5h0" stroke="#3e41ad"/>
<path d="M458.0 410.5h0" stroke="#c7bd2f"/>
<path d="M446.7 409.2h0" stroke="#f5b72c"/>
<path d="M446.8 418.7h0" stroke="#32ba9e"/>
<path d="M453.3 407.1h0" stroke="#e9b22e"/>
<path d="M457.5 406.2h0" stroke="#cdbb2f"/>
<path d="M465.2 399.1h0" stroke="#9dc337"/>
<path d="M432.9 420.1h0" stroke="#f6d328"/>
<path d="M447.1 406.8h0" stroke="#d0ba2f"/>
<path d="M431.1 419.8h0" stroke="#32ba9f"/>
<path d="M465.9 423.6h0" stroke="#3d3aa3"/>
<path d="M457.1 406.1h0" stroke="#e9b32e"/>
<path d="M439.8 415.1h0" stroke="#3ebd87"/>
<path d="M430.0 423.2h0" stroke="#30acc6"/>
<path d="M457.6 422.1h0" stroke="#3d379f"/>
<path d="M441.7 393.9h0" stroke="#f4b52c"/>
<path d="M460.1 419.0h0" stroke="#3e40ab"/>
<path d="M445.7 415.9h0" stroke="#b1c32f"/>
<path d="M462.5 420.8h0" stroke="#3e40ac"/>
<path d="M451.3 402.5h0" stroke="#60c15b"/>
<path d="M449.0 416.6h0" stroke="#3e46b3"/>
<path d="M461.9 422.7h0" stroke="#3e3faa"/>
<path d="M443.2 404.4h0" stroke="#2eafc2"/>
<path d="M443.6 421.0h0" stroke="#30b9a6"/>
<path d="M437.5 395.4h0" stroke="#3d3095"/>
<path d="M446.7 405.6h0" stroke="#3e48b6"/>
<path d="M467.7 428.8h0" stroke="#3d3196"/>
<path d="M438.6 412.8h0" stroke="#86c340"/>
<path d="M455.3 415.0h0" stroke="#3d3197"/>
<path d="M455.1 420.0h0" stroke="#3d3095"/>
<path d="M440.7 404.5h0" stroke="#33a4ce"/>
<path d="M442.5 412.4h0" stroke="#3e3ea9"/>
<path d="M436.8 411.6h0" stroke="#3d73d5"/>
<path d="M437.3 412.1h0" stroke="#83c342"/>
<path d="M443.2 407.2h0" stroke="#3f4fc0"/>
<path d="M450.6 403.5h0" stroke="#f5b72c"/>
<path d="M448.8 415.7h0" stroke="#49be7a"/>
<path d="M451.1 409.8h0" stroke="#f7cf28"/>
<path d="M440.0 419.7h0" stroke="#cabc2f"/>
<path d="M444.0 406.1h0" stroke="#56c067"/>
<path d="M444.8 415.5h0" stroke="#2cb5bd"/>
<path d="M446.0 406.5h0" stroke="#3d349b"/>
<path d="M444.3 414.2h0" stroke="#47be7b"/>
<path d="M450.4 403.4h0" stroke="#34a3cf"/>
<path d="M446.5 415.0h0" stroke="#84c341"/>
<path d="M455.9 420.3h0" stroke="#3e40ab"/>
<path d="M460.1 406.4h0" stroke="#50bf70"/>
<path d="M453.6 402.3h0" stroke="#a4c334"/>
<path d="M450.5 417.8h0" stroke="#3e40ac"/>
<path d="M445.3 408.1h0" stroke="#3d39a2"/>
<path d="M450.7 412.7h0" stroke="#2cb6ba"/>
<path d="M459.7 408.5h0" stroke="#39bc8f"/>
<path d="M455.6 396.9h0" stroke="#389ad9"/>
<path d="M469.4 434.2h0" stroke="#389ad9"/>
<path d="M451.4 409.6h0" stroke="#f5bc2b"/>
<path d="M461.1 421.9h0" stroke="#3e40ac"/>
<path d="M464.4 423.0h0" stroke="#3e47b5"/>
<path d="M456.0 418.0h0" stroke="#3f53c5"/>
<path d="M457.5 421.0h0" stroke="#3e43b0"/>
<path d="M458.0 402.2h0" stroke="#5fc15c"/>
<path d="M443.6 403.5h0" stroke="#3e3ea9"/>
<path d="M443.8 415.1h0" stroke="#95c33a"/>
<path d="M460.6 421.0h0" stroke="#3d379f"/>
<path d="M450.1 409.3h0" stroke="#f7cf28"/>
<path d="M448.3 408.7h0" stroke="#5bc061"/>
<path d="M430.8 393.4h0" stroke="#3e46b3"/>
<path d="M447.6 413.7h0" stroke="#50bf6f"/>
<path d="M447.7 416.0h0" stroke="#2eb0c2"/>
<path d="M439.3 403.8h0" stroke="#3f50c1"/>
<path d="M457.1 424.2h0" stroke="#3d3ba4"/>
<path d="M441.6 409.6h0" stroke="#3d3197"/>
<path d="M445.5 410.1h0" stroke="#92c33b"/>
<path d="M441.7 405.1h0" stroke="#34a3cf"/>
<path d="M447.9 408.1h0" stroke="#f6c12a"/>
<path d="M460.7 423.6h0" stroke="#3d379f"/>
<path d="M460.9 424.5h0" stroke="#3d3095"/>
<path d="M435.0 420.1h0" stroke="#8fc33d"/>
<path d="M452.5 413.9h0" stroke="#adc331"/>
<path d="M443.9 417.0h0" stroke="#51bf6e"/>
<path d="M451.7 407.8h0" stroke="#d4b92e"/>
</g>
<line x1="396.00" y1="371.90" x2="396.00" y2="450.70" stroke="#3a3a3a" stroke-width="1"/>
<line x1="396.00" y1="450.70" x2="500.50" y2="450.70" stroke="#3a3a3a" stroke-width="1"/>
<line x1="394.20" y1="371.90" x2="396.00" y2="371.90" stroke="#3a3a3a" stroke-width="1"/>
<text x="393.60" y="374.85" font-size="8.2" text-anchor="end" fill="#1a1a1a">1</text>
<line x1="394.20" y1="391.60" x2="396.00" y2="391.60" stroke="#3a3a3a" stroke-width="1"/>
<text x="393.60" y="394.55" font-size="8.2" text-anchor="end" fill="#1a1a1a">0.5</text>
<line x1="394.20" y1="411.30" x2="396.00" y2="411.30" stroke="#3a3a3a" stroke-width="1"/>
<text x="393.60" y="414.25" font-size="8.2" text-anchor="end" fill="#1a1a1a">0</text>
<line x1="394.20" y1="431.00" x2="396.00" y2="431.00" stroke="#3a3a3a" stroke-width="1"/>
<text x="393.60" y="433.95" font-size="8.2" text-anchor="end" fill="#1a1a1a">-0.5</text>
<line x1="394.20" y1="450.70" x2="396.00" y2="450.70" stroke="#3a3a3a" stroke-width="1"/>
<text x="393.60" y="453.65" font-size="8.2" text-anchor="end" fill="#1a1a1a">-1</text>
<line x1="422.12" y1="450.70" x2="422.12" y2="452.50" stroke="#3a3a3a" stroke-width="0.9"/>
<line x1="448.25" y1="450.70" x2="448.25" y2="452.50" stroke="#3a3a3a" stroke-width="0.9"/>
<line x1="474.38" y1="450.70" x2="474.38" y2="452.50" stroke="#3a3a3a" stroke-width="0.9"/>
<line x1="500.50" y1="450.70" x2="500.50" y2="452.50" stroke="#3a3a3a" stroke-width="0.9"/>
<text x="396.00" y="461.85" font-size="8.2" text-anchor="middle" fill="#1a1a1a">-1</text>
<text x="422.12" y="461.85" font-size="8.2" text-anchor="middle" fill="#1a1a1a">-0.5</text>
<text x="448.25" y="461.85" font-size="8.2" text-anchor="middle" fill="#1a1a1a">0</text>
<text x="474.38" y="461.85" font-size="8.2" text-anchor="middle" fill="#1a1a1a">0.5</text>
<text x="500.50" y="461.85" font-size="8.2" text-anchor="middle" fill="#1a1a1a">1</text>
<text x="448.55" y="470.50" font-size="8.9" text-anchor="middle" fill="#1a1a1a">Coefficients Q<tspan font-size="6.5" dy="2">L</tspan></text>
<text x="401.00" y="368.27" font-size="7.7" text-anchor="start" fill="#1a1a1a">R<tspan font-size="5" dy="-3">2</tspan><tspan dy="3"> = -0.0488</tspan></text>
<text x="401.00" y="378.17" font-size="7.7" text-anchor="start" fill="#1a1a1a">p&#160; = 0.06096</text>
<text x="466.20" y="445.37" font-size="7.7" text-anchor="start" fill="#1a1a1a">VI task</text>
<text x="371.20" y="415.50" font-size="8.9" text-anchor="middle" fill="#1a1a1a" transform="rotate(-90 371.20 412.30)">Coefficients&#160; for ΦF<tspan font-size="6" dy="2">L</tspan><tspan dy="-2"> + θS</tspan><tspan font-size="6" dy="2">L</tspan></text>
<line x1="537.30" y1="411.60" x2="642.00" y2="411.60" stroke="#999" stroke-width="0.9" stroke-dasharray="3.5,3"/>
<line x1="589.65" y1="372.20" x2="589.65" y2="451.00" stroke="#aaa" stroke-width="0.9" stroke-dasharray="3.5,3"/>
<g stroke-width="2.1" stroke-linecap="round" fill="none">
<path d="M582.8 409.8h0" stroke="#3d379f"/>
<path d="M577.8 405.3h0" stroke="#3d3299"/>
<path d="M583.7 410.8h0" stroke="#3d3298"/>
<path d="M598.4 423.7h0" stroke="#3d3095"/>
<path d="M596.5 403.2h0" stroke="#f4b22d"/>
<path d="M552.4 388.6h0" stroke="#8cc33e"/>
<path d="M607.5 426.5h0" stroke="#3f4dbd"/>
<path d="M595.2 409.8h0" stroke="#93c33b"/>
<path d="M593.9 410.6h0" stroke="#ccbb2f"/>
<path d="M572.7 405.6h0" stroke="#3d3095"/>
<path d="M603.1 405.9h0" stroke="#7fc343"/>
<path d="M566.2 396.4h0" stroke="#3d80da"/>
<path d="M573.8 399.6h0" stroke="#3d39a2"/>
<path d="M602.2 424.4h0" stroke="#3f49b8"/>
<path d="M600.5 419.7h0" stroke="#3d3ba4"/>
<path d="M594.2 421.0h0" stroke="#3f4bba"/>
<path d="M604.4 416.8h0" stroke="#3d3095"/>
<path d="M604.8 426.9h0" stroke="#3d3095"/>
<path d="M596.5 409.4h0" stroke="#f2e428"/>
<path d="M584.4 408.7h0" stroke="#f5b72c"/>
<path d="M582.3 403.8h0" stroke="#3d39a2"/>
<path d="M580.8 402.0h0" stroke="#3d3095"/>
<path d="M576.6 406.8h0" stroke="#30b9a5"/>
<path d="M583.1 406.4h0" stroke="#3e3da7"/>
<path d="M604.5 432.2h0" stroke="#33a5cd"/>
<path d="M607.5 426.0h0" stroke="#3d3095"/>
<path d="M601.3 416.0h0" stroke="#3d3095"/>
<path d="M574.8 405.8h0" stroke="#3d3095"/>
<path d="M601.6 400.2h0" stroke="#a3c335"/>
<path d="M583.3 404.2h0" stroke="#3d3095"/>
<path d="M588.9 415.6h0" stroke="#6cc34b"/>
<path d="M591.2 409.6h0" stroke="#f2e428"/>
<path d="M579.5 406.9h0" stroke="#3e3ea9"/>
<path d="M601.7 420.7h0" stroke="#3f52c4"/>
<path d="M595.3 404.6h0" stroke="#2db7b2"/>
<path d="M574.9 409.1h0" stroke="#3e46b4"/>
<path d="M582.4 416.7h0" stroke="#c3be2f"/>
<path d="M590.7 411.1h0" stroke="#f6c02a"/>
<path d="M583.5 417.8h0" stroke="#ccbb2f"/>
<path d="M611.3 410.9h0" stroke="#3a94df"/>
<path d="M598.5 419.9h0" stroke="#2cb4bd"/>
<path d="M576.7 395.6h0" stroke="#3d77d6"/>
<path d="M603.1 427.2h0" stroke="#3c87dd"/>
<path d="M598.2 412.1h0" stroke="#2db3be"/>
<path d="M591.6 417.2h0" stroke="#3a94df"/>
<path d="M591.4 424.1h0" stroke="#3d349b"/>
<path d="M591.1 409.7h0" stroke="#3f51c3"/>
<path d="M595.2 404.5h0" stroke="#aac332"/>
<path d="M581.9 418.2h0" stroke="#f6d228"/>
<path d="M584.0 414.2h0" stroke="#d8b82e"/>
<path d="M599.2 420.9h0" stroke="#3f49b8"/>
<path d="M579.0 403.8h0" stroke="#3e44b0"/>
<path d="M600.9 408.4h0" stroke="#2cb6bb"/>
<path d="M602.1 407.0h0" stroke="#31b9a4"/>
<path d="M582.0 413.2h0" stroke="#3d3ba4"/>
<path d="M587.5 405.8h0" stroke="#40bd84"/>
<path d="M580.5 415.0h0" stroke="#b6c22f"/>
<path d="M585.1 410.0h0" stroke="#cfba2f"/>
<path d="M602.4 399.5h0" stroke="#f5d628"/>
<path d="M580.8 402.5h0" stroke="#3a96dd"/>
<path d="M591.0 406.1h0" stroke="#d7b82e"/>
<path d="M589.8 408.5h0" stroke="#3c8ddf"/>
<path d="M604.3 416.6h0" stroke="#3d3095"/>
<path d="M590.6 409.4h0" stroke="#f6c329"/>
<path d="M591.5 404.3h0" stroke="#6dc34b"/>
<path d="M599.6 422.3h0" stroke="#3e40ac"/>
<path d="M595.6 418.1h0" stroke="#3f48b7"/>
<path d="M574.9 397.2h0" stroke="#3e46b3"/>
<path d="M589.0 412.4h0" stroke="#eab22e"/>
<path d="M583.3 401.2h0" stroke="#3e42af"/>
<path d="M589.3 415.7h0" stroke="#f5bb2b"/>
<path d="M578.5 408.6h0" stroke="#369dd5"/>
<path d="M576.4 412.1h0" stroke="#3cbd8a"/>
<path d="M599.4 424.1h0" stroke="#3e47b5"/>
<path d="M599.4 402.7h0" stroke="#4fbf72"/>
<path d="M574.4 405.0h0" stroke="#33bb96"/>
<path d="M595.2 401.6h0" stroke="#62c159"/>
<path d="M603.9 419.7h0" stroke="#3d359c"/>
<path d="M579.6 406.4h0" stroke="#3e46b4"/>
<path d="M589.7 410.6h0" stroke="#3f4bba"/>
<path d="M590.4 413.0h0" stroke="#5bc061"/>
<path d="M599.7 418.6h0" stroke="#3e45b2"/>
<path d="M597.4 402.5h0" stroke="#72c349"/>
<path d="M577.1 410.5h0" stroke="#3e46b3"/>
<path d="M587.2 416.5h0" stroke="#f4b32d"/>
<path d="M594.4 417.3h0" stroke="#3e42ae"/>
<path d="M575.7 415.8h0" stroke="#30acc5"/>
<path d="M581.2 420.0h0" stroke="#b3c32f"/>
<path d="M579.4 420.2h0" stroke="#a0c336"/>
<path d="M570.9 403.1h0" stroke="#3f4bba"/>
<path d="M584.4 415.8h0" stroke="#a6c333"/>
<path d="M590.3 414.6h0" stroke="#3e3ea9"/>
<path d="M595.8 409.9h0" stroke="#65c254"/>
<path d="M583.3 418.5h0" stroke="#deb62e"/>
<path d="M585.7 400.9h0" stroke="#3f4bba"/>
<path d="M613.9 428.0h0" stroke="#3e44b0"/>
<path d="M581.4 415.4h0" stroke="#6ec34a"/>
<path d="M607.6 429.9h0" stroke="#3f5bca"/>
<path d="M596.8 407.8h0" stroke="#f6bf2a"/>
<path d="M602.5 402.3h0" stroke="#94c33b"/>
<path d="M586.3 413.6h0" stroke="#f5bd2b"/>
<path d="M608.0 428.9h0" stroke="#3e3ea8"/>
<path d="M583.0 395.4h0" stroke="#3f52c4"/>
<path d="M590.5 412.8h0" stroke="#3e40ab"/>
<path d="M590.0 408.5h0" stroke="#f7c629"/>
<path d="M575.5 403.3h0" stroke="#3d3197"/>
<path d="M585.4 401.9h0" stroke="#3e44b0"/>
<path d="M584.3 410.3h0" stroke="#31baa2"/>
<path d="M586.1 405.4h0" stroke="#3d369e"/>
<path d="M572.4 407.7h0" stroke="#30b9a4"/>
<path d="M575.1 398.0h0" stroke="#3f4fc0"/>
<path d="M584.7 417.6h0" stroke="#8fc33d"/>
<path d="M590.7 410.7h0" stroke="#3d3095"/>
<path d="M580.8 408.0h0" stroke="#3f50c1"/>
<path d="M577.2 397.8h0" stroke="#3b92e1"/>
<path d="M599.6 407.4h0" stroke="#f6c329"/>
<path d="M595.0 399.5h0" stroke="#aac332"/>
<path d="M575.5 401.8h0" stroke="#3e48b6"/>
<path d="M587.9 408.5h0" stroke="#8fc33d"/>
<path d="M581.2 399.2h0" stroke="#3e3da7"/>
<path d="M600.1 409.2h0" stroke="#efb12e"/>
<path d="M577.3 417.8h0" stroke="#32ba9d"/>
<path d="M577.6 405.6h0" stroke="#3e44b1"/>
<path d="M598.1 426.8h0" stroke="#3f56c8"/>
<path d="M601.2 420.9h0" stroke="#3998da"/>
<path d="M583.8 416.6h0" stroke="#61c159"/>
<path d="M597.7 411.1h0" stroke="#dab72e"/>
<path d="M591.5 411.5h0" stroke="#3d349b"/>
<path d="M597.1 416.8h0" stroke="#3d3ca5"/>
<path d="M589.5 409.3h0" stroke="#adc331"/>
<path d="M577.1 421.9h0" stroke="#5fc15c"/>
<path d="M585.2 404.6h0" stroke="#3e40ab"/>
<path d="M586.7 408.0h0" stroke="#2fadc4"/>
<path d="M611.8 428.3h0" stroke="#379cd6"/>
<path d="M595.2 407.1h0" stroke="#b6c22f"/>
<path d="M583.4 400.7h0" stroke="#3d38a0"/>
<path d="M587.1 403.7h0" stroke="#3a94df"/>
<path d="M594.0 417.6h0" stroke="#3e48b6"/>
<path d="M583.5 409.9h0" stroke="#3d3095"/>
<path d="M585.9 407.9h0" stroke="#3e3ca6"/>
<path d="M605.8 432.0h0" stroke="#3c87dd"/>
<path d="M585.4 402.5h0" stroke="#3d379f"/>
<path d="M582.6 408.5h0" stroke="#2cb6bb"/>
<path d="M593.3 399.1h0" stroke="#85c341"/>
<path d="M583.9 410.6h0" stroke="#3e3ea8"/>
<path d="M577.5 402.7h0" stroke="#3e43af"/>
<path d="M586.9 413.1h0" stroke="#a2c335"/>
<path d="M585.0 416.2h0" stroke="#d8b82e"/>
<path d="M602.5 419.4h0" stroke="#3e3ea8"/>
<path d="M580.6 404.0h0" stroke="#3f4ebf"/>
<path d="M597.7 419.2h0" stroke="#3e45b2"/>
<path d="M581.4 410.3h0" stroke="#62c158"/>
<path d="M571.7 411.6h0" stroke="#2eb1c0"/>
<path d="M603.0 405.8h0" stroke="#f4b02d"/>
<path d="M600.1 426.2h0" stroke="#3d3aa3"/>
<path d="M585.2 410.4h0" stroke="#f2e428"/>
<path d="M579.1 394.4h0" stroke="#3d359b"/>
<path d="M585.5 402.4h0" stroke="#3f4ebf"/>
<path d="M577.1 400.6h0" stroke="#3e3faa"/>
<path d="M603.5 422.5h0" stroke="#3f4aba"/>
<path d="M617.0 401.4h0" stroke="#88c340"/>
<path d="M600.8 393.1h0" stroke="#3d74d5"/>
<path d="M588.0 419.6h0" stroke="#42bd82"/>
<path d="M599.3 423.0h0" stroke="#3e42ae"/>
<path d="M591.5 406.3h0" stroke="#93c33b"/>
<path d="M593.0 402.2h0" stroke="#68c250"/>
<path d="M608.4 423.9h0" stroke="#3e45b2"/>
<path d="M569.8 404.6h0" stroke="#3d369d"/>
<path d="M604.8 422.2h0" stroke="#3d3399"/>
<path d="M583.0 415.2h0" stroke="#a6c333"/>
<path d="M575.6 398.3h0" stroke="#3d379f"/>
<path d="M602.4 408.0h0" stroke="#3d78d7"/>
<path d="M587.8 405.8h0" stroke="#3f53c6"/>
<path d="M635.4 380.7h0" stroke="#2fafc3"/>
<path d="M609.0 428.8h0" stroke="#3d3196"/>
<path d="M601.4 421.6h0" stroke="#3f51c3"/>
<path d="M593.9 416.2h0" stroke="#32a7ca"/>
<path d="M579.2 409.7h0" stroke="#3e43af"/>
<path d="M599.5 400.1h0" stroke="#7cc345"/>
<path d="M590.5 410.5h0" stroke="#f5bd2b"/>
<path d="M585.5 408.9h0" stroke="#f7cd28"/>
<path d="M598.6 408.9h0" stroke="#73c348"/>
<path d="M596.6 410.7h0" stroke="#38bc90"/>
<path d="M573.1 396.7h0" stroke="#2db6b5"/>
<path d="M596.0 415.4h0" stroke="#3d349b"/>
<path d="M579.5 420.7h0" stroke="#6ec34b"/>
<path d="M581.3 411.7h0" stroke="#65c254"/>
<path d="M594.4 418.6h0" stroke="#3f4ebe"/>
<path d="M593.0 413.3h0" stroke="#94c33b"/>
<path d="M593.9 416.4h0" stroke="#3e44b0"/>
<path d="M588.6 418.8h0" stroke="#3e3faa"/>
<path d="M591.0 424.1h0" stroke="#3e46b3"/>
<path d="M595.7 419.2h0" stroke="#2eb0c1"/>
<path d="M593.4 409.8h0" stroke="#f2e028"/>
<path d="M582.4 420.1h0" stroke="#f4b32d"/>
<path d="M593.7 408.7h0" stroke="#f6bf2a"/>
<path d="M581.7 410.1h0" stroke="#2eb0c2"/>
<path d="M586.5 408.8h0" stroke="#34bc95"/>
<path d="M577.2 400.1h0" stroke="#3d3095"/>
<path d="M589.3 411.4h0" stroke="#f6c02a"/>
<path d="M600.5 413.9h0" stroke="#3d3095"/>
<path d="M571.9 422.5h0" stroke="#f4b02d"/>
<path d="M589.3 413.0h0" stroke="#69c24f"/>
<path d="M590.4 412.0h0" stroke="#9dc337"/>
<path d="M579.0 422.2h0" stroke="#5fc15d"/>
<path d="M596.3 408.7h0" stroke="#81c343"/>
<path d="M590.4 411.5h0" stroke="#f6c229"/>
<path d="M595.8 410.3h0" stroke="#51bf6f"/>
<path d="M591.4 406.8h0" stroke="#a4c334"/>
<path d="M584.4 407.2h0" stroke="#2cb4bd"/>
<path d="M601.5 423.2h0" stroke="#3d3095"/>
<path d="M605.1 413.4h0" stroke="#33bb98"/>
<path d="M605.6 423.8h0" stroke="#3899da"/>
<path d="M571.0 396.7h0" stroke="#3e3faa"/>
<path d="M603.8 418.6h0" stroke="#3e41ad"/>
<path d="M571.0 420.8h0" stroke="#eeb12e"/>
<path d="M598.1 400.1h0" stroke="#e4b42e"/>
<path d="M574.8 398.3h0" stroke="#2db6b6"/>
<path d="M593.8 424.0h0" stroke="#3e3faa"/>
<path d="M603.7 398.3h0" stroke="#a9c332"/>
<path d="M587.5 413.1h0" stroke="#f5bc2b"/>
<path d="M609.3 430.7h0" stroke="#3e47b5"/>
<path d="M590.5 415.0h0" stroke="#a1c336"/>
<path d="M602.5 400.9h0" stroke="#c3be2f"/>
<path d="M571.4 389.5h0" stroke="#3a94df"/>
<path d="M591.7 402.2h0" stroke="#4dbf74"/>
<path d="M602.6 429.8h0" stroke="#3d3095"/>
<path d="M607.4 426.5h0" stroke="#3d3095"/>
<path d="M585.7 416.6h0" stroke="#6bc24c"/>
<path d="M597.0 404.7h0" stroke="#f6c429"/>
<path d="M605.6 420.9h0" stroke="#3e3da7"/>
<path d="M596.2 427.2h0" stroke="#3f4cbc"/>
<path d="M586.2 399.7h0" stroke="#c5bd2f"/>
<path d="M598.6 403.4h0" stroke="#47be7c"/>
<path d="M607.9 405.6h0" stroke="#32a6cc"/>
<path d="M604.0 404.6h0" stroke="#8ec33d"/>
<path d="M588.4 407.9h0" stroke="#c4be2f"/>
<path d="M593.6 418.3h0" stroke="#3d7bd8"/>
<path d="M604.2 404.6h0" stroke="#44be80"/>
<path d="M610.2 423.1h0" stroke="#3e3faa"/>
<path d="M588.5 408.6h0" stroke="#a0c336"/>
<path d="M595.1 420.5h0" stroke="#3f4dbe"/>
<path d="M592.6 416.0h0" stroke="#86c340"/>
<path d="M603.2 423.2h0" stroke="#3e3faa"/>
<path d="M585.8 408.0h0" stroke="#57c067"/>
<path d="M569.8 429.4h0" stroke="#f2e428"/>
<path d="M596.3 418.2h0" stroke="#3e45b3"/>
<path d="M580.5 419.5h0" stroke="#f7ce28"/>
<path d="M584.4 409.8h0" stroke="#87c340"/>
<path d="M581.8 409.3h0" stroke="#2fadc4"/>
<path d="M601.1 416.6h0" stroke="#3d3095"/>
<path d="M609.6 423.0h0" stroke="#359fd3"/>
<path d="M591.1 418.2h0" stroke="#3e42ae"/>
<path d="M571.1 423.8h0" stroke="#8bc33f"/>
<path d="M580.5 403.9h0" stroke="#3e43af"/>
<path d="M584.9 415.5h0" stroke="#f1b02e"/>
<path d="M587.7 407.2h0" stroke="#2fb8a9"/>
<path d="M586.1 410.6h0" stroke="#3e41ac"/>
<path d="M585.1 416.9h0" stroke="#f0b02e"/>
<path d="M597.3 416.9h0" stroke="#f4b62c"/>
<path d="M579.3 399.4h0" stroke="#2fadc4"/>
<path d="M598.1 420.7h0" stroke="#3e41ac"/>
<path d="M618.1 402.1h0" stroke="#33bb98"/>
<path d="M601.3 418.5h0" stroke="#b4c22f"/>
<path d="M599.8 406.4h0" stroke="#91c33c"/>
<path d="M573.2 403.0h0" stroke="#3d339a"/>
<path d="M610.8 422.7h0" stroke="#3d349b"/>
<path d="M586.2 408.2h0" stroke="#53bf6c"/>
<path d="M574.8 419.6h0" stroke="#79c346"/>
<path d="M580.1 403.9h0" stroke="#3e44b0"/>
<path d="M594.5 416.9h0" stroke="#31a9c9"/>
<path d="M588.3 413.4h0" stroke="#4ebf72"/>
<path d="M592.6 420.2h0" stroke="#31a8c9"/>
<path d="M602.0 421.3h0" stroke="#3d3ca5"/>
<path d="M574.8 415.5h0" stroke="#34a3cf"/>
<path d="M588.5 410.0h0" stroke="#f6c22a"/>
<path d="M588.2 410.7h0" stroke="#48be7a"/>
<path d="M603.7 421.4h0" stroke="#3d39a1"/>
<path d="M587.8 407.2h0" stroke="#3e40ab"/>
<path d="M586.7 412.0h0" stroke="#4ebf72"/>
<path d="M602.5 424.8h0" stroke="#3e3faa"/>
<path d="M587.4 413.3h0" stroke="#5bc061"/>
<path d="M590.5 407.3h0" stroke="#f4db28"/>
<path d="M568.2 425.0h0" stroke="#8bc33e"/>
<path d="M575.7 412.7h0" stroke="#90c33c"/>
<path d="M577.6 419.8h0" stroke="#c7bd2f"/>
<path d="M596.3 420.7h0" stroke="#3e43af"/>
<path d="M586.2 416.3h0" stroke="#b6c22f"/>
<path d="M605.4 427.5h0" stroke="#3e47b5"/>
<path d="M578.4 417.3h0" stroke="#65c254"/>
<path d="M593.1 406.8h0" stroke="#f4b32d"/>
<path d="M586.0 417.3h0" stroke="#33bb99"/>
<path d="M598.1 419.7h0" stroke="#3e44b0"/>
<path d="M585.5 412.7h0" stroke="#5ec15d"/>
<path d="M603.4 427.5h0" stroke="#369fd4"/>
<path d="M576.6 401.9h0" stroke="#3d369d"/>
<path d="M582.5 404.6h0" stroke="#3f54c7"/>
<path d="M582.1 406.9h0" stroke="#3e44b1"/>
<path d="M585.4 414.0h0" stroke="#f2e328"/>
<path d="M589.3 413.7h0" stroke="#7ac346"/>
<path d="M606.3 395.2h0" stroke="#f2e428"/>
<path d="M606.8 405.5h0" stroke="#b7c12f"/>
<path d="M594.2 406.7h0" stroke="#3f4cbc"/>
<path d="M584.9 406.6h0" stroke="#3d359c"/>
<path d="M577.5 395.5h0" stroke="#3e46b4"/>
<path d="M597.1 419.4h0" stroke="#3997dc"/>
<path d="M594.0 409.0h0" stroke="#51bf6e"/>
<path d="M606.9 418.4h0" stroke="#3d3095"/>
<path d="M600.3 419.5h0" stroke="#3d379e"/>
<path d="M603.0 419.5h0" stroke="#3e41ad"/>
<path d="M592.8 404.5h0" stroke="#abc332"/>
<path d="M579.7 403.0h0" stroke="#389ad8"/>
<path d="M597.6 412.6h0" stroke="#32bb9b"/>
<path d="M591.5 410.1h0" stroke="#2cb6b9"/>
<path d="M583.8 411.4h0" stroke="#f2e028"/>
<path d="M594.8 406.8h0" stroke="#4bbe77"/>
<path d="M588.4 416.3h0" stroke="#bebf2f"/>
<path d="M578.9 403.4h0" stroke="#3d3096"/>
<path d="M604.8 406.7h0" stroke="#389ad8"/>
<path d="M583.0 402.2h0" stroke="#3f53c5"/>
<path d="M594.0 412.0h0" stroke="#f5bb2b"/>
<path d="M595.1 411.7h0" stroke="#8ec33d"/>
<path d="M599.4 390.8h0" stroke="#8ac33f"/>
<path d="M587.0 407.2h0" stroke="#31a8ca"/>
<path d="M583.8 410.6h0" stroke="#33bb96"/>
<path d="M581.3 404.7h0" stroke="#3d3298"/>
<path d="M593.4 406.9h0" stroke="#97c339"/>
<path d="M591.7 413.9h0" stroke="#38bc90"/>
<path d="M592.5 413.8h0" stroke="#54c06b"/>
<path d="M577.1 410.5h0" stroke="#3d3095"/>
<path d="M573.3 386.5h0" stroke="#3f4dbd"/>
<path d="M593.3 418.1h0" stroke="#3d3ba4"/>
<path d="M598.3 412.8h0" stroke="#b3c22f"/>
<path d="M586.5 412.5h0" stroke="#adc331"/>
<path d="M584.8 404.3h0" stroke="#3e40ac"/>
<path d="M590.5 413.3h0" stroke="#3d3299"/>
<path d="M586.9 410.1h0" stroke="#31baa1"/>
<path d="M594.6 411.2h0" stroke="#5fc15c"/>
<path d="M598.9 428.1h0" stroke="#3b93e0"/>
<path d="M579.2 403.7h0" stroke="#3d349a"/>
<path d="M586.7 401.2h0" stroke="#3e40ab"/>
<path d="M604.8 418.9h0" stroke="#3e41ad"/>
<path d="M569.4 396.5h0" stroke="#3e46b3"/>
<path d="M571.2 396.5h0" stroke="#3d3095"/>
<path d="M578.4 398.0h0" stroke="#2eb8ae"/>
<path d="M565.5 397.7h0" stroke="#3e40ac"/>
<path d="M581.2 409.2h0" stroke="#3e42ae"/>
<path d="M604.9 423.2h0" stroke="#3e47b5"/>
<path d="M580.7 414.9h0" stroke="#32ba9e"/>
<path d="M572.9 401.5h0" stroke="#3d3095"/>
<path d="M586.9 403.6h0" stroke="#3e40ac"/>
<path d="M595.8 419.5h0" stroke="#3d3ba5"/>
<path d="M594.9 408.6h0" stroke="#2eb1c0"/>
<path d="M593.1 406.0h0" stroke="#c7bd2f"/>
<path d="M575.6 405.8h0" stroke="#3e44b0"/>
<path d="M592.3 410.4h0" stroke="#3d3095"/>
<path d="M596.0 422.3h0" stroke="#3f49b8"/>
<path d="M601.3 425.7h0" stroke="#3d379f"/>
<path d="M581.9 398.1h0" stroke="#e5b42e"/>
<path d="M575.5 425.4h0" stroke="#f7cb28"/>
<path d="M583.6 410.4h0" stroke="#3dbd88"/>
<path d="M591.9 408.1h0" stroke="#f5b82c"/>
<path d="M610.1 398.3h0" stroke="#aac332"/>
<path d="M571.4 395.9h0" stroke="#3d3aa3"/>
<path d="M595.3 409.1h0" stroke="#f3de28"/>
<path d="M593.3 418.3h0" stroke="#2faec3"/>
<path d="M608.0 429.4h0" stroke="#3e3ca6"/>
<path d="M596.5 405.1h0" stroke="#3d3196"/>
<path d="M605.0 404.2h0" stroke="#f5bc2b"/>
<path d="M602.2 417.6h0" stroke="#3e3da7"/>
<path d="M582.3 415.2h0" stroke="#32bb9b"/>
<path d="M582.0 412.0h0" stroke="#2db7b3"/>
<path d="M599.5 420.6h0" stroke="#3e3da8"/>
<path d="M603.3 423.6h0" stroke="#2cb5bc"/>
<path d="M589.3 413.4h0" stroke="#b2c32f"/>
<path d="M598.6 410.1h0" stroke="#2eb7b1"/>
<path d="M586.3 419.7h0" stroke="#f2b02e"/>
<path d="M595.9 417.6h0" stroke="#3e45b3"/>
<path d="M571.5 397.5h0" stroke="#32bb9c"/>
<path d="M593.5 405.8h0" stroke="#3fbd87"/>
<path d="M608.0 407.5h0" stroke="#64c255"/>
<path d="M575.7 420.3h0" stroke="#bbc02f"/>
<path d="M577.0 393.9h0" stroke="#3e3ea8"/>
<path d="M610.2 433.3h0" stroke="#3d7bd8"/>
<path d="M578.3 419.1h0" stroke="#41bd83"/>
<path d="M603.4 421.8h0" stroke="#32ba9d"/>
<path d="M584.9 413.4h0" stroke="#cbbb2f"/>
<path d="M596.0 419.4h0" stroke="#3d76d6"/>
<path d="M573.3 397.3h0" stroke="#3d379e"/>
<path d="M585.0 419.3h0" stroke="#91c33c"/>
<path d="M601.0 425.4h0" stroke="#3d3095"/>
<path d="M582.3 414.9h0" stroke="#dbb72e"/>
<path d="M574.3 398.4h0" stroke="#3f4aba"/>
<path d="M592.9 417.7h0" stroke="#3e46b4"/>
<path d="M576.4 414.1h0" stroke="#30acc5"/>
<path d="M571.0 397.9h0" stroke="#3f4cbc"/>
<path d="M602.3 419.8h0" stroke="#3e47b4"/>
<path d="M609.4 432.7h0" stroke="#3d38a0"/>
<path d="M589.9 409.6h0" stroke="#89c340"/>
<path d="M578.2 426.1h0" stroke="#44be7f"/>
<path d="M582.2 417.3h0" stroke="#f6d228"/>
<path d="M600.1 409.9h0" stroke="#f6c12a"/>
<path d="M582.8 403.1h0" stroke="#3e44b1"/>
<path d="M591.4 411.3h0" stroke="#57c066"/>
<path d="M574.7 396.7h0" stroke="#3e42ad"/>
<path d="M605.7 423.6h0" stroke="#2eb0c1"/>
<path d="M598.0 407.1h0" stroke="#31a8c9"/>
<path d="M597.1 417.9h0" stroke="#3d78d7"/>
<path d="M605.7 426.5h0" stroke="#3d3095"/>
<path d="M591.9 409.3h0" stroke="#d8b82e"/>
<path d="M600.0 407.0h0" stroke="#bbc02f"/>
<path d="M600.5 400.0h0" stroke="#f6be2a"/>
<path d="M577.0 421.9h0" stroke="#f4da28"/>
<path d="M600.2 423.6h0" stroke="#3e47b5"/>
<path d="M583.5 409.2h0" stroke="#2eb7b1"/>
<path d="M586.1 410.9h0" stroke="#3d7ed9"/>
<path d="M600.2 417.8h0" stroke="#3e3ea9"/>
<path d="M593.7 409.7h0" stroke="#3e3da7"/>
<path d="M606.3 403.2h0" stroke="#2fadc4"/>
<path d="M584.2 413.9h0" stroke="#3e47b4"/>
<path d="M609.7 420.0h0" stroke="#3d3399"/>
<path d="M589.0 411.6h0" stroke="#f4da28"/>
<path d="M570.3 426.5h0" stroke="#f7c529"/>
<path d="M578.5 397.6h0" stroke="#3d359c"/>
<path d="M596.5 425.6h0" stroke="#3e3ca6"/>
<path d="M598.3 420.5h0" stroke="#3d359c"/>
<path d="M586.3 407.3h0" stroke="#3d3095"/>
<path d="M580.2 404.0h0" stroke="#3e46b4"/>
<path d="M602.1 402.5h0" stroke="#2eb8ae"/>
<path d="M570.8 426.0h0" stroke="#b8c12f"/>
<path d="M589.7 409.1h0" stroke="#f2e428"/>
<path d="M616.5 424.8h0" stroke="#3f50c1"/>
<path d="M582.7 406.2h0" stroke="#30b9a5"/>
<path d="M582.1 402.1h0" stroke="#3d3ca5"/>
<path d="M600.6 422.2h0" stroke="#3d80da"/>
<path d="M574.5 396.8h0" stroke="#3e42ae"/>
<path d="M600.2 412.8h0" stroke="#3b93e0"/>
<path d="M586.0 410.4h0" stroke="#f2e428"/>
<path d="M600.2 405.2h0" stroke="#3cbd8b"/>
<path d="M599.8 418.4h0" stroke="#3e46b4"/>
<path d="M587.3 414.3h0" stroke="#5ac062"/>
<path d="M602.7 404.4h0" stroke="#d2b92e"/>
<path d="M592.6 408.1h0" stroke="#2db2c0"/>
<path d="M584.2 402.9h0" stroke="#3c8ade"/>
<path d="M577.3 402.4h0" stroke="#3d3aa3"/>
<path d="M585.5 419.1h0" stroke="#f7c728"/>
<path d="M599.6 422.1h0" stroke="#3e3faa"/>
<path d="M587.1 415.8h0" stroke="#d2b92e"/>
<path d="M586.5 412.3h0" stroke="#f2e428"/>
<path d="M575.9 399.9h0" stroke="#3d359c"/>
<path d="M582.4 405.5h0" stroke="#3e45b2"/>
<path d="M598.2 410.5h0" stroke="#3d38a1"/>
<path d="M581.0 416.7h0" stroke="#30b9a7"/>
<path d="M590.5 408.6h0" stroke="#f4b02d"/>
<path d="M593.6 402.5h0" stroke="#55c069"/>
<path d="M603.0 422.7h0" stroke="#2eb0c2"/>
<path d="M590.3 415.4h0" stroke="#35a1d1"/>
<path d="M588.4 410.1h0" stroke="#3d3399"/>
<path d="M602.6 403.8h0" stroke="#d1ba2f"/>
<path d="M587.4 408.4h0" stroke="#3e43b0"/>
<path d="M585.1 410.6h0" stroke="#3d3ba4"/>
<path d="M583.0 418.9h0" stroke="#7ec344"/>
<path d="M595.0 411.4h0" stroke="#d2b92e"/>
<path d="M580.6 411.5h0" stroke="#bcc02f"/>
<path d="M592.4 408.7h0" stroke="#f2e428"/>
<path d="M596.9 416.6h0" stroke="#3f4bba"/>
<path d="M586.4 412.7h0" stroke="#e8b32e"/>
<path d="M585.6 417.9h0" stroke="#96c33a"/>
<path d="M545.7 394.9h0" stroke="#a9c332"/>
<path d="M581.7 405.1h0" stroke="#3d78d7"/>
<path d="M583.3 407.1h0" stroke="#3d369e"/>
<path d="M570.5 398.4h0" stroke="#3f4ab9"/>
<path d="M612.3 427.4h0" stroke="#3e43af"/>
<path d="M581.9 400.8h0" stroke="#3e3faa"/>
<path d="M586.3 405.5h0" stroke="#3d3197"/>
<path d="M587.6 405.0h0" stroke="#3f49b7"/>
<path d="M584.5 390.4h0" stroke="#f6c22a"/>
<path d="M586.8 405.5h0" stroke="#3d80da"/>
<path d="M587.2 413.3h0" stroke="#60c15a"/>
<path d="M595.5 413.4h0" stroke="#cdbb2f"/>
<path d="M580.2 403.6h0" stroke="#3e3ca6"/>
<path d="M576.6 414.6h0" stroke="#3a95de"/>
<path d="M591.3 405.6h0" stroke="#3e41ad"/>
<path d="M609.4 429.1h0" stroke="#3e42ad"/>
<path d="M579.3 404.4h0" stroke="#3f4ab9"/>
<path d="M586.1 410.5h0" stroke="#c1be2f"/>
<path d="M596.8 410.5h0" stroke="#f4b32d"/>
<path d="M602.1 424.6h0" stroke="#3f57c9"/>
<path d="M580.7 418.1h0" stroke="#c6bd2f"/>
<path d="M588.8 405.0h0" stroke="#2cb5bc"/>
<path d="M594.1 418.9h0" stroke="#3f4ab8"/>
<path d="M602.2 420.2h0" stroke="#3f4dbd"/>
<path d="M601.5 406.1h0" stroke="#8fc33d"/>
<path d="M592.6 413.6h0" stroke="#3e3da8"/>
<path d="M589.9 407.7h0" stroke="#e2b52e"/>
<path d="M581.9 423.0h0" stroke="#2eb7b0"/>
<path d="M604.0 418.3h0" stroke="#3f49b7"/>
<path d="M592.1 410.3h0" stroke="#3f48b7"/>
<path d="M591.7 408.4h0" stroke="#bcc02f"/>
<path d="M575.9 415.4h0" stroke="#2eb7b1"/>
</g>
<line x1="537.30" y1="372.20" x2="537.30" y2="451.00" stroke="#3a3a3a" stroke-width="1"/>
<line x1="537.30" y1="451.00" x2="642.00" y2="451.00" stroke="#3a3a3a" stroke-width="1"/>
<line x1="535.50" y1="372.20" x2="537.30" y2="372.20" stroke="#3a3a3a" stroke-width="1"/>
<text x="534.90" y="375.15" font-size="8.2" text-anchor="end" fill="#1a1a1a">1</text>
<line x1="535.50" y1="391.90" x2="537.30" y2="391.90" stroke="#3a3a3a" stroke-width="1"/>
<text x="534.90" y="394.85" font-size="8.2" text-anchor="end" fill="#1a1a1a">0.5</text>
<line x1="535.50" y1="411.60" x2="537.30" y2="411.60" stroke="#3a3a3a" stroke-width="1"/>
<text x="534.90" y="414.55" font-size="8.2" text-anchor="end" fill="#1a1a1a">0</text>
<line x1="535.50" y1="431.30" x2="537.30" y2="431.30" stroke="#3a3a3a" stroke-width="1"/>
<text x="534.90" y="434.25" font-size="8.2" text-anchor="end" fill="#1a1a1a">-0.5</text>
<line x1="535.50" y1="451.00" x2="537.30" y2="451.00" stroke="#3a3a3a" stroke-width="1"/>
<text x="534.90" y="453.95" font-size="8.2" text-anchor="end" fill="#1a1a1a">-1</text>
<line x1="563.47" y1="451.00" x2="563.47" y2="452.80" stroke="#3a3a3a" stroke-width="0.9"/>
<line x1="589.65" y1="451.00" x2="589.65" y2="452.80" stroke="#3a3a3a" stroke-width="0.9"/>
<line x1="615.83" y1="451.00" x2="615.83" y2="452.80" stroke="#3a3a3a" stroke-width="0.9"/>
<line x1="642.00" y1="451.00" x2="642.00" y2="452.80" stroke="#3a3a3a" stroke-width="0.9"/>
<text x="537.30" y="462.15" font-size="8.2" text-anchor="middle" fill="#1a1a1a">-1</text>
<text x="563.47" y="462.15" font-size="8.2" text-anchor="middle" fill="#1a1a1a">-0.5</text>
<text x="589.65" y="462.15" font-size="8.2" text-anchor="middle" fill="#1a1a1a">0</text>
<text x="615.83" y="462.15" font-size="8.2" text-anchor="middle" fill="#1a1a1a">0.5</text>
<text x="642.00" y="462.15" font-size="8.2" text-anchor="middle" fill="#1a1a1a">1</text>
<text x="589.95" y="470.80" font-size="8.9" text-anchor="middle" fill="#1a1a1a">Coefficients Q<tspan font-size="6.5" dy="2">R</tspan></text>
<text x="544.60" y="367.67" font-size="7.7" text-anchor="start" fill="#1a1a1a">R<tspan font-size="5" dy="-3">2</tspan><tspan dy="3"> = -0.054873</tspan></text>
<text x="544.60" y="376.27" font-size="7.7" text-anchor="start" fill="#1a1a1a">p&#160; = 0.035097</text>
<text x="618.80" y="445.97" font-size="7.7" text-anchor="start" fill="#1a1a1a">VI task</text>
<text x="512.50" y="415.80" font-size="8.9" text-anchor="middle" fill="#1a1a1a" transform="rotate(-90 512.50 412.60)">Coefficients&#160; for ΦF<tspan font-size="6" dy="2">R</tspan><tspan dy="-2"> + θS</tspan><tspan font-size="6" dy="2">R</tspan></text>
<circle cx="612.3" cy="443.2" r="1.05" fill="#3d3095" stroke="none" stroke-width="0"/>
<defs><linearGradient id="cb" x1="0" y1="0" x2="0" y2="1"><stop offset="0" stop-color="#f2e428"/><stop offset="0.09" stop-color="#f8cc28"/><stop offset="0.18" stop-color="#f4b02e"/><stop offset="0.26" stop-color="#b0c430"/><stop offset="0.33" stop-color="#6cc34c"/><stop offset="0.43" stop-color="#34bc96"/><stop offset="0.51" stop-color="#2cb6bc"/><stop offset="0.67" stop-color="#3c92e2"/><stop offset="0.83" stop-color="#4055c8"/><stop offset="1" stop-color="#3d3095"/></linearGradient></defs>
<rect x="646.80" y="304.80" width="7.50" height="80.30" fill="url(#cb)" stroke="#999" stroke-width="0.6"/>
<text x="656.00" y="308.46" font-size="8.5" text-anchor="start" fill="#1a1a1a">0.8</text>
<text x="656.00" y="321.86" font-size="8.5" text-anchor="start" fill="#1a1a1a">0.6</text>
<text x="656.00" y="334.06" font-size="8.5" text-anchor="start" fill="#1a1a1a">0.4</text>
<text x="656.00" y="349.06" font-size="8.5" text-anchor="start" fill="#1a1a1a">0.2</text>
<text x="656.00" y="361.46" font-size="8.5" text-anchor="start" fill="#1a1a1a">0</text>
<text x="656.00" y="374.56" font-size="8.5" text-anchor="start" fill="#1a1a1a">-0.2</text>
<text x="656.00" y="386.36" font-size="8.5" text-anchor="start" fill="#1a1a1a">-0.4</text>
<rect x="11.90" y="602.50" width="90.40" height="8.00" fill="#cf1f27" stroke="none" stroke-width="0"/>
<rect x="102.30" y="602.50" width="90.50" height="8.00" fill="#3a6cc0" stroke="none" stroke-width="0"/>
<rect x="11.90" y="602.50" width="180.90" height="8.00" fill="none" stroke="#555" stroke-width="0.6"/>
<line x1="11.90" y1="597.30" x2="11.90" y2="602.50" stroke="#666" stroke-width="0.9"/>
<line x1="29.90" y1="597.30" x2="29.90" y2="602.50" stroke="#666" stroke-width="0.9"/>
<line x1="48.20" y1="597.30" x2="48.20" y2="602.50" stroke="#666" stroke-width="0.9"/>
<line x1="66.50" y1="597.30" x2="66.50" y2="602.50" stroke="#666" stroke-width="0.9"/>
<line x1="84.50" y1="597.30" x2="84.50" y2="602.50" stroke="#666" stroke-width="0.9"/>
<line x1="102.30" y1="597.30" x2="102.30" y2="602.50" stroke="#666" stroke-width="0.9"/>
<line x1="120.30" y1="597.30" x2="120.30" y2="602.50" stroke="#666" stroke-width="0.9"/>
<line x1="138.30" y1="597.30" x2="138.30" y2="602.50" stroke="#666" stroke-width="0.9"/>
<line x1="156.50" y1="597.30" x2="156.50" y2="602.50" stroke="#666" stroke-width="0.9"/>
<line x1="174.40" y1="597.30" x2="174.40" y2="602.50" stroke="#666" stroke-width="0.9"/>
<line x1="192.80" y1="597.30" x2="192.80" y2="602.50" stroke="#666" stroke-width="0.9"/>
<text x="20.90" y="595.40" font-size="8.6" text-anchor="middle" fill="#1a1a1a">1</text>
<text x="39.20" y="595.40" font-size="8.6" text-anchor="middle" fill="#1a1a1a">2</text>
<text x="57.20" y="595.40" font-size="8.6" text-anchor="middle" fill="#1a1a1a">3</text>
<text x="74.80" y="595.40" font-size="8.6" text-anchor="middle" fill="#1a1a1a">...</text>
<text x="93.10" y="595.40" font-size="8.6" text-anchor="middle" fill="#1a1a1a">N</text>
<text x="111.40" y="595.40" font-size="8.6" text-anchor="middle" fill="#1a1a1a">1</text>
<text x="129.10" y="595.40" font-size="8.6" text-anchor="middle" fill="#1a1a1a">2</text>
<text x="147.00" y="595.40" font-size="8.6" text-anchor="middle" fill="#1a1a1a">3</text>
<text x="183.00" y="595.40" font-size="8.6" text-anchor="middle" fill="#1a1a1a">N</text>
<text x="102.10" y="621.01" font-size="8.35" text-anchor="middle" fill="#1a1a1a">Sessions</text>
<text x="80.00" y="552.28" font-size="8.0" text-anchor="middle" fill="#1a1a1a">Intra-task</text>
<text x="80.00" y="562.98" font-size="8.0" text-anchor="middle" fill="#1a1a1a">testing</text>
<text x="124.60" y="552.39" font-size="8.3" text-anchor="middle" fill="#8a8a8a" style="stroke:#8a8a8a">Cross-task</text>
<text x="124.60" y="563.09" font-size="8.3" text-anchor="middle" fill="#8a8a8a" style="stroke:#8a8a8a">testing</text>
<path d="M85.6,581.5 C86.5,575 87.5,569.5 89,570.5 C90.5,571.5 91.5,576 92.3,579.5" fill="none" stroke="#333" stroke-width="0.9"/>
<path d="M86.5,575.5 C88,573.8 90,573.8 92.5,574.5" fill="none" stroke="#333" stroke-width="0.8"/>
<path d="M91.2,579 L92.6,581.2 L93.6,578.6 Z" fill="#333"/>
<path d="M93.5,574.3 C100,572.5 111,572.2 112.3,581.6" fill="none" stroke="#666" stroke-width="0.9" stroke-dasharray="2.6,2.1"/>
<path d="M93.5,573.0 C102.5,568.2 127.5,567.2 129.8,581.6" fill="none" stroke="#666" stroke-width="0.9" stroke-dasharray="2.6,2.1"/>
<path d="M93.5,571.8 C103.5,564.2 144.5,562.8 146.8,581.6" fill="none" stroke="#666" stroke-width="0.9" stroke-dasharray="2.6,2.1"/>
<rect x="11.90" y="683.80" width="90.40" height="8.00" fill="#3a6cc0" stroke="none" stroke-width="0"/>
<rect x="102.30" y="683.80" width="90.50" height="8.00" fill="#cf1f27" stroke="none" stroke-width="0"/>
<rect x="11.90" y="683.80" width="180.90" height="8.00" fill="none" stroke="#555" stroke-width="0.6"/>
<line x1="11.90" y1="678.60" x2="11.90" y2="683.80" stroke="#666" stroke-width="0.9"/>
<line x1="29.90" y1="678.60" x2="29.90" y2="683.80" stroke="#666" stroke-width="0.9"/>
<line x1="48.20" y1="678.60" x2="48.20" y2="683.80" stroke="#666" stroke-width="0.9"/>
<line x1="66.50" y1="678.60" x2="66.50" y2="683.80" stroke="#666" stroke-width="0.9"/>
<line x1="84.50" y1="678.60" x2="84.50" y2="683.80" stroke="#666" stroke-width="0.9"/>
<line x1="102.30" y1="678.60" x2="102.30" y2="683.80" stroke="#666" stroke-width="0.9"/>
<line x1="120.30" y1="678.60" x2="120.30" y2="683.80" stroke="#666" stroke-width="0.9"/>
<line x1="138.30" y1="678.60" x2="138.30" y2="683.80" stroke="#666" stroke-width="0.9"/>
<line x1="156.50" y1="678.60" x2="156.50" y2="683.80" stroke="#666" stroke-width="0.9"/>
<line x1="174.40" y1="678.60" x2="174.40" y2="683.80" stroke="#666" stroke-width="0.9"/>
<line x1="192.80" y1="678.60" x2="192.80" y2="683.80" stroke="#666" stroke-width="0.9"/>
<text x="20.90" y="676.70" font-size="8.6" text-anchor="middle" fill="#1a1a1a">1</text>
<text x="39.20" y="676.70" font-size="8.6" text-anchor="middle" fill="#1a1a1a">2</text>
<text x="57.20" y="676.70" font-size="8.6" text-anchor="middle" fill="#1a1a1a">3</text>
<text x="74.80" y="676.70" font-size="8.6" text-anchor="middle" fill="#1a1a1a">...</text>
<text x="93.10" y="676.70" font-size="8.6" text-anchor="middle" fill="#1a1a1a">N</text>
<text x="111.40" y="676.70" font-size="8.6" text-anchor="middle" fill="#1a1a1a">1</text>
<text x="129.10" y="676.70" font-size="8.6" text-anchor="middle" fill="#1a1a1a">2</text>
<text x="147.00" y="676.70" font-size="8.6" text-anchor="middle" fill="#1a1a1a">3</text>
<text x="183.00" y="676.70" font-size="8.6" text-anchor="middle" fill="#1a1a1a">N</text>
<text x="102.10" y="702.31" font-size="8.35" text-anchor="middle" fill="#1a1a1a">Sessions</text>
<text x="80.00" y="633.58" font-size="8.0" text-anchor="middle" fill="#1a1a1a">Intra-task</text>
<text x="80.00" y="644.28" font-size="8.0" text-anchor="middle" fill="#1a1a1a">testing</text>
<text x="124.60" y="633.69" font-size="8.3" text-anchor="middle" fill="#8a8a8a" style="stroke:#8a8a8a">Cross-task</text>
<text x="124.60" y="644.39" font-size="8.3" text-anchor="middle" fill="#8a8a8a" style="stroke:#8a8a8a">testing</text>
<path d="M85.6,662.8 C86.5,656.3 87.5,650.8 89,651.8 C90.5,652.8 91.5,657.3 92.3,660.8" fill="none" stroke="#333" stroke-width="0.9"/>
<path d="M86.5,656.8 C88,655.0999999999999 90,655.0999999999999 92.5,655.8" fill="none" stroke="#333" stroke-width="0.8"/>
<path d="M91.2,660.3 L92.6,662.5 L93.6,659.9 Z" fill="#333"/>
<path d="M93.5,655.6 C100,653.8 111,653.5 112.3,662.9" fill="none" stroke="#666" stroke-width="0.9" stroke-dasharray="2.6,2.1"/>
<path d="M93.5,654.3 C102.5,649.5 127.5,648.5 129.8,662.9" fill="none" stroke="#666" stroke-width="0.9" stroke-dasharray="2.6,2.1"/>
<path d="M93.5,653.1 C103.5,645.5 144.5,644.1 146.8,662.9" fill="none" stroke="#666" stroke-width="0.9" stroke-dasharray="2.6,2.1"/>
<text x="160.60" y="563.05" font-size="8.2" text-anchor="start" fill="#3a6cc0" style="stroke:#3a6cc0">VI task</text>
<text x="160.60" y="572.05" font-size="8.2" text-anchor="start" fill="#cf1f27" style="stroke:#cf1f27">VR task</text>
<line x1="278.40" y1="549.30" x2="278.40" y2="676.80" stroke="#3a3a3a" stroke-width="1"/>
<line x1="278.40" y1="676.80" x2="349.10" y2="676.80" stroke="#3a3a3a" stroke-width="1"/>
<line x1="276.40" y1="549.30" x2="278.40" y2="549.30" stroke="#3a3a3a" stroke-width="1"/>
<text x="274.40" y="552.27" font-size="8.25" text-anchor="end" fill="#1a1a1a">0.315</text>
<line x1="276.40" y1="591.80" x2="278.40" y2="591.80" stroke="#3a3a3a" stroke-width="1"/>
<text x="274.40" y="594.77" font-size="8.25" text-anchor="end" fill="#1a1a1a">0.31</text>
<line x1="276.40" y1="634.30" x2="278.40" y2="634.30" stroke="#3a3a3a" stroke-width="1"/>
<text x="274.40" y="637.27" font-size="8.25" text-anchor="end" fill="#1a1a1a">0.305</text>
<line x1="276.40" y1="676.80" x2="278.40" y2="676.80" stroke="#3a3a3a" stroke-width="1"/>
<text x="274.40" y="679.77" font-size="8.25" text-anchor="end" fill="#1a1a1a">0.3</text>
<line x1="293.20" y1="676.80" x2="293.20" y2="679.30" stroke="#3a3a3a" stroke-width="1"/>
<line x1="334.40" y1="676.80" x2="334.40" y2="679.30" stroke="#3a3a3a" stroke-width="1"/>
<line x1="293.20" y1="591.60" x2="293.20" y2="607.60" stroke="#111" stroke-width="1.2"/>
<line x1="291.20" y1="591.60" x2="295.20" y2="591.60" stroke="#111" stroke-width="1.1"/>
<line x1="291.20" y1="607.60" x2="295.20" y2="607.60" stroke="#111" stroke-width="1.1"/>
<circle cx="293.2" cy="600.0" r="3.4" fill="#111" stroke="none" stroke-width="0"/>
<line x1="334.40" y1="633.70" x2="334.40" y2="649.70" stroke="#888" stroke-width="1.2"/>
<line x1="332.40" y1="633.70" x2="336.40" y2="633.70" stroke="#888" stroke-width="1.1"/>
<line x1="332.40" y1="649.70" x2="336.40" y2="649.70" stroke="#888" stroke-width="1.1"/>
<circle cx="334.4" cy="642.0" r="3.4" fill="#888" stroke="none" stroke-width="0"/>
<line x1="293.20" y1="568.80" x2="293.20" y2="566.70" stroke="#222" stroke-width="0.9"/>
<line x1="293.20" y1="566.70" x2="334.40" y2="566.70" stroke="#222" stroke-width="0.9"/>
<line x1="334.40" y1="566.70" x2="334.40" y2="568.80" stroke="#222" stroke-width="0.9"/>
<text x="310.70" y="562.47" font-size="8.8" text-anchor="middle" fill="#1a1a1a">p = 0.005</text>
<text x="247.70" y="619.42" font-size="8.4" text-anchor="middle" fill="#1a1a1a" transform="rotate(-90 247.70 616.40)">Reward rate per trial</text>
<text x="293.30" y="684.40" font-size="8.6" text-anchor="end" fill="#1a1a1a" transform="rotate(-45 293.30 681.30)">Intra-task</text>
<text x="332.00" y="684.40" font-size="8.6" text-anchor="end" fill="#1a1a1a" transform="rotate(-45 332.00 681.30)">Cross-task</text>
<line x1="397.80" y1="665.40" x2="523.80" y2="604.80" stroke="#e8a31c" stroke-width="1.4"/>
<circle cx="406.2" cy="669.8" r="1.35" fill="none" stroke="#1f70e6" stroke-width="1.15"/>
<circle cx="412.9" cy="667.1" r="1.35" fill="none" stroke="#1f70e6" stroke-width="1.15"/>
<circle cx="419.4" cy="646.5" r="1.35" fill="none" stroke="#1f70e6" stroke-width="1.15"/>
<circle cx="426.2" cy="636.6" r="1.35" fill="none" stroke="#1f70e6" stroke-width="1.15"/>
<circle cx="429.2" cy="646.5" r="1.35" fill="none" stroke="#1f70e6" stroke-width="1.15"/>
<circle cx="432.3" cy="667.7" r="1.35" fill="none" stroke="#1f70e6" stroke-width="1.15"/>
<circle cx="434.5" cy="668.6" r="1.35" fill="none" stroke="#1f70e6" stroke-width="1.15"/>
<circle cx="436.3" cy="668.0" r="1.35" fill="none" stroke="#1f70e6" stroke-width="1.15"/>
<circle cx="442.5" cy="667.1" r="1.35" fill="none" stroke="#1f70e6" stroke-width="1.15"/>
<circle cx="442.5" cy="668.3" r="1.35" fill="none" stroke="#1f70e6" stroke-width="1.15"/>
<circle cx="442.5" cy="661.5" r="1.35" fill="none" stroke="#1f70e6" stroke-width="1.15"/>
<circle cx="442.5" cy="656.3" r="1.35" fill="none" stroke="#1f70e6" stroke-width="1.15"/>
<circle cx="442.5" cy="651.7" r="1.35" fill="none" stroke="#1f70e6" stroke-width="1.15"/>
<circle cx="444.0" cy="646.5" r="1.35" fill="none" stroke="#1f70e6" stroke-width="1.15"/>
<circle cx="443.7" cy="602.5" r="1.35" fill="none" stroke="#1f70e6" stroke-width="1.15"/>
<circle cx="444.9" cy="628.3" r="1.35" fill="none" stroke="#1f70e6" stroke-width="1.15"/>
<circle cx="446.2" cy="610.8" r="1.35" fill="none" stroke="#1f70e6" stroke-width="1.15"/>
<circle cx="446.8" cy="585.5" r="1.35" fill="none" stroke="#1f70e6" stroke-width="1.15"/>
<circle cx="448.6" cy="668.9" r="1.35" fill="none" stroke="#1f70e6" stroke-width="1.15"/>
<circle cx="451.7" cy="608.3" r="1.35" fill="none" stroke="#1f70e6" stroke-width="1.15"/>
<circle cx="452.3" cy="609.5" r="1.35" fill="none" stroke="#1f70e6" stroke-width="1.15"/>
<circle cx="451.7" cy="631.4" r="1.35" fill="none" stroke="#1f70e6" stroke-width="1.15"/>
<circle cx="453.8" cy="630.2" r="1.35" fill="none" stroke="#1f70e6" stroke-width="1.15"/>
<circle cx="453.8" cy="620.0" r="1.35" fill="none" stroke="#1f70e6" stroke-width="1.15"/>
<circle cx="453.8" cy="621.5" r="1.35" fill="none" stroke="#1f70e6" stroke-width="1.15"/>
<circle cx="454.8" cy="624.6" r="1.35" fill="none" stroke="#1f70e6" stroke-width="1.15"/>
<circle cx="455.4" cy="656.9" r="1.35" fill="none" stroke="#1f70e6" stroke-width="1.15"/>
<circle cx="454.8" cy="664.0" r="1.35" fill="none" stroke="#1f70e6" stroke-width="1.15"/>
<circle cx="456.0" cy="640.0" r="1.35" fill="none" stroke="#1f70e6" stroke-width="1.15"/>
<circle cx="456.0" cy="627.1" r="1.35" fill="none" stroke="#1f70e6" stroke-width="1.15"/>
<circle cx="457.2" cy="638.5" r="1.35" fill="none" stroke="#1f70e6" stroke-width="1.15"/>
<circle cx="458.5" cy="662.2" r="1.35" fill="none" stroke="#1f70e6" stroke-width="1.15"/>
<circle cx="458.5" cy="668.9" r="1.35" fill="none" stroke="#1f70e6" stroke-width="1.15"/>
<circle cx="459.1" cy="636.0" r="1.35" fill="none" stroke="#1f70e6" stroke-width="1.15"/>
<circle cx="460.0" cy="667.7" r="1.35" fill="none" stroke="#1f70e6" stroke-width="1.15"/>
<circle cx="461.5" cy="610.8" r="1.35" fill="none" stroke="#1f70e6" stroke-width="1.15"/>
<circle cx="463.1" cy="590.5" r="1.35" fill="none" stroke="#1f70e6" stroke-width="1.15"/>
<circle cx="462.2" cy="637.2" r="1.35" fill="none" stroke="#1f70e6" stroke-width="1.15"/>
<circle cx="463.1" cy="634.5" r="1.35" fill="none" stroke="#1f70e6" stroke-width="1.15"/>
<circle cx="464.0" cy="656.3" r="1.35" fill="none" stroke="#1f70e6" stroke-width="1.15"/>
<circle cx="466.2" cy="607.1" r="1.35" fill="none" stroke="#1f70e6" stroke-width="1.15"/>
<circle cx="469.5" cy="636.3" r="1.35" fill="none" stroke="#1f70e6" stroke-width="1.15"/>
<circle cx="469.5" cy="644.6" r="1.35" fill="none" stroke="#1f70e6" stroke-width="1.15"/>
<circle cx="473.2" cy="608.0" r="1.35" fill="none" stroke="#1f70e6" stroke-width="1.15"/>
<circle cx="473.8" cy="628.3" r="1.35" fill="none" stroke="#1f70e6" stroke-width="1.15"/>
<circle cx="474.5" cy="650.2" r="1.35" fill="none" stroke="#1f70e6" stroke-width="1.15"/>
<circle cx="476.3" cy="612.3" r="1.35" fill="none" stroke="#1f70e6" stroke-width="1.15"/>
<circle cx="479.4" cy="640.9" r="1.35" fill="none" stroke="#1f70e6" stroke-width="1.15"/>
<circle cx="480.0" cy="647.7" r="1.35" fill="none" stroke="#1f70e6" stroke-width="1.15"/>
<circle cx="482.5" cy="624.0" r="1.35" fill="none" stroke="#1f70e6" stroke-width="1.15"/>
<circle cx="490.8" cy="628.9" r="1.35" fill="none" stroke="#1f70e6" stroke-width="1.15"/>
<circle cx="492.9" cy="617.2" r="1.35" fill="none" stroke="#1f70e6" stroke-width="1.15"/>
<circle cx="494.5" cy="638.5" r="1.35" fill="none" stroke="#1f70e6" stroke-width="1.15"/>
<circle cx="496.3" cy="621.2" r="1.35" fill="none" stroke="#1f70e6" stroke-width="1.15"/>
<circle cx="512.6" cy="598.8" r="1.35" fill="none" stroke="#1f70e6" stroke-width="1.15"/>
<rect x="477.00" y="652.30" width="46.70" height="17.90" fill="#9b9b9b" stroke="none" stroke-width="0"/>
<text x="480.00" y="660.38" font-size="8.0" text-anchor="start" fill="#1a1a1a">R<tspan font-size="5" dy="-3">2</tspan><tspan dy="3"> = 0.4322</tspan></text>
<text x="480.00" y="668.38" font-size="8.0" text-anchor="start" fill="#1a1a1a">p &lt; 0.001</text>
<line x1="397.80" y1="577.80" x2="397.80" y2="677.50" stroke="#3a3a3a" stroke-width="1"/>
<line x1="397.80" y1="677.50" x2="523.80" y2="677.50" stroke="#3a3a3a" stroke-width="1"/>
<line x1="396.20" y1="678.15" x2="397.80" y2="678.15" stroke="#3a3a3a" stroke-width="0.8"/>
<line x1="396.20" y1="667.00" x2="397.80" y2="667.00" stroke="#3a3a3a" stroke-width="0.8"/>
<line x1="396.20" y1="655.85" x2="397.80" y2="655.85" stroke="#3a3a3a" stroke-width="0.8"/>
<line x1="396.20" y1="644.70" x2="397.80" y2="644.70" stroke="#3a3a3a" stroke-width="0.8"/>
<line x1="396.20" y1="633.55" x2="397.80" y2="633.55" stroke="#3a3a3a" stroke-width="0.8"/>
<line x1="396.20" y1="622.40" x2="397.80" y2="622.40" stroke="#3a3a3a" stroke-width="0.8"/>
<line x1="396.20" y1="611.25" x2="397.80" y2="611.25" stroke="#3a3a3a" stroke-width="0.8"/>
<line x1="396.20" y1="600.10" x2="397.80" y2="600.10" stroke="#3a3a3a" stroke-width="0.8"/>
<line x1="396.20" y1="588.95" x2="397.80" y2="588.95" stroke="#3a3a3a" stroke-width="0.8"/>
<line x1="396.20" y1="577.80" x2="397.80" y2="577.80" stroke="#3a3a3a" stroke-width="0.8"/>
<line x1="395.80" y1="577.80" x2="397.80" y2="577.80" stroke="#3a3a3a" stroke-width="1"/>
<text x="394.20" y="580.82" font-size="8.4" text-anchor="end" fill="#1a1a1a">0.4</text>
<line x1="395.80" y1="622.40" x2="397.80" y2="622.40" stroke="#3a3a3a" stroke-width="1"/>
<text x="394.20" y="625.42" font-size="8.4" text-anchor="end" fill="#1a1a1a">0.2</text>
<line x1="395.80" y1="667.00" x2="397.80" y2="667.00" stroke="#3a3a3a" stroke-width="1"/>
<text x="394.20" y="670.02" font-size="8.4" text-anchor="end" fill="#1a1a1a">0</text>
<line x1="397.80" y1="677.50" x2="397.80" y2="679.10" stroke="#3a3a3a" stroke-width="0.8"/>
<line x1="411.80" y1="677.50" x2="411.80" y2="679.10" stroke="#3a3a3a" stroke-width="0.8"/>
<line x1="425.80" y1="677.50" x2="425.80" y2="679.10" stroke="#3a3a3a" stroke-width="0.8"/>
<line x1="439.80" y1="677.50" x2="439.80" y2="679.10" stroke="#3a3a3a" stroke-width="0.8"/>
<line x1="453.80" y1="677.50" x2="453.80" y2="679.10" stroke="#3a3a3a" stroke-width="0.8"/>
<line x1="467.80" y1="677.50" x2="467.80" y2="679.10" stroke="#3a3a3a" stroke-width="0.8"/>
<line x1="481.80" y1="677.50" x2="481.80" y2="679.10" stroke="#3a3a3a" stroke-width="0.8"/>
<line x1="495.80" y1="677.50" x2="495.80" y2="679.10" stroke="#3a3a3a" stroke-width="0.8"/>
<line x1="509.80" y1="677.50" x2="509.80" y2="679.10" stroke="#3a3a3a" stroke-width="0.8"/>
<line x1="523.80" y1="677.50" x2="523.80" y2="679.10" stroke="#3a3a3a" stroke-width="0.8"/>
<text x="397.80" y="687.48" font-size="8.0" text-anchor="middle" fill="#1a1a1a">-0.08</text>
<text x="425.80" y="687.48" font-size="8.0" text-anchor="middle" fill="#1a1a1a">-0.04</text>
<text x="453.80" y="687.48" font-size="8.0" text-anchor="middle" fill="#1a1a1a">0</text>
<text x="481.80" y="687.48" font-size="8.0" text-anchor="middle" fill="#1a1a1a">0.04</text>
<text x="509.80" y="687.48" font-size="8.0" text-anchor="middle" fill="#1a1a1a">0.08</text>
<text x="460.20" y="700.79" font-size="8.3" text-anchor="middle" fill="#1a1a1a">Cross task performance</text>
<text x="376.90" y="629.01" font-size="8.35" text-anchor="middle" fill="#1a1a1a" transform="rotate(-90 376.90 626.00)">Accuracy of choice (DT model)</text>
<line x1="576.10" y1="554.90" x2="576.10" y2="677.70" stroke="#3a3a3a" stroke-width="1"/>
<line x1="576.10" y1="677.70" x2="685.00" y2="677.70" stroke="#3a3a3a" stroke-width="1"/>
<line x1="574.10" y1="554.90" x2="576.10" y2="554.90" stroke="#3a3a3a" stroke-width="1"/>
<text x="572.90" y="557.85" font-size="8.2" text-anchor="end" fill="#1a1a1a">1.5</text>
<line x1="574.10" y1="585.60" x2="576.10" y2="585.60" stroke="#3a3a3a" stroke-width="1"/>
<text x="572.90" y="588.55" font-size="8.2" text-anchor="end" fill="#1a1a1a">1</text>
<line x1="574.10" y1="616.30" x2="576.10" y2="616.30" stroke="#3a3a3a" stroke-width="1"/>
<text x="572.90" y="619.25" font-size="8.2" text-anchor="end" fill="#1a1a1a">0.5</text>
<line x1="574.10" y1="647.00" x2="576.10" y2="647.00" stroke="#3a3a3a" stroke-width="1"/>
<text x="572.90" y="649.95" font-size="8.2" text-anchor="end" fill="#1a1a1a">0</text>
<line x1="574.10" y1="677.70" x2="576.10" y2="677.70" stroke="#3a3a3a" stroke-width="1"/>
<text x="572.90" y="680.65" font-size="8.2" text-anchor="end" fill="#1a1a1a">-0.5</text>
<line x1="600.70" y1="677.70" x2="600.70" y2="680.20" stroke="#3a3a3a" stroke-width="1"/>
<line x1="624.70" y1="677.70" x2="624.70" y2="680.20" stroke="#3a3a3a" stroke-width="1"/>
<line x1="648.70" y1="677.70" x2="648.70" y2="680.20" stroke="#3a3a3a" stroke-width="1"/>
<line x1="672.40" y1="677.70" x2="672.40" y2="680.20" stroke="#3a3a3a" stroke-width="1"/>
<circle cx="600.7" cy="645.2" r="2.45" fill="none" stroke="#36d6a6" stroke-width="1.15"/>
<circle cx="624.7" cy="641.2" r="2.45" fill="none" stroke="#36d6a6" stroke-width="1.15"/>
<circle cx="648.7" cy="647.0" r="2.45" fill="none" stroke="#36d6a6" stroke-width="1.15"/>
<circle cx="672.4" cy="571.7" r="2.45" fill="none" stroke="#36d6a6" stroke-width="1.15"/>
<text x="551.50" y="620.87" font-size="8.8" text-anchor="middle" fill="#1a1a1a" transform="rotate(-90 551.50 617.70)">Regression coefficients</text>
<text x="597.30" y="688.07" font-size="8.8" text-anchor="end" fill="#1a1a1a" transform="rotate(-45 597.30 684.90)">Model fit (AUC)</text>
<text x="621.30" y="688.07" font-size="8.8" text-anchor="end" fill="#1a1a1a" transform="rotate(-45 621.30 684.90)">RT</text>
<text x="645.30" y="688.07" font-size="8.8" text-anchor="end" fill="#1a1a1a" transform="rotate(-45 645.30 684.90)">ITI</text>
<text x="669.00" y="688.07" font-size="8.8" text-anchor="end" fill="#1a1a1a" transform="rotate(-45 669.00 684.90)">Cross task performance</text>
</svg></body></html>
